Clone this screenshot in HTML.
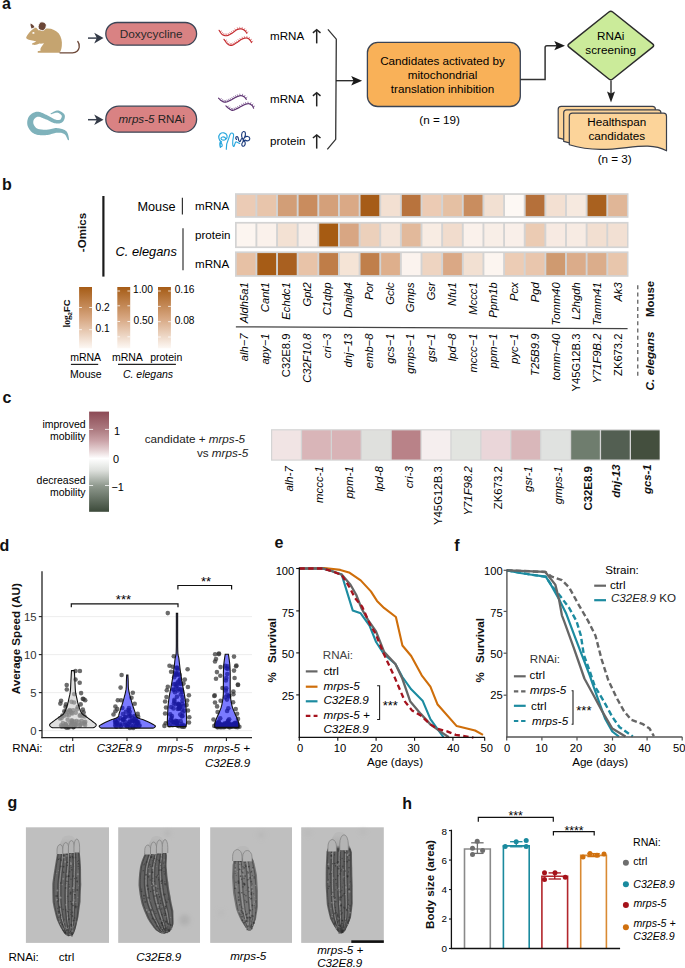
<!DOCTYPE html>
<html><head><meta charset="utf-8"><title>Figure</title>
<style>
html,body{margin:0;padding:0;background:#fff;}
svg{display:block;font-family:"Liberation Sans",sans-serif;}
</style></head>
<body>
<svg width="685" height="968" viewBox="0 0 685 968">
<rect x="0" y="0" width="685" height="968" fill="#fff"/>
<text x="1.90" y="8.80" font-size="16" font-weight="bold" fill="#111" >a</text>
<path d="M26.2,37.2 C27.5,34.5 29.5,32 31.5,30.2 C33,29 34.5,28 36,27.6 L38.8,30.6 C41,29.3 44,28.6 47,28.4 C52,28.2 56,30.3 58.8,33.6 C61.3,36.8 62.3,41.5 61.8,46 C61.5,49.5 60.6,51.6 59.4,52.8 L38.2,52.8 C37.4,52.6 37.4,51.4 38.4,51.1 L40.6,50.8 C40.2,49.5 40.4,48.2 41.3,47 L44,43.2 C42.5,43.6 41,43.8 39.5,43.6 L37,44.6 C35,45.2 32.5,45 32,44.3 C31.6,43.6 32.6,43 33.8,42.7 L36.3,41.6 C34.5,41 32.6,40.6 31,40.2 L28.8,39.7 C27.2,39.3 25.9,38.4 26.2,37.2 Z" fill="#c5a470"/>
<ellipse cx="42.2" cy="26.2" rx="3.9" ry="4.3" transform="rotate(20 42.2 26.2)" fill="#6b4636" stroke="#fff" stroke-width="0.8"/>
<path d="M30.6,23.6 C32.5,24.3 33.8,25.6 34.5,27.2 L31.6,28.6 C30.8,27 30.4,25.3 30.6,23.6 Z" fill="#6b4636"/>
<ellipse cx="33.4" cy="32.9" rx="1.1" ry="0.9" fill="#fff"/>
<path d="M60,52.8 L72.5,52.8 C76,52.6 78.6,50.5 79.2,47.3 C79.6,45 79,43 77.8,41.5" stroke="#6b4636" stroke-width="1.3" fill="none" stroke-linecap="round"/>
<path d="M50.85,114.27 L51.30,114.17 L51.89,113.98 L52.56,113.74 L53.31,113.47 L54.09,113.20 L54.89,112.96 L55.67,112.77 L56.39,112.65 L57.01,112.62 L57.49,112.69 L57.96,112.83 L58.51,113.05 L59.09,113.34 L59.67,113.69 L60.23,114.08 L60.73,114.50 L61.17,114.93 L61.50,115.35 L61.72,115.70 L61.80,115.93 L61.82,116.12 L61.81,116.44 L61.75,116.86 L61.62,117.35 L61.44,117.85 L61.21,118.35 L60.94,118.81 L60.66,119.19 L60.40,119.47 L60.18,119.64 L59.97,119.75 L59.68,119.86 L59.32,119.95 L58.90,120.01 L58.43,120.04 L57.90,120.03 L57.33,119.98 L56.73,119.90 L56.10,119.77 L55.48,119.61 L54.86,119.40 L54.18,119.09 L53.42,118.71 L52.61,118.27 L51.76,117.78 L50.87,117.26 L49.95,116.73 L49.02,116.21 L48.07,115.71 L47.14,115.27 L46.27,114.86 L45.40,114.43 L44.49,113.97 L43.56,113.51 L42.60,113.06 L41.62,112.64 L40.61,112.27 L39.57,111.97 L38.49,111.76 L37.36,111.70 L36.27,111.80 L35.23,112.04 L34.24,112.38 L33.31,112.80 L32.43,113.30 L31.61,113.86 L30.85,114.47 L30.15,115.12 L29.52,115.81 L28.95,116.55 L28.46,117.37 L28.06,118.25 L27.74,119.16 L27.49,120.09 L27.32,121.05 L27.22,122.02 L27.19,123.01 L27.26,124.00 L27.41,125.00 L27.65,125.96 L28.00,126.86 L28.42,127.74 L28.90,128.62 L29.46,129.49 L30.10,130.34 L30.81,131.17 L31.61,131.95 L32.49,132.69 L33.46,133.35 L34.52,133.91 L35.66,134.34 L36.83,134.66 L38.03,134.89 L39.24,135.05 L40.47,135.15 L41.70,135.21 L42.92,135.22 L44.12,135.20 L45.28,135.16 L46.45,135.10 L47.68,134.95 L48.92,134.71 L50.10,134.41 L51.24,134.09 L52.32,133.75 L53.36,133.43 L54.33,133.15 L55.23,132.93 L56.05,132.77 L56.82,132.70 L57.66,132.66 L58.53,132.66 L59.40,132.69 L60.24,132.75 L61.05,132.85 L61.81,132.99 L62.52,133.16 L63.16,133.38 L63.72,133.63 L64.18,133.88 L64.63,134.17 L65.09,134.64 L65.56,135.29 L66.02,136.06 L66.44,136.89 L66.83,137.73 L67.19,138.55 L67.52,139.29 L67.84,139.92 L68.13,140.37 L69.07,140.03 L69.02,139.53 L68.95,138.87 L68.84,138.07 L68.71,137.16 L68.52,136.19 L68.29,135.17 L67.99,134.15 L67.60,133.15 L67.09,132.18 L66.42,131.32 L65.62,130.66 L64.77,130.12 L63.87,129.66 L62.93,129.27 L61.95,128.95 L60.95,128.69 L59.92,128.48 L58.89,128.31 L57.85,128.19 L56.78,128.10 L55.62,128.11 L54.43,128.24 L53.27,128.43 L52.13,128.67 L51.03,128.92 L49.95,129.17 L48.92,129.39 L47.94,129.56 L47.03,129.67 L46.15,129.70 L45.17,129.70 L44.11,129.68 L43.05,129.64 L42.00,129.57 L40.97,129.47 L39.99,129.34 L39.09,129.17 L38.29,128.96 L37.61,128.73 L37.08,128.49 L36.62,128.22 L36.16,127.89 L35.72,127.50 L35.29,127.06 L34.89,126.57 L34.53,126.05 L34.20,125.52 L33.93,124.99 L33.70,124.48 L33.55,124.04 L33.42,123.65 L33.33,123.23 L33.27,122.77 L33.25,122.27 L33.27,121.76 L33.33,121.26 L33.43,120.79 L33.55,120.35 L33.69,119.97 L33.85,119.65 L34.05,119.31 L34.32,118.92 L34.66,118.52 L35.05,118.13 L35.47,117.76 L35.92,117.44 L36.37,117.16 L36.82,116.94 L37.25,116.79 L37.64,116.70 L38.06,116.67 L38.61,116.71 L39.28,116.84 L40.05,117.05 L40.88,117.33 L41.76,117.66 L42.67,118.02 L43.61,118.40 L44.55,118.78 L45.46,119.13 L46.31,119.47 L47.15,119.86 L48.04,120.30 L48.95,120.77 L49.87,121.25 L50.80,121.72 L51.73,122.17 L52.66,122.58 L53.60,122.93 L54.52,123.19 L55.38,123.37 L56.20,123.50 L57.02,123.58 L57.82,123.61 L58.61,123.59 L59.38,123.50 L60.13,123.34 L60.86,123.11 L61.56,122.79 L62.22,122.36 L62.81,121.81 L63.32,121.18 L63.76,120.48 L64.13,119.75 L64.44,118.97 L64.67,118.17 L64.83,117.36 L64.89,116.53 L64.83,115.70 L64.60,114.87 L64.19,114.14 L63.67,113.51 L63.07,112.94 L62.41,112.41 L61.69,111.93 L60.93,111.50 L60.14,111.13 L59.34,110.84 L58.53,110.62 L57.71,110.51 L56.85,110.57 L55.99,110.77 L55.15,111.06 L54.32,111.42 L53.51,111.82 L52.75,112.23 L52.05,112.63 L51.43,113.00 L50.93,113.30 L50.55,113.53Z" fill="#7fb2bb"/>
<line x1="88.00" y1="38.10" x2="98.00" y2="38.10" stroke="#3a4250" stroke-width="1.5" />
<path d="M94.2,32.80 L103.5,38.10 L94.2,43.40 L96.8,38.10 Z" fill="#333a47"/>
<line x1="88.00" y1="119.70" x2="98.00" y2="119.70" stroke="#3a4250" stroke-width="1.5" />
<path d="M94.2,114.40 L103.5,119.70 L94.2,125.00 L96.8,119.70 Z" fill="#333a47"/>
<rect x="105.8" y="22.5" width="90.8" height="22.7" rx="11.35" fill="#d98283" stroke="#3b4556" stroke-width="1.3"/>
<rect x="105.8" y="106.2" width="90.8" height="26" rx="13" fill="#d98283" stroke="#3b4556" stroke-width="1.3"/>
<text x="151.20" y="38.20" font-size="11.8" text-anchor="middle" fill="#2a2a2a" >Doxycycline</text>
<text x="151.6" y="123.2" font-size="11.6" text-anchor="middle" fill="#222"><tspan font-style="italic">mrps-5</tspan> RNAi</text>
<path d="M220.14,31.90 l1.77,-1.13 M221.33,33.56 l1.64,-1.31 M222.97,34.92 l1.06,-1.81 M224.81,35.61 l0.51,-2.04 M226.80,35.70 l-0.20,-2.09 M228.92,34.98 l-0.89,-1.90 M230.69,33.99 l-1.07,-1.81 M232.43,32.93 l-1.12,-1.78 M234.16,31.63 l-1.31,-1.64 M235.87,30.31 l-1.23,-1.70 M237.90,29.30 l-0.68,-1.99 M239.85,28.94 l-0.18,-2.09 M241.92,29.05 l0.35,-2.07 M243.87,29.91 l1.12,-1.77 M245.43,31.24 l1.58,-1.38 M246.60,32.91 l1.76,-1.14" stroke="#d9686c" stroke-width="0.75" fill="none"/>
<path d="M219.10,30.30 L219.25,30.51 L219.43,30.79 L219.64,31.12 L219.88,31.50 L220.14,31.90 L220.42,32.33 L220.71,32.75 L221.02,33.17 L221.33,33.56 L221.65,33.92 L221.98,34.24 L222.30,34.50 L222.63,34.72 L222.97,34.92 L223.32,35.10 L223.68,35.26 L224.05,35.40 L224.43,35.52 L224.81,35.61 L225.20,35.69 L225.60,35.73 L225.99,35.75 L226.40,35.74 L226.80,35.70 L227.21,35.62 L227.63,35.51 L228.05,35.36 L228.49,35.18 L228.92,34.98 L229.36,34.75 L229.80,34.51 L230.25,34.25 L230.69,33.99 L231.13,33.72 L231.57,33.46 L232.00,33.20 L232.43,32.93 L232.86,32.63 L233.30,32.31 L233.73,31.97 L234.16,31.63 L234.59,31.28 L235.02,30.94 L235.45,30.62 L235.87,30.31 L236.29,30.04 L236.70,29.80 L237.10,29.60 L237.50,29.44 L237.90,29.30 L238.30,29.19 L238.69,29.10 L239.08,29.03 L239.47,28.98 L239.85,28.94 L240.22,28.93 L240.58,28.93 L240.93,28.94 L241.27,28.96 L241.60,29.00 L241.92,29.05 L242.22,29.13 L242.52,29.22 L242.81,29.33 L243.09,29.46 L243.36,29.60 L243.62,29.75 L243.87,29.91 L244.11,30.08 L244.35,30.25 L244.58,30.42 L244.80,30.60 L245.02,30.79 L245.23,31.01 L245.43,31.24 L245.63,31.49 L245.82,31.74 L246.00,32.00 L246.17,32.25 L246.33,32.49 L246.47,32.71 L246.60,32.91 L246.71,33.07 L246.80,33.20" stroke="#c42a2e" stroke-width="1.2" fill="none" stroke-linecap="round"/>
<path d="M225.20,41.00 l1.72,-1.20 M226.52,42.77 l1.64,-1.31 M228.10,44.28 l1.30,-1.65 M229.92,45.29 l0.67,-1.99 M232.09,45.22 l-0.57,-2.02 M233.82,44.42 l-1.00,-1.85 M235.62,43.33 l-1.11,-1.79 M237.36,42.24 l-1.17,-1.74 M239.09,40.97 l-1.26,-1.68 M240.79,39.77 l-1.16,-1.75 M242.80,38.76 l-0.81,-1.94 M244.72,38.16 l-0.48,-2.04 M246.72,38.04 l0.23,-2.09 M248.59,38.78 l1.10,-1.79 M250.22,40.34 l1.68,-1.26 M251.36,42.13 l1.79,-1.09" stroke="#d9686c" stroke-width="0.75" fill="none"/>
<path d="M224.00,39.30 L224.17,39.53 L224.38,39.82 L224.62,40.18 L224.90,40.57 L225.20,41.00 L225.51,41.45 L225.84,41.90 L226.18,42.35 L226.52,42.77 L226.86,43.17 L227.19,43.51 L227.50,43.80 L227.80,44.05 L228.10,44.28 L228.40,44.50 L228.69,44.70 L228.99,44.88 L229.29,45.04 L229.60,45.18 L229.92,45.29 L230.24,45.36 L230.58,45.41 L230.93,45.42 L231.30,45.40 L231.68,45.33 L232.09,45.22 L232.50,45.07 L232.93,44.88 L233.37,44.66 L233.82,44.42 L234.27,44.16 L234.72,43.89 L235.17,43.61 L235.62,43.33 L236.07,43.06 L236.50,42.80 L236.93,42.53 L237.36,42.24 L237.80,41.94 L238.23,41.62 L238.66,41.29 L239.09,40.97 L239.52,40.65 L239.95,40.34 L240.37,40.04 L240.79,39.77 L241.20,39.52 L241.60,39.30 L242.00,39.11 L242.40,38.93 L242.80,38.76 L243.19,38.61 L243.58,38.47 L243.97,38.35 L244.35,38.25 L244.72,38.16 L245.08,38.09 L245.43,38.04 L245.77,38.01 L246.10,38.00 L246.42,38.01 L246.72,38.04 L247.01,38.10 L247.30,38.17 L247.57,38.26 L247.84,38.37 L248.10,38.49 L248.35,38.63 L248.59,38.78 L248.83,38.94 L249.07,39.12 L249.30,39.30 L249.53,39.51 L249.76,39.76 L249.99,40.04 L250.22,40.34 L250.44,40.66 L250.65,40.98 L250.85,41.30 L251.04,41.60 L251.21,41.88 L251.36,42.13 L251.49,42.34 L251.60,42.50" stroke="#c42a2e" stroke-width="1.2" fill="none" stroke-linecap="round"/>
<path d="M220.10,99.67 l1.45,-1.52 M221.77,100.97 l1.11,-1.78 M223.46,101.90 l0.84,-1.92 M225.47,102.17 l-0.19,-2.09 M227.55,101.57 l-0.74,-1.97 M229.33,100.80 l-0.87,-1.91 M231.06,99.97 l-0.97,-1.86 M232.80,98.95 l-1.09,-1.80 M234.54,97.93 l-1.02,-1.84 M236.27,97.10 l-0.87,-1.91 M238.05,96.35 l-0.77,-1.95 M240.13,95.74 l-0.39,-2.06 M242.18,95.88 l0.53,-2.03 M244.10,96.80 l1.09,-1.79 M245.61,98.36 l1.68,-1.26" stroke="#7e5b92" stroke-width="0.75" fill="none"/>
<path d="M218.60,98.20 L218.74,98.33 L218.91,98.50 L219.10,98.70 L219.33,98.92 L219.57,99.16 L219.82,99.41 L220.10,99.67 L220.37,99.93 L220.66,100.17 L220.94,100.41 L221.22,100.62 L221.50,100.80 L221.77,100.97 L222.04,101.14 L222.32,101.31 L222.59,101.47 L222.87,101.63 L223.16,101.77 L223.46,101.90 L223.76,102.01 L224.08,102.10 L224.41,102.17 L224.75,102.20 L225.10,102.20 L225.47,102.17 L225.86,102.10 L226.27,102.00 L226.69,101.88 L227.11,101.73 L227.55,101.57 L227.99,101.39 L228.44,101.20 L228.88,101.00 L229.33,100.80 L229.77,100.60 L230.20,100.40 L230.63,100.19 L231.06,99.97 L231.50,99.73 L231.93,99.47 L232.36,99.21 L232.80,98.95 L233.24,98.69 L233.67,98.43 L234.10,98.17 L234.54,97.93 L234.97,97.71 L235.40,97.50 L235.83,97.30 L236.27,97.10 L236.72,96.90 L237.16,96.71 L237.61,96.53 L238.05,96.35 L238.49,96.19 L238.91,96.04 L239.33,95.92 L239.74,95.82 L240.13,95.74 L240.50,95.70 L240.86,95.69 L241.20,95.70 L241.54,95.74 L241.86,95.80 L242.18,95.88 L242.48,95.98 L242.78,96.10 L243.06,96.22 L243.33,96.36 L243.60,96.50 L243.85,96.65 L244.10,96.80 L244.34,96.97 L244.57,97.16 L244.80,97.39 L245.02,97.62 L245.23,97.87 L245.43,98.12 L245.61,98.36 L245.78,98.60 L245.94,98.82 L246.08,99.01 L246.20,99.17 L246.30,99.30" stroke="#5f3472" stroke-width="1.2" fill="none" stroke-linecap="round"/>
<path d="M227.40,107.27 l1.40,-1.56 M229.07,108.59 l1.21,-1.71 M230.76,109.81 l1.11,-1.79 M232.77,110.28 l-0.12,-2.10 M234.81,109.67 l-0.79,-1.94 M236.59,108.84 l-0.92,-1.89 M238.45,107.92 l-0.97,-1.86 M240.45,106.78 l-1.06,-1.81 M242.45,105.65 l-0.99,-1.85 M244.31,104.81 l-0.81,-1.94 M246.09,104.14 l-0.68,-1.99 M248.13,103.70 l-0.19,-2.09 M250.21,104.18 l0.88,-1.91 M251.88,105.31 l1.33,-1.62 M253.07,106.91 l1.88,-0.93" stroke="#7e5b92" stroke-width="0.75" fill="none"/>
<path d="M225.90,105.90 L226.04,106.02 L226.21,106.18 L226.40,106.36 L226.63,106.57 L226.87,106.79 L227.12,107.03 L227.40,107.27 L227.67,107.52 L227.96,107.76 L228.24,107.99 L228.52,108.20 L228.80,108.40 L229.07,108.59 L229.34,108.80 L229.62,109.01 L229.89,109.22 L230.17,109.43 L230.46,109.62 L230.76,109.81 L231.06,109.97 L231.38,110.11 L231.71,110.21 L232.05,110.28 L232.40,110.30 L232.77,110.28 L233.15,110.22 L233.55,110.12 L233.96,110.00 L234.38,109.84 L234.81,109.67 L235.24,109.48 L235.69,109.27 L236.13,109.06 L236.59,108.84 L237.04,108.62 L237.50,108.40 L237.97,108.17 L238.45,107.92 L238.94,107.65 L239.44,107.37 L239.94,107.07 L240.45,106.78 L240.96,106.48 L241.46,106.19 L241.96,105.91 L242.45,105.65 L242.93,105.41 L243.40,105.20 L243.86,105.00 L244.31,104.81 L244.77,104.63 L245.21,104.45 L245.66,104.29 L246.09,104.14 L246.52,104.00 L246.94,103.89 L247.35,103.80 L247.75,103.74 L248.13,103.70 L248.50,103.70 L248.86,103.73 L249.21,103.80 L249.55,103.90 L249.89,104.03 L250.21,104.18 L250.53,104.34 L250.82,104.53 L251.11,104.72 L251.38,104.92 L251.64,105.12 L251.88,105.31 L252.10,105.50 L252.30,105.70 L252.49,105.92 L252.66,106.15 L252.81,106.40 L252.95,106.66 L253.07,106.91 L253.19,107.16 L253.29,107.40 L253.38,107.61 L253.46,107.81 L253.53,107.97 L253.60,108.10" stroke="#5f3472" stroke-width="1.2" fill="none" stroke-linecap="round"/>
<path d="M220.4,147.5 C219.6,145 219.4,143 220.5,141.5 M221.5,141.8 C218.5,140.5 218,136 220,134 C222,132 226,132.5 227,135.5 C227.8,138.5 225,140.5 222.5,140 C220.5,139.5 220.5,137.5 222.5,137 C224.5,136.6 226,137.8 225.5,139.2 M221.5,142 C220,143.5 219.5,146 221,146.5 C222.5,147 222.5,144.5 221.5,143.5 M226.3,149.3 C226,146 227,142 228.5,139 C229.5,136.5 229.5,134 231,133.2 C232.8,132.5 234,134 233.5,136.3 C233,138.5 232.5,141 232.7,144 C232.8,146.5 233.8,147.5 234.5,145 C235,143.5 235.2,142.5 236.2,141.8 L239.7,143.5" stroke="#2aa8de" stroke-width="1.15" fill="none" stroke-linecap="round"/>
<path d="M236.5,139.5 C235,138 236,136 237.5,136.8 C239,137.8 237.8,140.8 239.5,141.5 C241,142 240.5,139 241.8,138.5 M242.8,139 C241,137 241.2,132 243.5,131.5 C245.8,131.2 246,135 244.5,137.5 L243,140 M244.5,137.5 C246.5,135.8 249.5,136.2 249.8,138.5 C250,141 247,141.5 245,140 M243.5,140 C245.5,141.5 246,144.5 244,146 C242,147 241,144.5 242.5,142.5 C243,141.5 243.5,141 244,140.5" stroke="#1b3b7d" stroke-width="1.15" fill="none" stroke-linecap="round"/>
<text x="270.00" y="40.20" font-size="11.6" >mRNA</text>
<text x="270.00" y="103.20" font-size="11.6" >mRNA</text>
<text x="270.00" y="145.40" font-size="11.6" >protein</text>
<line x1="316.70" y1="30.20" x2="316.70" y2="43.40" stroke="#222" stroke-width="1.5" />
<path d="M312.9,32.80 L316.7,29.70 L320.5,32.80" stroke="#222" stroke-width="1.5" fill="none" stroke-linejoin="miter"/>
<line x1="316.70" y1="93.20" x2="316.70" y2="106.40" stroke="#222" stroke-width="1.5" />
<path d="M312.9,95.80 L316.7,92.70 L320.5,95.80" stroke="#222" stroke-width="1.5" fill="none" stroke-linejoin="miter"/>
<line x1="316.70" y1="135.40" x2="316.70" y2="148.60" stroke="#222" stroke-width="1.5" />
<path d="M312.9,138.00 L316.7,134.90 L320.5,138.00" stroke="#222" stroke-width="1.5" fill="none" stroke-linejoin="miter"/>
<path d="M327.9,29.4 L336.3,39.2 L335.7,139.3 L327.3,149.4" stroke="#333" stroke-width="1.3" fill="none" stroke-linejoin="miter"/>
<line x1="336.00" y1="80.70" x2="354.00" y2="80.70" stroke="#222" stroke-width="1.3" />
<path d="M351.2,76.0 L362.1,80.7 L351.2,85.4 L353.6,80.7 Z" fill="#1a1a1a"/>
<rect x="367.4" y="42.4" width="152.9" height="64.1" rx="10.3" fill="#f9b158" stroke="#3b4454" stroke-width="1.3"/>
<text x="442.50" y="65.40" font-size="11.7" text-anchor="middle" >Candidates activated by</text>
<text x="442.50" y="79.10" font-size="11.7" text-anchor="middle" >mitochondrial</text>
<text x="442.50" y="92.90" font-size="11.7" text-anchor="middle" >translation inhibition</text>
<text x="439.60" y="124.40" font-size="11.7" text-anchor="middle" >(n = 19)</text>
<path d="M520.3,79.4 L545.1,79.4 L545.1,47.5 Q545.1,45.7 546.9,45.7 L557,45.7" stroke="#333" stroke-width="1.5" fill="none"/>
<path d="M554.3,41.1 L565.0,45.7 L554.3,50.3 L556.6,45.7 Z" fill="#1a1a1a"/>
<path d="M569.0,43.9 L608.9,12.0 Q610.8,10.5 612.7,12.0 L652.6,43.9 Q654.6,45.5 652.6,47.1 L612.7,79.0 Q610.8,80.5 608.9,79.0 L569.0,47.1 Q567.0,45.5 569.0,43.9 Z" fill="#cbeb9a" stroke="#2c2c2c" stroke-width="1.5" stroke-linejoin="round"/>
<text x="610.70" y="40.30" font-size="11.7" text-anchor="middle" >RNAi</text>
<text x="610.70" y="53.90" font-size="11.7" text-anchor="middle" >screening</text>
<line x1="611.00" y1="80.50" x2="611.00" y2="94.00" stroke="#222" stroke-width="1.3" />
<path d="M607,91.4 L611,102.6 L615,91.4 L611,93.6 Z" fill="#222"/>
<path d="M561.20,106.30 L652.40,106.30 Q655.40,106.30 655.40,109.30 L655.40,143.90 C631.10,130.70 601.94,151.10 558.20,137.90 L558.20,109.30 Q558.20,106.30 561.20,106.30 Z" fill="#fcd49a" stroke="#3a3f4a" stroke-width="1.2" stroke-linejoin="round"/>
<path d="M566.70,109.80 L657.90,109.80 Q660.90,109.80 660.90,112.80 L660.90,147.40 C636.60,134.20 607.44,154.60 563.70,141.40 L563.70,112.80 Q563.70,109.80 566.70,109.80 Z" fill="#fcd49a" stroke="#3a3f4a" stroke-width="1.2" stroke-linejoin="round"/>
<path d="M572.30,113.20 L663.50,113.20 Q666.50,113.20 666.50,116.20 L666.50,150.80 C642.20,137.60 613.04,158.00 569.30,144.80 L569.30,116.20 Q569.30,113.20 572.30,113.20 Z" fill="#fcd49a" stroke="#3a3f4a" stroke-width="1.2" stroke-linejoin="round"/>
<text x="616.80" y="126.20" font-size="11.7" text-anchor="middle" >Healthspan</text>
<text x="616.80" y="140.10" font-size="11.7" text-anchor="middle" >candidates</text>
<text x="614.70" y="163.40" font-size="11.7" text-anchor="middle" >(n = 3)</text>
<text x="2.00" y="189.50" font-size="16" font-weight="bold" fill="#111" >b</text>
<text x="85.80" y="252.20" font-size="11.6" font-weight="bold" fill="#111" transform="rotate(-90 85.80 252.20)" >-Omics</text>
<line x1="103.40" y1="196.00" x2="103.40" y2="276.60" stroke="#1a1a1a" stroke-width="2.2" />
<text x="175.60" y="211.40" font-size="12.7" text-anchor="end" >Mouse</text>
<line x1="182.40" y1="197.80" x2="182.40" y2="214.60" stroke="#333" stroke-width="1.2" />
<text x="176.80" y="256.30" font-size="12.8" text-anchor="end" font-style="italic" >C. elegans</text>
<line x1="183.00" y1="228.30" x2="183.00" y2="270.30" stroke="#333" stroke-width="1.2" />
<text x="195.00" y="210.00" font-size="11.6" >mRNA</text>
<text x="195.00" y="239.20" font-size="11.6" >protein</text>
<text x="195.00" y="268.00" font-size="11.6" >mRNA</text>
<rect x="235.00" y="193.20" width="393.50" height="24.60" fill="#d3d3d3" stroke="none" stroke-width="0" rx="0" />
<rect x="236.70" y="194.90" width="18.74" height="21.20" fill="#ebcbb5" stroke="none" stroke-width="0" rx="0" />
<rect x="257.34" y="194.90" width="18.74" height="21.20" fill="#e8c5ab" stroke="none" stroke-width="0" rx="0" />
<rect x="277.98" y="194.90" width="18.74" height="21.20" fill="#d29e77" stroke="none" stroke-width="0" rx="0" />
<rect x="298.62" y="194.90" width="18.74" height="21.20" fill="#c98c5e" stroke="none" stroke-width="0" rx="0" />
<rect x="319.26" y="194.90" width="18.74" height="21.20" fill="#d4a07a" stroke="none" stroke-width="0" rx="0" />
<rect x="339.90" y="194.90" width="18.74" height="21.20" fill="#daa986" stroke="none" stroke-width="0" rx="0" />
<rect x="360.54" y="194.90" width="18.74" height="21.20" fill="#a65c18" stroke="none" stroke-width="0" rx="0" />
<rect x="381.18" y="194.90" width="18.74" height="21.20" fill="#f3e0d2" stroke="none" stroke-width="0" rx="0" />
<rect x="401.82" y="194.90" width="18.74" height="21.20" fill="#b8733d" stroke="none" stroke-width="0" rx="0" />
<rect x="422.46" y="194.90" width="18.74" height="21.20" fill="#eccbb4" stroke="none" stroke-width="0" rx="0" />
<rect x="443.10" y="194.90" width="18.74" height="21.20" fill="#e5c0a3" stroke="none" stroke-width="0" rx="0" />
<rect x="463.74" y="194.90" width="18.74" height="21.20" fill="#c98d5f" stroke="none" stroke-width="0" rx="0" />
<rect x="484.38" y="194.90" width="18.74" height="21.20" fill="#f2e0d2" stroke="none" stroke-width="0" rx="0" />
<rect x="505.02" y="194.90" width="18.74" height="21.20" fill="#fdf8f4" stroke="none" stroke-width="0" rx="0" />
<rect x="525.66" y="194.90" width="18.74" height="21.20" fill="#b5703a" stroke="none" stroke-width="0" rx="0" />
<rect x="546.30" y="194.90" width="18.74" height="21.20" fill="#f3e0d2" stroke="none" stroke-width="0" rx="0" />
<rect x="566.94" y="194.90" width="18.74" height="21.20" fill="#f6e9df" stroke="none" stroke-width="0" rx="0" />
<rect x="587.58" y="194.90" width="18.74" height="21.20" fill="#a9611f" stroke="none" stroke-width="0" rx="0" />
<rect x="608.22" y="194.90" width="18.74" height="21.20" fill="#e0b697" stroke="none" stroke-width="0" rx="0" />
<rect x="235.00" y="221.90" width="393.50" height="26.20" fill="#d3d3d3" stroke="none" stroke-width="0" rx="0" />
<rect x="236.70" y="223.60" width="18.74" height="22.80" fill="#fcf5f0" stroke="none" stroke-width="0" rx="0" />
<rect x="257.34" y="223.60" width="18.74" height="22.80" fill="#faf1eb" stroke="none" stroke-width="0" rx="0" />
<rect x="277.98" y="223.60" width="18.74" height="22.80" fill="#f3e1d3" stroke="none" stroke-width="0" rx="0" />
<rect x="298.62" y="223.60" width="18.74" height="22.80" fill="#f8eee8" stroke="none" stroke-width="0" rx="0" />
<rect x="319.26" y="223.60" width="18.74" height="22.80" fill="#a65b12" stroke="none" stroke-width="0" rx="0" />
<rect x="339.90" y="223.60" width="18.74" height="22.80" fill="#d8a683" stroke="none" stroke-width="0" rx="0" />
<rect x="360.54" y="223.60" width="18.74" height="22.80" fill="#ecd0bb" stroke="none" stroke-width="0" rx="0" />
<rect x="381.18" y="223.60" width="18.74" height="22.80" fill="#f4e5da" stroke="none" stroke-width="0" rx="0" />
<rect x="401.82" y="223.60" width="18.74" height="22.80" fill="#e2b99b" stroke="none" stroke-width="0" rx="0" />
<rect x="422.46" y="223.60" width="18.74" height="22.80" fill="#f8ece3" stroke="none" stroke-width="0" rx="0" />
<rect x="443.10" y="223.60" width="18.74" height="22.80" fill="#f1dccd" stroke="none" stroke-width="0" rx="0" />
<rect x="463.74" y="223.60" width="18.74" height="22.80" fill="#faf1eb" stroke="none" stroke-width="0" rx="0" />
<rect x="484.38" y="223.60" width="18.74" height="22.80" fill="#f8eee7" stroke="none" stroke-width="0" rx="0" />
<rect x="505.02" y="223.60" width="18.74" height="22.80" fill="#f9efe9" stroke="none" stroke-width="0" rx="0" />
<rect x="525.66" y="223.60" width="18.74" height="22.80" fill="#ebcbb3" stroke="none" stroke-width="0" rx="0" />
<rect x="546.30" y="223.60" width="18.74" height="22.80" fill="#f7eae2" stroke="none" stroke-width="0" rx="0" />
<rect x="566.94" y="223.60" width="18.74" height="22.80" fill="#f7ebe3" stroke="none" stroke-width="0" rx="0" />
<rect x="587.58" y="223.60" width="18.74" height="22.80" fill="#f2dfd1" stroke="none" stroke-width="0" rx="0" />
<rect x="608.22" y="223.60" width="18.74" height="22.80" fill="#f2e0d3" stroke="none" stroke-width="0" rx="0" />
<rect x="235.00" y="251.40" width="393.50" height="25.40" fill="#d3d3d3" stroke="none" stroke-width="0" rx="0" />
<rect x="236.70" y="253.10" width="18.74" height="22.00" fill="#e7c1a5" stroke="none" stroke-width="0" rx="0" />
<rect x="257.34" y="253.10" width="18.74" height="22.00" fill="#a65c16" stroke="none" stroke-width="0" rx="0" />
<rect x="277.98" y="253.10" width="18.74" height="22.00" fill="#a96020" stroke="none" stroke-width="0" rx="0" />
<rect x="298.62" y="253.10" width="18.74" height="22.00" fill="#e8c3a8" stroke="none" stroke-width="0" rx="0" />
<rect x="319.26" y="253.10" width="18.74" height="22.00" fill="#bf7d48" stroke="none" stroke-width="0" rx="0" />
<rect x="339.90" y="253.10" width="18.74" height="22.00" fill="#f5e4d6" stroke="none" stroke-width="0" rx="0" />
<rect x="360.54" y="253.10" width="18.74" height="22.00" fill="#c07f4b" stroke="none" stroke-width="0" rx="0" />
<rect x="381.18" y="253.10" width="18.74" height="22.00" fill="#deaf8c" stroke="none" stroke-width="0" rx="0" />
<rect x="401.82" y="253.10" width="18.74" height="22.00" fill="#fbf3ee" stroke="none" stroke-width="0" rx="0" />
<rect x="422.46" y="253.10" width="18.74" height="22.00" fill="#eed4c1" stroke="none" stroke-width="0" rx="0" />
<rect x="443.10" y="253.10" width="18.74" height="22.00" fill="#daa885" stroke="none" stroke-width="0" rx="0" />
<rect x="463.74" y="253.10" width="18.74" height="22.00" fill="#f2e0d2" stroke="none" stroke-width="0" rx="0" />
<rect x="484.38" y="253.10" width="18.74" height="22.00" fill="#fcf5f0" stroke="none" stroke-width="0" rx="0" />
<rect x="505.02" y="253.10" width="18.74" height="22.00" fill="#ecccb5" stroke="none" stroke-width="0" rx="0" />
<rect x="525.66" y="253.10" width="18.74" height="22.00" fill="#e9c6ad" stroke="none" stroke-width="0" rx="0" />
<rect x="546.30" y="253.10" width="18.74" height="22.00" fill="#cf9a70" stroke="none" stroke-width="0" rx="0" />
<rect x="566.94" y="253.10" width="18.74" height="22.00" fill="#dbac8a" stroke="none" stroke-width="0" rx="0" />
<rect x="587.58" y="253.10" width="18.74" height="22.00" fill="#dbad8b" stroke="none" stroke-width="0" rx="0" />
<rect x="608.22" y="253.10" width="18.74" height="22.00" fill="#e8c6ac" stroke="none" stroke-width="0" rx="0" />
<text x="248.40" y="282.30" font-size="11.2" text-anchor="end" font-style="italic" transform="rotate(-90 248.40 282.30)" >Aldh5a1</text>
<text x="269.15" y="282.30" font-size="11.2" text-anchor="end" font-style="italic" transform="rotate(-90 269.15 282.30)" >Cant1</text>
<text x="289.90" y="282.30" font-size="11.2" text-anchor="end" font-style="italic" transform="rotate(-90 289.90 282.30)" >Echdc1</text>
<text x="310.65" y="282.30" font-size="11.2" text-anchor="end" font-style="italic" transform="rotate(-90 310.65 282.30)" >Gpt2</text>
<text x="331.40" y="282.30" font-size="11.2" text-anchor="end" font-style="italic" transform="rotate(-90 331.40 282.30)" >C1qbp</text>
<text x="352.15" y="282.30" font-size="11.2" text-anchor="end" font-style="italic" transform="rotate(-90 352.15 282.30)" >Dnajb4</text>
<text x="372.90" y="282.30" font-size="11.2" text-anchor="end" font-style="italic" transform="rotate(-90 372.90 282.30)" >Por</text>
<text x="393.65" y="282.30" font-size="11.2" text-anchor="end" font-style="italic" transform="rotate(-90 393.65 282.30)" >Gclc</text>
<text x="414.40" y="282.30" font-size="11.2" text-anchor="end" font-style="italic" transform="rotate(-90 414.40 282.30)" >Gmps</text>
<text x="435.15" y="282.30" font-size="11.2" text-anchor="end" font-style="italic" transform="rotate(-90 435.15 282.30)" >Gsr</text>
<text x="455.90" y="282.30" font-size="11.2" text-anchor="end" font-style="italic" transform="rotate(-90 455.90 282.30)" >Nfu1</text>
<text x="476.65" y="282.30" font-size="11.2" text-anchor="end" font-style="italic" transform="rotate(-90 476.65 282.30)" >Mccc1</text>
<text x="497.40" y="282.30" font-size="11.2" text-anchor="end" font-style="italic" transform="rotate(-90 497.40 282.30)" >Ppm1b</text>
<text x="518.15" y="282.30" font-size="11.2" text-anchor="end" font-style="italic" transform="rotate(-90 518.15 282.30)" >Pcx</text>
<text x="538.90" y="282.30" font-size="11.2" text-anchor="end" font-style="italic" transform="rotate(-90 538.90 282.30)" >Pgd</text>
<text x="559.65" y="282.30" font-size="11.2" text-anchor="end" font-style="italic" transform="rotate(-90 559.65 282.30)" >Tomm40</text>
<text x="580.40" y="282.30" font-size="11.2" text-anchor="end" font-style="italic" transform="rotate(-90 580.40 282.30)" >L2hgdh</text>
<text x="601.15" y="282.30" font-size="11.2" text-anchor="end" font-style="italic" transform="rotate(-90 601.15 282.30)" >Tamm41</text>
<text x="621.90" y="282.30" font-size="11.2" text-anchor="end" font-style="italic" transform="rotate(-90 621.90 282.30)" >Ak3</text>
<text x="248.40" y="333.60" font-size="11.2" text-anchor="end" font-style="italic" transform="rotate(-90 248.40 333.60)" >alh−7</text>
<text x="269.15" y="333.60" font-size="11.2" text-anchor="end" font-style="italic" transform="rotate(-90 269.15 333.60)" >apy−1</text>
<text x="289.90" y="333.60" font-size="11.2" text-anchor="end" transform="rotate(-90 289.90 333.60)" >C32E8.9</text>
<text x="310.65" y="333.60" font-size="11.2" text-anchor="end" font-style="italic" transform="rotate(-90 310.65 333.60)" >C32F10.8</text>
<text x="331.40" y="333.60" font-size="11.2" text-anchor="end" font-style="italic" transform="rotate(-90 331.40 333.60)" >cri−3</text>
<text x="352.15" y="333.60" font-size="11.2" text-anchor="end" font-style="italic" transform="rotate(-90 352.15 333.60)" >dnj−13</text>
<text x="372.90" y="333.60" font-size="11.2" text-anchor="end" font-style="italic" transform="rotate(-90 372.90 333.60)" >emb−8</text>
<text x="393.65" y="333.60" font-size="11.2" text-anchor="end" font-style="italic" transform="rotate(-90 393.65 333.60)" >gcs−1</text>
<text x="414.40" y="333.60" font-size="11.2" text-anchor="end" font-style="italic" transform="rotate(-90 414.40 333.60)" >gmps−1</text>
<text x="435.15" y="333.60" font-size="11.2" text-anchor="end" font-style="italic" transform="rotate(-90 435.15 333.60)" >gsr−1</text>
<text x="455.90" y="333.60" font-size="11.2" text-anchor="end" font-style="italic" transform="rotate(-90 455.90 333.60)" >lpd−8</text>
<text x="476.65" y="333.60" font-size="11.2" text-anchor="end" font-style="italic" transform="rotate(-90 476.65 333.60)" >mccc−1</text>
<text x="497.40" y="333.60" font-size="11.2" text-anchor="end" font-style="italic" transform="rotate(-90 497.40 333.60)" >ppm−1</text>
<text x="518.15" y="333.60" font-size="11.2" text-anchor="end" font-style="italic" transform="rotate(-90 518.15 333.60)" >pyc−1</text>
<text x="538.90" y="333.60" font-size="11.2" text-anchor="end" font-style="italic" transform="rotate(-90 538.90 333.60)" >T25B9.9</text>
<text x="559.65" y="333.60" font-size="11.2" text-anchor="end" font-style="italic" transform="rotate(-90 559.65 333.60)" >tomm−40</text>
<text x="580.40" y="333.60" font-size="11.2" text-anchor="end" transform="rotate(-90 580.40 333.60)" >Y45G12B.3</text>
<text x="601.15" y="333.60" font-size="11.2" text-anchor="end" font-style="italic" transform="rotate(-90 601.15 333.60)" >Y71F9B.2</text>
<text x="621.90" y="333.60" font-size="11.2" text-anchor="end" transform="rotate(-90 621.90 333.60)" >ZK673.2</text>
<line x1="235.90" y1="326.80" x2="627.60" y2="328.60" stroke="#444" stroke-width="1.3" />
<line x1="637.80" y1="285.30" x2="637.80" y2="377.30" stroke="#444" stroke-width="1.1" stroke-dasharray="4,3.2"/>
<text x="654.00" y="316.90" font-size="11.4" font-weight="bold" fill="#111" transform="rotate(-90 654.00 316.90)" >Mouse</text>
<text x="654.00" y="390.40" font-size="11.8" font-weight="bold" font-style="italic" fill="#111" transform="rotate(-90 654.00 390.40)" >C. elegans</text>
<defs><linearGradient id="gb" x1="0" y1="0" x2="0" y2="1"><stop offset="0" stop-color="#a65c16"/><stop offset="0.5" stop-color="#d6a57f"/><stop offset="1" stop-color="#fdf8f4"/></linearGradient></defs>
<rect x="79.10" y="287.00" width="12.90" height="61.30" fill="url(#gb)" stroke="none" stroke-width="0" rx="0" />
<rect x="117.30" y="287.00" width="12.90" height="61.30" fill="url(#gb)" stroke="none" stroke-width="0" rx="0" />
<rect x="158.00" y="287.00" width="12.90" height="61.30" fill="url(#gb)" stroke="none" stroke-width="0" rx="0" />
<line x1="79.10" y1="307.50" x2="81.90" y2="307.50" stroke="#fff" stroke-width="0.8" />
<line x1="89.20" y1="307.50" x2="92.00" y2="307.50" stroke="#fff" stroke-width="0.8" />
<line x1="79.10" y1="329.70" x2="81.90" y2="329.70" stroke="#fff" stroke-width="0.8" />
<line x1="89.20" y1="329.70" x2="92.00" y2="329.70" stroke="#fff" stroke-width="0.8" />
<line x1="117.30" y1="291.00" x2="120.10" y2="291.00" stroke="#fff" stroke-width="0.8" />
<line x1="127.40" y1="291.00" x2="130.20" y2="291.00" stroke="#fff" stroke-width="0.8" />
<line x1="117.30" y1="305.80" x2="120.10" y2="305.80" stroke="#fff" stroke-width="0.8" />
<line x1="127.40" y1="305.80" x2="130.20" y2="305.80" stroke="#fff" stroke-width="0.8" />
<line x1="117.30" y1="321.50" x2="120.10" y2="321.50" stroke="#fff" stroke-width="0.8" />
<line x1="127.40" y1="321.50" x2="130.20" y2="321.50" stroke="#fff" stroke-width="0.8" />
<line x1="117.30" y1="336.80" x2="120.10" y2="336.80" stroke="#fff" stroke-width="0.8" />
<line x1="127.40" y1="336.80" x2="130.20" y2="336.80" stroke="#fff" stroke-width="0.8" />
<line x1="158.00" y1="291.00" x2="160.80" y2="291.00" stroke="#fff" stroke-width="0.8" />
<line x1="168.10" y1="291.00" x2="170.90" y2="291.00" stroke="#fff" stroke-width="0.8" />
<line x1="158.00" y1="306.40" x2="160.80" y2="306.40" stroke="#fff" stroke-width="0.8" />
<line x1="168.10" y1="306.40" x2="170.90" y2="306.40" stroke="#fff" stroke-width="0.8" />
<line x1="158.00" y1="321.70" x2="160.80" y2="321.70" stroke="#fff" stroke-width="0.8" />
<line x1="168.10" y1="321.70" x2="170.90" y2="321.70" stroke="#fff" stroke-width="0.8" />
<line x1="158.00" y1="337.00" x2="160.80" y2="337.00" stroke="#fff" stroke-width="0.8" />
<line x1="168.10" y1="337.00" x2="170.90" y2="337.00" stroke="#fff" stroke-width="0.8" />
<text x="95.60" y="310.50" font-size="10.2" >0.2</text>
<text x="95.60" y="331.70" font-size="10.2" >0.1</text>
<text x="133.10" y="293.00" font-size="10.2" >1.00</text>
<text x="133.50" y="324.10" font-size="10.2" >0.50</text>
<text x="174.70" y="293.00" font-size="10.2" >0.16</text>
<text x="174.70" y="324.10" font-size="10.2" >0.08</text>
<text x="69.8" y="327.4" font-size="9.4" font-weight="bold" fill="#111" transform="rotate(-90 69.8 327.4)"><tspan font-family="Liberation Serif" font-size="9.6">log</tspan><tspan font-size="5.6" dy="2.2">2</tspan><tspan dy="-2.2">FC</tspan></text>
<text x="70.20" y="360.70" font-size="10.5" >mRNA</text>
<text x="111.90" y="360.70" font-size="10.5" >mRNA</text>
<text x="150.20" y="360.70" font-size="10.5" >protein</text>
<line x1="70.90" y1="364.40" x2="98.20" y2="364.40" stroke="#222" stroke-width="1.2" />
<line x1="118.00" y1="364.40" x2="175.90" y2="364.40" stroke="#222" stroke-width="1.2" />
<text x="70.10" y="377.50" font-size="10.5" >Mouse</text>
<text x="122.90" y="377.50" font-size="10.5" font-style="italic" >C. elegans</text>
<text x="2.40" y="403.20" font-size="16" font-weight="bold" fill="#111" >c</text>
<defs><linearGradient id="gc" x1="0" y1="0" x2="0" y2="1"><stop offset="0" stop-color="#8c4a55"/><stop offset="0.18" stop-color="#ad7b81"/><stop offset="0.29" stop-color="#caa2a7"/><stop offset="0.39" stop-color="#e6d3d5"/><stop offset="0.468" stop-color="#ffffff"/><stop offset="0.59" stop-color="#dcdfdb"/><stop offset="0.74" stop-color="#8f998e"/><stop offset="1" stop-color="#3c4a3a"/></linearGradient></defs>
<rect x="89.10" y="411.60" width="19.90" height="100.20" fill="url(#gc)" stroke="none" stroke-width="0" rx="0" />
<line x1="89.10" y1="429.40" x2="93.10" y2="429.40" stroke="#fff" stroke-width="0.8" />
<line x1="105.00" y1="429.40" x2="109.00" y2="429.40" stroke="#fff" stroke-width="0.8" />
<line x1="89.10" y1="458.50" x2="93.10" y2="458.50" stroke="#fff" stroke-width="0.8" />
<line x1="105.00" y1="458.50" x2="109.00" y2="458.50" stroke="#fff" stroke-width="0.8" />
<line x1="89.10" y1="485.50" x2="93.10" y2="485.50" stroke="#fff" stroke-width="0.8" />
<line x1="105.00" y1="485.50" x2="109.00" y2="485.50" stroke="#fff" stroke-width="0.8" />
<text x="113.90" y="434.80" font-size="10.9" >1</text>
<text x="113.10" y="462.80" font-size="10.9" >0</text>
<text x="111.40" y="490.90" font-size="10.9" >−1</text>
<text x="85.60" y="427.70" font-size="10.5" text-anchor="end" >improved</text>
<text x="85.60" y="439.90" font-size="10.5" text-anchor="end" >mobility</text>
<text x="85.60" y="483.70" font-size="10.5" text-anchor="end" >decreased</text>
<text x="85.60" y="496.10" font-size="10.5" text-anchor="end" >mobility</text>
<text x="245.1" y="443.4" font-size="11.7" text-anchor="end" fill="#222">candidate + <tspan font-style="italic">mrps-5</tspan></text>
<text x="248.2" y="457.4" font-size="11.7" text-anchor="end" fill="#222">vs <tspan font-style="italic">mrps-5</tspan></text>
<rect x="271.00" y="429.20" width="388.70" height="31.50" fill="#d4d4d4" stroke="none" stroke-width="0" rx="0" />
<rect x="272.20" y="430.40" width="28.60" height="29.10" fill="#f1e4e4" stroke="none" stroke-width="0" rx="0" />
<rect x="302.10" y="430.40" width="28.60" height="29.10" fill="#d9b5b8" stroke="none" stroke-width="0" rx="0" />
<rect x="332.00" y="430.40" width="28.60" height="29.10" fill="#d8b3b6" stroke="none" stroke-width="0" rx="0" />
<rect x="361.90" y="430.40" width="28.60" height="29.10" fill="#dfe0dd" stroke="none" stroke-width="0" rx="0" />
<rect x="391.80" y="430.40" width="28.60" height="29.10" fill="#b98288" stroke="none" stroke-width="0" rx="0" />
<rect x="421.70" y="430.40" width="28.60" height="29.10" fill="#f5eeee" stroke="none" stroke-width="0" rx="0" />
<rect x="451.60" y="430.40" width="28.60" height="29.10" fill="#e2e4e0" stroke="none" stroke-width="0" rx="0" />
<rect x="481.50" y="430.40" width="28.60" height="29.10" fill="#ead6d9" stroke="none" stroke-width="0" rx="0" />
<rect x="511.40" y="430.40" width="28.60" height="29.10" fill="#d9b7ba" stroke="none" stroke-width="0" rx="0" />
<rect x="541.30" y="430.40" width="28.60" height="29.10" fill="#e0e2e0" stroke="none" stroke-width="0" rx="0" />
<rect x="571.20" y="430.40" width="28.60" height="29.10" fill="#6f7d6e" stroke="none" stroke-width="0" rx="0" />
<rect x="601.10" y="430.40" width="28.60" height="29.10" fill="#535f52" stroke="none" stroke-width="0" rx="0" />
<rect x="631.00" y="430.40" width="28.60" height="29.10" fill="#444f3e" stroke="none" stroke-width="0" rx="0" />
<text x="292.95" y="466.20" font-size="11.4" text-anchor="end" font-style="italic" transform="rotate(-90 292.95 466.20)" >alh-7</text>
<text x="322.85" y="466.20" font-size="11.4" text-anchor="end" font-style="italic" transform="rotate(-90 322.85 466.20)" >mccc-1</text>
<text x="352.75" y="466.20" font-size="11.4" text-anchor="end" font-style="italic" transform="rotate(-90 352.75 466.20)" >ppm-1</text>
<text x="382.65" y="466.20" font-size="11.4" text-anchor="end" font-style="italic" transform="rotate(-90 382.65 466.20)" >lpd-8</text>
<text x="412.55" y="466.20" font-size="11.4" text-anchor="end" font-style="italic" transform="rotate(-90 412.55 466.20)" >cri-3</text>
<text x="442.45" y="466.20" font-size="11.4" text-anchor="end" transform="rotate(-90 442.45 466.20)" >Y45G12B.3</text>
<text x="472.35" y="466.20" font-size="11.4" text-anchor="end" font-style="italic" transform="rotate(-90 472.35 466.20)" >Y71F98.2</text>
<text x="502.25" y="466.20" font-size="11.4" text-anchor="end" transform="rotate(-90 502.25 466.20)" >ZK673.2</text>
<text x="532.15" y="466.20" font-size="11.4" text-anchor="end" font-style="italic" transform="rotate(-90 532.15 466.20)" >gsr-1</text>
<text x="562.05" y="466.20" font-size="11.4" text-anchor="end" font-style="italic" transform="rotate(-90 562.05 466.20)" >gmps-1</text>
<text x="591.95" y="466.20" font-size="11.4" text-anchor="end" font-weight="bold" fill="#111" transform="rotate(-90 591.95 466.20)" >C32E8.9</text>
<text x="620.25" y="464.30" font-size="11.4" text-anchor="end" font-weight="bold" font-style="italic" fill="#111" transform="rotate(-90 620.25 464.30)" >dnj-13</text>
<text x="651.05" y="464.30" font-size="11.4" text-anchor="end" font-weight="bold" font-style="italic" fill="#111" transform="rotate(-90 651.05 464.30)" >gcs-1</text>
<text x="-0.60" y="550.50" font-size="16" font-weight="bold" fill="#111" >d</text>
<line x1="42.50" y1="730.60" x2="252.00" y2="730.60" stroke="#ebebeb" stroke-width="0.9" />
<line x1="42.50" y1="692.60" x2="252.00" y2="692.60" stroke="#ebebeb" stroke-width="0.9" />
<line x1="42.50" y1="654.60" x2="252.00" y2="654.60" stroke="#ebebeb" stroke-width="0.9" />
<line x1="42.50" y1="616.60" x2="252.00" y2="616.60" stroke="#ebebeb" stroke-width="0.9" />
<circle cx="75.50" cy="671.00" r="2.3" fill="#333" fill-opacity="0.72"/>
<circle cx="79.90" cy="671.00" r="2.3" fill="#333" fill-opacity="0.72"/>
<circle cx="75.50" cy="679.50" r="2.3" fill="#333" fill-opacity="0.72"/>
<circle cx="79.70" cy="682.70" r="2.3" fill="#333" fill-opacity="0.72"/>
<circle cx="66.70" cy="685.10" r="2.3" fill="#333" fill-opacity="0.72"/>
<circle cx="66.80" cy="689.50" r="2.3" fill="#333" fill-opacity="0.72"/>
<circle cx="81.10" cy="693.10" r="2.3" fill="#333" fill-opacity="0.72"/>
<circle cx="82.80" cy="698.70" r="2.3" fill="#333" fill-opacity="0.72"/>
<circle cx="85.20" cy="700.30" r="2.3" fill="#333" fill-opacity="0.72"/>
<circle cx="83.60" cy="699.10" r="2.3" fill="#333" fill-opacity="0.72"/>
<circle cx="61.10" cy="700.70" r="2.3" fill="#333" fill-opacity="0.72"/>
<circle cx="60.30" cy="703.60" r="2.3" fill="#333" fill-opacity="0.72"/>
<circle cx="66.00" cy="704.40" r="2.3" fill="#333" fill-opacity="0.72"/>
<circle cx="80.70" cy="704.40" r="2.3" fill="#333" fill-opacity="0.72"/>
<circle cx="65.50" cy="706.80" r="2.3" fill="#333" fill-opacity="0.72"/>
<circle cx="82.80" cy="709.60" r="2.3" fill="#333" fill-opacity="0.72"/>
<circle cx="83.60" cy="712.40" r="2.3" fill="#333" fill-opacity="0.72"/>
<circle cx="64.30" cy="711.20" r="2.3" fill="#333" fill-opacity="0.72"/>
<circle cx="62.50" cy="715.50" r="2.3" fill="#333" fill-opacity="0.72"/>
<circle cx="84.50" cy="716.50" r="2.3" fill="#333" fill-opacity="0.72"/>
<circle cx="60.00" cy="718.50" r="2.3" fill="#333" fill-opacity="0.72"/>
<circle cx="121.60" cy="675.00" r="2.3" fill="#333" fill-opacity="0.72"/>
<circle cx="120.60" cy="687.60" r="2.3" fill="#333" fill-opacity="0.72"/>
<circle cx="132.80" cy="692.70" r="2.3" fill="#333" fill-opacity="0.72"/>
<circle cx="117.80" cy="700.30" r="2.3" fill="#333" fill-opacity="0.72"/>
<circle cx="121.10" cy="700.30" r="2.3" fill="#333" fill-opacity="0.72"/>
<circle cx="131.50" cy="697.70" r="2.3" fill="#333" fill-opacity="0.72"/>
<circle cx="115.40" cy="706.60" r="2.3" fill="#333" fill-opacity="0.72"/>
<circle cx="117.30" cy="709.10" r="2.3" fill="#333" fill-opacity="0.72"/>
<circle cx="115.40" cy="711.30" r="2.3" fill="#333" fill-opacity="0.72"/>
<circle cx="134.70" cy="703.70" r="2.3" fill="#333" fill-opacity="0.72"/>
<circle cx="137.70" cy="713.90" r="2.3" fill="#333" fill-opacity="0.72"/>
<circle cx="138.20" cy="716.70" r="2.3" fill="#333" fill-opacity="0.72"/>
<circle cx="113.50" cy="714.50" r="2.3" fill="#333" fill-opacity="0.72"/>
<circle cx="167.80" cy="613.10" r="2.3" fill="#333" fill-opacity="0.72"/>
<circle cx="173.80" cy="656.30" r="2.3" fill="#333" fill-opacity="0.72"/>
<circle cx="169.50" cy="665.70" r="2.3" fill="#333" fill-opacity="0.72"/>
<circle cx="172.70" cy="666.80" r="2.3" fill="#333" fill-opacity="0.72"/>
<circle cx="171.10" cy="671.80" r="2.3" fill="#333" fill-opacity="0.72"/>
<circle cx="187.60" cy="669.20" r="2.3" fill="#333" fill-opacity="0.72"/>
<circle cx="184.80" cy="679.60" r="2.3" fill="#333" fill-opacity="0.72"/>
<circle cx="183.50" cy="683.60" r="2.3" fill="#333" fill-opacity="0.72"/>
<circle cx="187.90" cy="687.00" r="2.3" fill="#333" fill-opacity="0.72"/>
<circle cx="167.80" cy="686.70" r="2.3" fill="#333" fill-opacity="0.72"/>
<circle cx="166.80" cy="690.30" r="2.3" fill="#333" fill-opacity="0.72"/>
<circle cx="188.90" cy="695.30" r="2.3" fill="#333" fill-opacity="0.72"/>
<circle cx="165.10" cy="701.50" r="2.3" fill="#333" fill-opacity="0.72"/>
<circle cx="187.20" cy="700.60" r="2.3" fill="#333" fill-opacity="0.72"/>
<circle cx="186.60" cy="705.10" r="2.3" fill="#333" fill-opacity="0.72"/>
<circle cx="165.10" cy="713.50" r="2.3" fill="#333" fill-opacity="0.72"/>
<circle cx="189.30" cy="717.20" r="2.3" fill="#333" fill-opacity="0.72"/>
<circle cx="165.70" cy="723.20" r="2.3" fill="#333" fill-opacity="0.72"/>
<circle cx="164.40" cy="725.90" r="2.3" fill="#333" fill-opacity="0.72"/>
<circle cx="183.90" cy="726.60" r="2.3" fill="#333" fill-opacity="0.72"/>
<circle cx="166.50" cy="697.00" r="2.3" fill="#333" fill-opacity="0.72"/>
<circle cx="188.00" cy="710.50" r="2.3" fill="#333" fill-opacity="0.72"/>
<circle cx="166.00" cy="707.50" r="2.3" fill="#333" fill-opacity="0.72"/>
<circle cx="189.00" cy="722.50" r="2.3" fill="#333" fill-opacity="0.72"/>
<circle cx="218.80" cy="654.10" r="2.3" fill="#333" fill-opacity="0.72"/>
<circle cx="216.00" cy="659.00" r="2.3" fill="#333" fill-opacity="0.72"/>
<circle cx="215.00" cy="661.50" r="2.3" fill="#333" fill-opacity="0.72"/>
<circle cx="234.00" cy="656.60" r="2.3" fill="#333" fill-opacity="0.72"/>
<circle cx="236.10" cy="666.20" r="2.3" fill="#333" fill-opacity="0.72"/>
<circle cx="220.60" cy="667.10" r="2.3" fill="#333" fill-opacity="0.72"/>
<circle cx="216.90" cy="672.10" r="2.3" fill="#333" fill-opacity="0.72"/>
<circle cx="234.00" cy="670.60" r="2.3" fill="#333" fill-opacity="0.72"/>
<circle cx="220.30" cy="675.70" r="2.3" fill="#333" fill-opacity="0.72"/>
<circle cx="216.00" cy="678.70" r="2.3" fill="#333" fill-opacity="0.72"/>
<circle cx="234.60" cy="678.00" r="2.3" fill="#333" fill-opacity="0.72"/>
<circle cx="238.00" cy="685.00" r="2.3" fill="#333" fill-opacity="0.72"/>
<circle cx="222.50" cy="688.00" r="2.3" fill="#333" fill-opacity="0.72"/>
<circle cx="233.40" cy="691.50" r="2.3" fill="#333" fill-opacity="0.72"/>
<circle cx="214.30" cy="696.00" r="2.3" fill="#333" fill-opacity="0.72"/>
<circle cx="233.40" cy="694.30" r="2.3" fill="#333" fill-opacity="0.72"/>
<circle cx="215.00" cy="702.50" r="2.3" fill="#333" fill-opacity="0.72"/>
<circle cx="220.60" cy="700.80" r="2.3" fill="#333" fill-opacity="0.72"/>
<circle cx="233.10" cy="702.20" r="2.3" fill="#333" fill-opacity="0.72"/>
<circle cx="217.10" cy="706.40" r="2.3" fill="#333" fill-opacity="0.72"/>
<circle cx="235.70" cy="709.00" r="2.3" fill="#333" fill-opacity="0.72"/>
<circle cx="217.60" cy="712.00" r="2.3" fill="#333" fill-opacity="0.72"/>
<circle cx="237.10" cy="713.80" r="2.3" fill="#333" fill-opacity="0.72"/>
<circle cx="238.00" cy="718.90" r="2.3" fill="#333" fill-opacity="0.72"/>
<circle cx="214.30" cy="725.90" r="2.3" fill="#333" fill-opacity="0.72"/>
<circle cx="239.40" cy="726.80" r="2.3" fill="#333" fill-opacity="0.72"/>
<circle cx="215.10" cy="654.20" r="2.3" fill="#333" fill-opacity="0.72"/>
<circle cx="219.00" cy="653.50" r="2.3" fill="#333" fill-opacity="0.72"/>
<circle cx="214.70" cy="695.40" r="2.3" fill="#333" fill-opacity="0.72"/>
<circle cx="236.40" cy="665.50" r="2.3" fill="#333" fill-opacity="0.72"/>
<circle cx="237.90" cy="684.60" r="2.3" fill="#333" fill-opacity="0.72"/>
<circle cx="213.50" cy="719.50" r="2.3" fill="#333" fill-opacity="0.72"/>
<circle cx="82.25" cy="715.85" r="2.3" fill="#333" fill-opacity="0.72"/>
<circle cx="72.04" cy="724.21" r="2.3" fill="#333" fill-opacity="0.72"/>
<circle cx="66.79" cy="714.81" r="2.3" fill="#333" fill-opacity="0.72"/>
<circle cx="73.20" cy="727.29" r="2.3" fill="#333" fill-opacity="0.72"/>
<circle cx="63.87" cy="715.93" r="2.3" fill="#333" fill-opacity="0.72"/>
<circle cx="68.91" cy="715.17" r="2.3" fill="#333" fill-opacity="0.72"/>
<circle cx="75.78" cy="712.79" r="2.3" fill="#333" fill-opacity="0.72"/>
<circle cx="61.45" cy="718.23" r="2.3" fill="#333" fill-opacity="0.72"/>
<circle cx="74.05" cy="702.54" r="2.3" fill="#333" fill-opacity="0.72"/>
<circle cx="75.79" cy="725.09" r="2.3" fill="#333" fill-opacity="0.72"/>
<circle cx="73.61" cy="727.00" r="2.3" fill="#333" fill-opacity="0.72"/>
<circle cx="61.89" cy="726.50" r="2.3" fill="#333" fill-opacity="0.72"/>
<circle cx="61.15" cy="725.24" r="2.3" fill="#333" fill-opacity="0.72"/>
<circle cx="72.00" cy="721.10" r="2.3" fill="#333" fill-opacity="0.72"/>
<circle cx="73.15" cy="710.26" r="2.3" fill="#333" fill-opacity="0.72"/>
<circle cx="76.41" cy="721.01" r="2.3" fill="#333" fill-opacity="0.72"/>
<circle cx="72.23" cy="713.38" r="2.3" fill="#333" fill-opacity="0.72"/>
<circle cx="85.29" cy="721.89" r="2.3" fill="#333" fill-opacity="0.72"/>
<circle cx="74.19" cy="694.09" r="2.3" fill="#333" fill-opacity="0.72"/>
<circle cx="66.14" cy="725.69" r="2.3" fill="#333" fill-opacity="0.72"/>
<circle cx="67.63" cy="719.64" r="2.3" fill="#333" fill-opacity="0.72"/>
<circle cx="71.43" cy="712.71" r="2.3" fill="#333" fill-opacity="0.72"/>
<circle cx="81.56" cy="720.75" r="2.3" fill="#333" fill-opacity="0.72"/>
<circle cx="77.04" cy="709.12" r="2.3" fill="#333" fill-opacity="0.72"/>
<circle cx="65.92" cy="711.66" r="2.3" fill="#333" fill-opacity="0.72"/>
<circle cx="72.15" cy="722.51" r="2.3" fill="#333" fill-opacity="0.72"/>
<circle cx="77.79" cy="706.94" r="2.3" fill="#333" fill-opacity="0.72"/>
<circle cx="76.14" cy="724.86" r="2.3" fill="#333" fill-opacity="0.72"/>
<circle cx="79.86" cy="725.63" r="2.3" fill="#333" fill-opacity="0.72"/>
<circle cx="68.71" cy="727.42" r="2.3" fill="#333" fill-opacity="0.72"/>
<circle cx="84.50" cy="723.75" r="2.3" fill="#333" fill-opacity="0.72"/>
<circle cx="66.56" cy="727.69" r="2.3" fill="#333" fill-opacity="0.72"/>
<circle cx="62.93" cy="723.00" r="2.3" fill="#333" fill-opacity="0.72"/>
<circle cx="68.43" cy="711.53" r="2.3" fill="#333" fill-opacity="0.72"/>
<circle cx="74.38" cy="721.46" r="2.3" fill="#333" fill-opacity="0.72"/>
<circle cx="78.70" cy="721.86" r="2.3" fill="#333" fill-opacity="0.72"/>
<circle cx="63.67" cy="725.86" r="2.3" fill="#333" fill-opacity="0.72"/>
<circle cx="70.92" cy="724.89" r="2.3" fill="#333" fill-opacity="0.72"/>
<circle cx="65.72" cy="724.08" r="2.3" fill="#333" fill-opacity="0.72"/>
<circle cx="80.49" cy="724.68" r="2.3" fill="#333" fill-opacity="0.72"/>
<circle cx="71.50" cy="701.86" r="2.3" fill="#333" fill-opacity="0.72"/>
<circle cx="70.26" cy="722.85" r="2.3" fill="#333" fill-opacity="0.72"/>
<circle cx="81.76" cy="723.44" r="2.3" fill="#333" fill-opacity="0.72"/>
<circle cx="85.13" cy="725.08" r="2.3" fill="#333" fill-opacity="0.72"/>
<circle cx="65.73" cy="724.41" r="2.3" fill="#333" fill-opacity="0.72"/>
<circle cx="68.62" cy="727.06" r="2.3" fill="#333" fill-opacity="0.72"/>
<circle cx="70.17" cy="710.96" r="2.3" fill="#333" fill-opacity="0.72"/>
<circle cx="74.97" cy="724.09" r="2.3" fill="#333" fill-opacity="0.72"/>
<circle cx="66.48" cy="726.03" r="2.3" fill="#333" fill-opacity="0.72"/>
<circle cx="71.73" cy="720.28" r="2.3" fill="#333" fill-opacity="0.72"/>
<circle cx="84.38" cy="722.28" r="2.3" fill="#333" fill-opacity="0.72"/>
<circle cx="80.26" cy="715.09" r="2.3" fill="#333" fill-opacity="0.72"/>
<circle cx="64.97" cy="726.62" r="2.3" fill="#333" fill-opacity="0.72"/>
<circle cx="79.79" cy="715.70" r="2.3" fill="#333" fill-opacity="0.72"/>
<circle cx="69.71" cy="710.14" r="2.3" fill="#333" fill-opacity="0.72"/>
<circle cx="138.31" cy="722.42" r="2.3" fill="#333" fill-opacity="0.72"/>
<circle cx="122.91" cy="714.04" r="2.3" fill="#333" fill-opacity="0.72"/>
<circle cx="128.50" cy="710.00" r="2.3" fill="#333" fill-opacity="0.72"/>
<circle cx="125.34" cy="722.13" r="2.3" fill="#333" fill-opacity="0.72"/>
<circle cx="138.87" cy="725.90" r="2.3" fill="#333" fill-opacity="0.72"/>
<circle cx="120.76" cy="726.38" r="2.3" fill="#333" fill-opacity="0.72"/>
<circle cx="135.39" cy="725.96" r="2.3" fill="#333" fill-opacity="0.72"/>
<circle cx="129.71" cy="721.19" r="2.3" fill="#333" fill-opacity="0.72"/>
<circle cx="132.81" cy="726.41" r="2.3" fill="#333" fill-opacity="0.72"/>
<circle cx="116.52" cy="722.48" r="2.3" fill="#333" fill-opacity="0.72"/>
<circle cx="136.11" cy="726.36" r="2.3" fill="#333" fill-opacity="0.72"/>
<circle cx="129.17" cy="716.37" r="2.3" fill="#333" fill-opacity="0.72"/>
<circle cx="119.90" cy="724.10" r="2.3" fill="#333" fill-opacity="0.72"/>
<circle cx="122.35" cy="707.94" r="2.3" fill="#333" fill-opacity="0.72"/>
<circle cx="116.31" cy="726.75" r="2.3" fill="#333" fill-opacity="0.72"/>
<circle cx="120.40" cy="718.10" r="2.3" fill="#333" fill-opacity="0.72"/>
<circle cx="118.09" cy="719.87" r="2.3" fill="#333" fill-opacity="0.72"/>
<circle cx="123.85" cy="719.21" r="2.3" fill="#333" fill-opacity="0.72"/>
<circle cx="128.93" cy="708.13" r="2.3" fill="#333" fill-opacity="0.72"/>
<circle cx="129.74" cy="711.74" r="2.3" fill="#333" fill-opacity="0.72"/>
<circle cx="115.68" cy="723.61" r="2.3" fill="#333" fill-opacity="0.72"/>
<circle cx="115.25" cy="725.40" r="2.3" fill="#333" fill-opacity="0.72"/>
<circle cx="134.70" cy="715.96" r="2.3" fill="#333" fill-opacity="0.72"/>
<circle cx="115.33" cy="720.36" r="2.3" fill="#333" fill-opacity="0.72"/>
<circle cx="133.06" cy="721.08" r="2.3" fill="#333" fill-opacity="0.72"/>
<circle cx="122.77" cy="720.04" r="2.3" fill="#333" fill-opacity="0.72"/>
<circle cx="128.45" cy="724.33" r="2.3" fill="#333" fill-opacity="0.72"/>
<circle cx="133.23" cy="727.93" r="2.3" fill="#333" fill-opacity="0.72"/>
<circle cx="130.54" cy="715.87" r="2.3" fill="#333" fill-opacity="0.72"/>
<circle cx="134.63" cy="719.19" r="2.3" fill="#333" fill-opacity="0.72"/>
<circle cx="131.93" cy="720.63" r="2.3" fill="#333" fill-opacity="0.72"/>
<circle cx="137.32" cy="723.62" r="2.3" fill="#333" fill-opacity="0.72"/>
<circle cx="134.56" cy="721.41" r="2.3" fill="#333" fill-opacity="0.72"/>
<circle cx="136.39" cy="721.08" r="2.3" fill="#333" fill-opacity="0.72"/>
<circle cx="125.37" cy="716.48" r="2.3" fill="#333" fill-opacity="0.72"/>
<circle cx="129.37" cy="722.30" r="2.3" fill="#333" fill-opacity="0.72"/>
<circle cx="130.79" cy="725.05" r="2.3" fill="#333" fill-opacity="0.72"/>
<circle cx="139.63" cy="725.58" r="2.3" fill="#333" fill-opacity="0.72"/>
<circle cx="125.40" cy="717.22" r="2.3" fill="#333" fill-opacity="0.72"/>
<circle cx="132.02" cy="717.85" r="2.3" fill="#333" fill-opacity="0.72"/>
<circle cx="135.76" cy="719.36" r="2.3" fill="#333" fill-opacity="0.72"/>
<circle cx="116.89" cy="723.15" r="2.3" fill="#333" fill-opacity="0.72"/>
<circle cx="129.83" cy="727.94" r="2.3" fill="#333" fill-opacity="0.72"/>
<circle cx="126.82" cy="725.70" r="2.3" fill="#333" fill-opacity="0.72"/>
<circle cx="127.23" cy="726.19" r="2.3" fill="#333" fill-opacity="0.72"/>
<circle cx="128.95" cy="713.93" r="2.3" fill="#333" fill-opacity="0.72"/>
<circle cx="115.08" cy="721.79" r="2.3" fill="#333" fill-opacity="0.72"/>
<circle cx="122.33" cy="724.58" r="2.3" fill="#333" fill-opacity="0.72"/>
<circle cx="119.04" cy="725.26" r="2.3" fill="#333" fill-opacity="0.72"/>
<circle cx="137.44" cy="722.42" r="2.3" fill="#333" fill-opacity="0.72"/>
<circle cx="137.09" cy="722.66" r="2.3" fill="#333" fill-opacity="0.72"/>
<circle cx="122.97" cy="719.62" r="2.3" fill="#333" fill-opacity="0.72"/>
<circle cx="125.57" cy="724.88" r="2.3" fill="#333" fill-opacity="0.72"/>
<circle cx="134.95" cy="722.70" r="2.3" fill="#333" fill-opacity="0.72"/>
<circle cx="125.82" cy="711.81" r="2.3" fill="#333" fill-opacity="0.72"/>
<circle cx="174.46" cy="699.73" r="2.3" fill="#333" fill-opacity="0.72"/>
<circle cx="176.94" cy="723.74" r="2.3" fill="#333" fill-opacity="0.72"/>
<circle cx="179.52" cy="680.23" r="2.3" fill="#333" fill-opacity="0.72"/>
<circle cx="181.84" cy="690.33" r="2.3" fill="#333" fill-opacity="0.72"/>
<circle cx="171.48" cy="717.95" r="2.3" fill="#333" fill-opacity="0.72"/>
<circle cx="173.48" cy="708.41" r="2.3" fill="#333" fill-opacity="0.72"/>
<circle cx="175.56" cy="720.78" r="2.3" fill="#333" fill-opacity="0.72"/>
<circle cx="176.92" cy="696.71" r="2.3" fill="#333" fill-opacity="0.72"/>
<circle cx="182.58" cy="716.03" r="2.3" fill="#333" fill-opacity="0.72"/>
<circle cx="176.83" cy="667.63" r="2.3" fill="#333" fill-opacity="0.72"/>
<circle cx="169.58" cy="725.56" r="2.3" fill="#333" fill-opacity="0.72"/>
<circle cx="174.14" cy="677.22" r="2.3" fill="#333" fill-opacity="0.72"/>
<circle cx="177.76" cy="690.53" r="2.3" fill="#333" fill-opacity="0.72"/>
<circle cx="181.81" cy="716.36" r="2.3" fill="#333" fill-opacity="0.72"/>
<circle cx="176.25" cy="723.75" r="2.3" fill="#333" fill-opacity="0.72"/>
<circle cx="182.08" cy="726.56" r="2.3" fill="#333" fill-opacity="0.72"/>
<circle cx="170.98" cy="719.77" r="2.3" fill="#333" fill-opacity="0.72"/>
<circle cx="179.01" cy="726.18" r="2.3" fill="#333" fill-opacity="0.72"/>
<circle cx="179.04" cy="708.66" r="2.3" fill="#333" fill-opacity="0.72"/>
<circle cx="180.79" cy="694.57" r="2.3" fill="#333" fill-opacity="0.72"/>
<circle cx="177.74" cy="669.75" r="2.3" fill="#333" fill-opacity="0.72"/>
<circle cx="176.58" cy="721.39" r="2.3" fill="#333" fill-opacity="0.72"/>
<circle cx="168.85" cy="722.21" r="2.3" fill="#333" fill-opacity="0.72"/>
<circle cx="180.33" cy="707.07" r="2.3" fill="#333" fill-opacity="0.72"/>
<circle cx="173.21" cy="722.19" r="2.3" fill="#333" fill-opacity="0.72"/>
<circle cx="180.22" cy="714.44" r="2.3" fill="#333" fill-opacity="0.72"/>
<circle cx="178.71" cy="703.97" r="2.3" fill="#333" fill-opacity="0.72"/>
<circle cx="175.99" cy="686.82" r="2.3" fill="#333" fill-opacity="0.72"/>
<circle cx="180.43" cy="683.95" r="2.3" fill="#333" fill-opacity="0.72"/>
<circle cx="183.91" cy="725.23" r="2.3" fill="#333" fill-opacity="0.72"/>
<circle cx="173.14" cy="689.47" r="2.3" fill="#333" fill-opacity="0.72"/>
<circle cx="178.97" cy="708.23" r="2.3" fill="#333" fill-opacity="0.72"/>
<circle cx="176.36" cy="674.02" r="2.3" fill="#333" fill-opacity="0.72"/>
<circle cx="182.35" cy="700.72" r="2.3" fill="#333" fill-opacity="0.72"/>
<circle cx="180.70" cy="683.56" r="2.3" fill="#333" fill-opacity="0.72"/>
<circle cx="179.36" cy="707.60" r="2.3" fill="#333" fill-opacity="0.72"/>
<circle cx="180.71" cy="721.16" r="2.3" fill="#333" fill-opacity="0.72"/>
<circle cx="178.10" cy="681.79" r="2.3" fill="#333" fill-opacity="0.72"/>
<circle cx="173.97" cy="689.84" r="2.3" fill="#333" fill-opacity="0.72"/>
<circle cx="179.63" cy="674.89" r="2.3" fill="#333" fill-opacity="0.72"/>
<circle cx="177.13" cy="668.05" r="2.3" fill="#333" fill-opacity="0.72"/>
<circle cx="175.48" cy="684.04" r="2.3" fill="#333" fill-opacity="0.72"/>
<circle cx="178.85" cy="674.02" r="2.3" fill="#333" fill-opacity="0.72"/>
<circle cx="170.20" cy="714.29" r="2.3" fill="#333" fill-opacity="0.72"/>
<circle cx="177.79" cy="709.00" r="2.3" fill="#333" fill-opacity="0.72"/>
<circle cx="176.89" cy="685.86" r="2.3" fill="#333" fill-opacity="0.72"/>
<circle cx="181.77" cy="726.51" r="2.3" fill="#333" fill-opacity="0.72"/>
<circle cx="181.71" cy="725.81" r="2.3" fill="#333" fill-opacity="0.72"/>
<circle cx="174.25" cy="722.43" r="2.3" fill="#333" fill-opacity="0.72"/>
<circle cx="173.92" cy="684.28" r="2.3" fill="#333" fill-opacity="0.72"/>
<circle cx="177.27" cy="723.31" r="2.3" fill="#333" fill-opacity="0.72"/>
<circle cx="180.54" cy="689.38" r="2.3" fill="#333" fill-opacity="0.72"/>
<circle cx="182.08" cy="692.00" r="2.3" fill="#333" fill-opacity="0.72"/>
<circle cx="183.91" cy="705.78" r="2.3" fill="#333" fill-opacity="0.72"/>
<circle cx="172.55" cy="725.27" r="2.3" fill="#333" fill-opacity="0.72"/>
<circle cx="173.89" cy="703.56" r="2.3" fill="#333" fill-opacity="0.72"/>
<circle cx="178.42" cy="688.97" r="2.3" fill="#333" fill-opacity="0.72"/>
<circle cx="182.12" cy="703.82" r="2.3" fill="#333" fill-opacity="0.72"/>
<circle cx="174.31" cy="701.32" r="2.3" fill="#333" fill-opacity="0.72"/>
<circle cx="182.56" cy="712.49" r="2.3" fill="#333" fill-opacity="0.72"/>
<circle cx="175.41" cy="674.84" r="2.3" fill="#333" fill-opacity="0.72"/>
<circle cx="180.21" cy="679.09" r="2.3" fill="#333" fill-opacity="0.72"/>
<circle cx="178.09" cy="703.72" r="2.3" fill="#333" fill-opacity="0.72"/>
<circle cx="177.60" cy="721.32" r="2.3" fill="#333" fill-opacity="0.72"/>
<circle cx="178.60" cy="705.10" r="2.3" fill="#333" fill-opacity="0.72"/>
<circle cx="184.24" cy="726.52" r="2.3" fill="#333" fill-opacity="0.72"/>
<circle cx="175.51" cy="704.26" r="2.3" fill="#333" fill-opacity="0.72"/>
<circle cx="177.52" cy="683.21" r="2.3" fill="#333" fill-opacity="0.72"/>
<circle cx="179.94" cy="705.88" r="2.3" fill="#333" fill-opacity="0.72"/>
<circle cx="177.61" cy="725.77" r="2.3" fill="#333" fill-opacity="0.72"/>
<circle cx="184.26" cy="710.62" r="2.3" fill="#333" fill-opacity="0.72"/>
<circle cx="175.89" cy="672.85" r="2.3" fill="#333" fill-opacity="0.72"/>
<circle cx="171.21" cy="707.01" r="2.3" fill="#333" fill-opacity="0.72"/>
<circle cx="181.98" cy="709.44" r="2.3" fill="#333" fill-opacity="0.72"/>
<circle cx="176.87" cy="674.84" r="2.3" fill="#333" fill-opacity="0.72"/>
<circle cx="171.92" cy="715.94" r="2.3" fill="#333" fill-opacity="0.72"/>
<circle cx="182.63" cy="697.27" r="2.3" fill="#333" fill-opacity="0.72"/>
<circle cx="181.61" cy="723.97" r="2.3" fill="#333" fill-opacity="0.72"/>
<circle cx="172.45" cy="721.60" r="2.3" fill="#333" fill-opacity="0.72"/>
<circle cx="174.96" cy="692.18" r="2.3" fill="#333" fill-opacity="0.72"/>
<circle cx="223.68" cy="724.75" r="2.3" fill="#333" fill-opacity="0.72"/>
<circle cx="231.79" cy="726.65" r="2.3" fill="#333" fill-opacity="0.72"/>
<circle cx="218.65" cy="726.70" r="2.3" fill="#333" fill-opacity="0.72"/>
<circle cx="220.27" cy="725.54" r="2.3" fill="#333" fill-opacity="0.72"/>
<circle cx="224.12" cy="724.76" r="2.3" fill="#333" fill-opacity="0.72"/>
<circle cx="224.93" cy="727.02" r="2.3" fill="#333" fill-opacity="0.72"/>
<circle cx="220.41" cy="726.02" r="2.3" fill="#333" fill-opacity="0.72"/>
<circle cx="229.64" cy="727.27" r="2.3" fill="#333" fill-opacity="0.72"/>
<circle cx="234.39" cy="725.45" r="2.3" fill="#333" fill-opacity="0.72"/>
<circle cx="229.21" cy="725.06" r="2.3" fill="#333" fill-opacity="0.72"/>
<circle cx="232.00" cy="726.36" r="2.3" fill="#333" fill-opacity="0.72"/>
<circle cx="233.51" cy="726.04" r="2.3" fill="#333" fill-opacity="0.72"/>
<circle cx="222.80" cy="725.66" r="2.3" fill="#333" fill-opacity="0.72"/>
<circle cx="235.93" cy="726.23" r="2.3" fill="#333" fill-opacity="0.72"/>
<circle cx="235.17" cy="725.67" r="2.3" fill="#333" fill-opacity="0.72"/>
<circle cx="220.23" cy="718.23" r="2.3" fill="#333" fill-opacity="0.72"/>
<circle cx="221.61" cy="727.27" r="2.3" fill="#333" fill-opacity="0.72"/>
<circle cx="218.26" cy="723.29" r="2.3" fill="#333" fill-opacity="0.72"/>
<circle cx="233.06" cy="726.19" r="2.3" fill="#333" fill-opacity="0.72"/>
<circle cx="218.72" cy="725.14" r="2.3" fill="#333" fill-opacity="0.72"/>
<circle cx="216.38" cy="724.25" r="2.3" fill="#333" fill-opacity="0.72"/>
<circle cx="220.34" cy="725.24" r="2.3" fill="#333" fill-opacity="0.72"/>
<circle cx="236.92" cy="725.15" r="2.3" fill="#333" fill-opacity="0.72"/>
<circle cx="218.88" cy="722.22" r="2.3" fill="#333" fill-opacity="0.72"/>
<circle cx="226.86" cy="723.08" r="2.3" fill="#333" fill-opacity="0.72"/>
<circle cx="217.52" cy="726.88" r="2.3" fill="#333" fill-opacity="0.72"/>
<circle cx="218.29" cy="725.98" r="2.3" fill="#333" fill-opacity="0.72"/>
<circle cx="227.12" cy="724.28" r="2.3" fill="#333" fill-opacity="0.72"/>
<circle cx="228.28" cy="726.77" r="2.3" fill="#333" fill-opacity="0.72"/>
<circle cx="220.40" cy="726.53" r="2.3" fill="#333" fill-opacity="0.72"/>
<circle cx="234.15" cy="726.21" r="2.3" fill="#333" fill-opacity="0.72"/>
<circle cx="218.63" cy="721.49" r="2.3" fill="#333" fill-opacity="0.72"/>
<circle cx="217.34" cy="727.19" r="2.3" fill="#333" fill-opacity="0.72"/>
<circle cx="232.52" cy="724.73" r="2.3" fill="#333" fill-opacity="0.72"/>
<circle cx="223.06" cy="726.67" r="2.3" fill="#333" fill-opacity="0.72"/>
<circle cx="225.29" cy="724.43" r="2.3" fill="#333" fill-opacity="0.72"/>
<circle cx="228.98" cy="726.90" r="2.3" fill="#333" fill-opacity="0.72"/>
<circle cx="234.13" cy="723.44" r="2.3" fill="#333" fill-opacity="0.72"/>
<circle cx="219.92" cy="727.22" r="2.3" fill="#333" fill-opacity="0.72"/>
<circle cx="224.79" cy="723.38" r="2.3" fill="#333" fill-opacity="0.72"/>
<circle cx="220.21" cy="726.32" r="2.3" fill="#333" fill-opacity="0.72"/>
<circle cx="216.33" cy="725.94" r="2.3" fill="#333" fill-opacity="0.72"/>
<circle cx="235.29" cy="724.81" r="2.3" fill="#333" fill-opacity="0.72"/>
<circle cx="234.59" cy="726.23" r="2.3" fill="#333" fill-opacity="0.72"/>
<circle cx="229.57" cy="723.62" r="2.3" fill="#333" fill-opacity="0.72"/>
<circle cx="226.89" cy="724.59" r="2.3" fill="#333" fill-opacity="0.72"/>
<circle cx="237.23" cy="725.53" r="2.3" fill="#333" fill-opacity="0.72"/>
<circle cx="235.68" cy="726.87" r="2.3" fill="#333" fill-opacity="0.72"/>
<circle cx="232.08" cy="725.62" r="2.3" fill="#333" fill-opacity="0.72"/>
<circle cx="224.76" cy="726.71" r="2.3" fill="#333" fill-opacity="0.72"/>
<circle cx="235.09" cy="722.75" r="2.3" fill="#333" fill-opacity="0.72"/>
<circle cx="232.57" cy="724.58" r="2.3" fill="#333" fill-opacity="0.72"/>
<circle cx="232.53" cy="724.75" r="2.3" fill="#333" fill-opacity="0.72"/>
<circle cx="217.52" cy="724.03" r="2.3" fill="#333" fill-opacity="0.72"/>
<circle cx="223.38" cy="725.18" r="2.3" fill="#333" fill-opacity="0.72"/>
<circle cx="223.68" cy="727.18" r="2.3" fill="#333" fill-opacity="0.72"/>
<circle cx="221.01" cy="725.17" r="2.3" fill="#333" fill-opacity="0.72"/>
<circle cx="236.40" cy="724.71" r="2.3" fill="#333" fill-opacity="0.72"/>
<circle cx="230.25" cy="726.34" r="2.3" fill="#333" fill-opacity="0.72"/>
<circle cx="228.30" cy="725.47" r="2.3" fill="#333" fill-opacity="0.72"/>
<circle cx="237.60" cy="724.97" r="2.3" fill="#333" fill-opacity="0.72"/>
<circle cx="229.87" cy="727.01" r="2.3" fill="#333" fill-opacity="0.72"/>
<circle cx="237.17" cy="726.20" r="2.3" fill="#333" fill-opacity="0.72"/>
<circle cx="216.69" cy="723.26" r="2.3" fill="#333" fill-opacity="0.72"/>
<circle cx="221.54" cy="724.30" r="2.3" fill="#333" fill-opacity="0.72"/>
<circle cx="224.67" cy="724.67" r="2.3" fill="#333" fill-opacity="0.72"/>
<circle cx="224.11" cy="725.89" r="2.3" fill="#333" fill-opacity="0.72"/>
<circle cx="218.13" cy="727.01" r="2.3" fill="#333" fill-opacity="0.72"/>
<circle cx="227.82" cy="721.78" r="2.3" fill="#333" fill-opacity="0.72"/>
<circle cx="228.14" cy="720.62" r="2.3" fill="#333" fill-opacity="0.72"/>
<circle cx="237.49" cy="727.22" r="2.3" fill="#333" fill-opacity="0.72"/>
<circle cx="217.65" cy="724.43" r="2.3" fill="#333" fill-opacity="0.72"/>
<circle cx="228.90" cy="723.87" r="2.3" fill="#333" fill-opacity="0.72"/>
<circle cx="236.09" cy="726.75" r="2.3" fill="#333" fill-opacity="0.72"/>
<circle cx="219.65" cy="725.95" r="2.3" fill="#333" fill-opacity="0.72"/>
<circle cx="227.33" cy="694.79" r="2.3" fill="#333" fill-opacity="0.72"/>
<circle cx="236.17" cy="723.02" r="2.3" fill="#333" fill-opacity="0.72"/>
<circle cx="226.96" cy="699.62" r="2.3" fill="#333" fill-opacity="0.72"/>
<circle cx="226.20" cy="688.18" r="2.3" fill="#333" fill-opacity="0.72"/>
<circle cx="228.33" cy="708.34" r="2.3" fill="#333" fill-opacity="0.72"/>
<circle cx="225.81" cy="690.58" r="2.3" fill="#333" fill-opacity="0.72"/>
<circle cx="225.90" cy="680.51" r="2.3" fill="#333" fill-opacity="0.72"/>
<circle cx="221.29" cy="725.89" r="2.3" fill="#333" fill-opacity="0.72"/>
<circle cx="219.38" cy="724.04" r="2.3" fill="#333" fill-opacity="0.72"/>
<circle cx="226.32" cy="678.05" r="2.3" fill="#333" fill-opacity="0.72"/>
<circle cx="227.78" cy="668.82" r="2.3" fill="#333" fill-opacity="0.72"/>
<circle cx="237.24" cy="723.56" r="2.3" fill="#333" fill-opacity="0.72"/>
<circle cx="225.25" cy="665.79" r="2.3" fill="#333" fill-opacity="0.72"/>
<circle cx="226.52" cy="668.30" r="2.3" fill="#333" fill-opacity="0.72"/>
<circle cx="229.07" cy="695.95" r="2.3" fill="#333" fill-opacity="0.72"/>
<circle cx="227.08" cy="711.06" r="2.3" fill="#333" fill-opacity="0.72"/>
<circle cx="227.62" cy="666.25" r="2.3" fill="#333" fill-opacity="0.72"/>
<circle cx="229.17" cy="696.54" r="2.3" fill="#333" fill-opacity="0.72"/>
<circle cx="227.26" cy="674.04" r="2.3" fill="#333" fill-opacity="0.72"/>
<circle cx="229.15" cy="719.36" r="2.3" fill="#333" fill-opacity="0.72"/>
<circle cx="225.26" cy="697.36" r="2.3" fill="#333" fill-opacity="0.72"/>
<circle cx="227.40" cy="723.44" r="2.3" fill="#333" fill-opacity="0.72"/>
<path d="M74.30,670.64 L74.32,670.91 L74.34,671.24 L74.38,671.65 L74.41,672.16 L74.45,672.81 L74.50,673.60 L74.55,674.56 L74.61,675.66 L74.68,676.90 L74.74,678.23 L74.82,679.65 L74.90,681.12 L74.98,682.73 L75.06,684.50 L75.14,686.35 L75.23,688.20 L75.35,689.96 L75.50,691.54 L75.68,692.92 L75.90,694.18 L76.14,695.35 L76.39,696.46 L76.65,697.56 L76.90,698.68 L77.14,699.79 L77.36,700.85 L77.59,701.90 L77.84,702.95 L78.14,704.05 L78.50,705.22 L78.92,706.51 L79.37,707.92 L79.88,709.36 L80.43,710.78 L81.03,712.08 L81.70,713.20 L82.45,714.10 L83.28,714.83 L84.17,715.46 L85.09,716.03 L86.00,716.60 L86.90,717.22 L87.79,717.90 L88.71,718.58 L89.64,719.25 L90.54,719.92 L91.40,720.56 L92.20,721.18 L92.97,721.77 L93.74,722.34 L94.47,722.89 L95.11,723.42 L95.64,723.91 L96.00,724.37 L96.17,724.78 L96.18,725.16 L96.06,725.51 L95.87,725.83 L95.63,726.14 L95.40,726.42 L95.12,726.69 L94.76,726.95 L94.36,727.19 L93.97,727.41 L93.63,727.58 L93.40,727.71 L52.40,727.71 L52.17,727.58 L51.83,727.41 L51.44,727.19 L51.04,726.95 L50.68,726.69 L50.40,726.42 L50.17,726.14 L49.93,725.83 L49.74,725.51 L49.62,725.16 L49.63,724.78 L49.80,724.37 L50.16,723.91 L50.69,723.42 L51.33,722.89 L52.06,722.34 L52.83,721.77 L53.60,721.18 L54.40,720.56 L55.26,719.92 L56.16,719.25 L57.09,718.58 L58.01,717.90 L58.90,717.22 L59.80,716.60 L60.71,716.03 L61.63,715.46 L62.52,714.83 L63.35,714.10 L64.10,713.20 L64.77,712.08 L65.37,710.78 L65.93,709.36 L66.43,707.92 L66.88,706.51 L67.30,705.22 L67.66,704.05 L67.96,702.95 L68.21,701.90 L68.44,700.85 L68.66,699.79 L68.90,698.68 L69.15,697.56 L69.41,696.46 L69.66,695.35 L69.90,694.18 L70.12,692.92 L70.30,691.54 L70.45,689.96 L70.57,688.20 L70.66,686.35 L70.74,684.50 L70.82,682.73 L70.90,681.12 L70.98,679.65 L71.06,678.23 L71.12,676.90 L71.19,675.66 L71.25,674.56 L71.30,673.60 L71.35,672.81 L71.39,672.16 L71.43,671.65 L71.46,671.24 L71.48,670.91 L71.50,670.64Z" fill="#c4c4c4" fill-opacity="0.55" stroke="#111" stroke-width="1.1"/>
<path d="M127.90,674.97 L127.93,675.64 L127.98,676.57 L128.04,677.67 L128.10,678.86 L128.15,680.07 L128.20,681.20 L128.23,682.29 L128.24,683.41 L128.26,684.54 L128.28,685.66 L128.32,686.76 L128.40,687.81 L128.50,688.77 L128.61,689.64 L128.75,690.48 L128.92,691.36 L129.13,692.35 L129.40,693.51 L129.73,694.88 L130.13,696.40 L130.57,698.03 L131.04,699.71 L131.52,701.39 L132.00,703.01 L132.50,704.64 L133.04,706.33 L133.59,708.02 L134.14,709.64 L134.65,711.13 L135.10,712.44 L135.43,713.53 L135.64,714.45 L135.81,715.24 L136.04,715.95 L136.41,716.59 L137.00,717.22 L137.86,717.81 L138.94,718.30 L140.16,718.75 L141.44,719.17 L142.71,719.59 L143.90,720.04 L145.04,720.51 L146.20,721.00 L147.34,721.48 L148.46,721.96 L149.52,722.45 L150.50,722.92 L151.44,723.41 L152.36,723.92 L153.23,724.42 L154.00,724.90 L154.64,725.35 L155.10,725.74 L155.35,726.06 L155.41,726.34 L155.33,726.58 L155.17,726.79 L154.98,726.99 L154.80,727.18 L154.60,727.37 L154.33,727.56 L154.03,727.73 L153.73,727.88 L153.48,728.00 L153.30,728.09 L101.30,728.09 L101.12,728.00 L100.87,727.88 L100.57,727.73 L100.27,727.56 L100.00,727.37 L99.80,727.18 L99.62,726.99 L99.43,726.79 L99.27,726.58 L99.19,726.34 L99.25,726.06 L99.50,725.74 L99.96,725.35 L100.60,724.90 L101.37,724.42 L102.24,723.92 L103.16,723.41 L104.10,722.92 L105.08,722.45 L106.14,721.96 L107.26,721.48 L108.40,721.00 L109.56,720.51 L110.70,720.04 L111.89,719.59 L113.16,719.17 L114.44,718.75 L115.66,718.30 L116.74,717.81 L117.60,717.22 L118.19,716.59 L118.56,715.95 L118.79,715.24 L118.96,714.45 L119.17,713.53 L119.50,712.44 L119.95,711.13 L120.46,709.64 L121.01,708.02 L121.56,706.33 L122.10,704.64 L122.60,703.01 L123.08,701.39 L123.56,699.71 L124.03,698.03 L124.47,696.40 L124.87,694.88 L125.20,693.51 L125.47,692.35 L125.68,691.36 L125.85,690.48 L125.99,689.64 L126.10,688.77 L126.20,687.81 L126.28,686.76 L126.32,685.66 L126.34,684.54 L126.36,683.41 L126.37,682.29 L126.40,681.20 L126.45,680.07 L126.50,678.86 L126.56,677.67 L126.62,676.57 L126.67,675.64 L126.70,674.97Z" fill="#0000ff" fill-opacity="0.52" stroke="#111" stroke-width="1.1"/>
<path d="M177.65,613.33 L177.65,615.32 L177.64,618.06 L177.64,621.30 L177.64,624.83 L177.64,628.41 L177.65,631.80 L177.66,635.22 L177.65,638.91 L177.66,642.64 L177.67,646.21 L177.72,649.41 L177.80,652.02 L177.92,653.83 L178.08,654.99 L178.26,655.78 L178.46,656.47 L178.68,657.35 L178.90,658.70 L179.13,660.56 L179.37,662.71 L179.63,665.05 L179.90,667.48 L180.19,669.91 L180.50,672.23 L180.83,674.50 L181.20,676.80 L181.57,679.10 L181.96,681.35 L182.34,683.53 L182.70,685.61 L183.05,687.56 L183.41,689.42 L183.76,691.21 L184.10,692.94 L184.42,694.64 L184.70,696.32 L184.95,697.93 L185.18,699.44 L185.38,700.91 L185.57,702.42 L185.74,704.03 L185.90,705.82 L186.05,707.93 L186.20,710.32 L186.33,712.82 L186.44,715.25 L186.54,717.44 L186.60,719.20 L186.64,720.49 L186.64,721.44 L186.63,722.14 L186.60,722.70 L186.55,723.20 L186.50,723.76 L186.42,724.36 L186.31,724.93 L186.19,725.45 L186.07,725.91 L185.97,726.29 L185.90,726.57 L168.10,726.57 L168.03,726.29 L167.93,725.91 L167.81,725.45 L167.69,724.93 L167.58,724.36 L167.50,723.76 L167.45,723.20 L167.40,722.70 L167.37,722.14 L167.36,721.44 L167.36,720.49 L167.40,719.20 L167.46,717.44 L167.56,715.25 L167.67,712.82 L167.80,710.32 L167.95,707.93 L168.10,705.82 L168.26,704.03 L168.43,702.42 L168.62,700.91 L168.82,699.44 L169.05,697.93 L169.30,696.32 L169.58,694.64 L169.90,692.94 L170.24,691.21 L170.59,689.42 L170.95,687.56 L171.30,685.61 L171.66,683.53 L172.04,681.35 L172.43,679.10 L172.80,676.80 L173.17,674.50 L173.50,672.23 L173.81,669.91 L174.10,667.48 L174.37,665.05 L174.63,662.71 L174.87,660.56 L175.10,658.70 L175.32,657.35 L175.54,656.47 L175.74,655.78 L175.92,654.99 L176.08,653.83 L176.20,652.02 L176.28,649.41 L176.33,646.21 L176.34,642.64 L176.35,638.91 L176.34,635.22 L176.35,631.80 L176.36,628.41 L176.36,624.83 L176.36,621.30 L176.36,618.06 L176.35,615.32 L176.35,613.33Z" fill="#0000ff" fill-opacity="0.52" stroke="#111" stroke-width="1.1"/>
<path d="M228.40,654.30 L228.55,655.30 L228.77,656.70 L229.02,658.35 L229.28,660.13 L229.51,661.91 L229.70,663.57 L229.84,665.07 L229.94,666.51 L230.03,667.95 L230.10,669.46 L230.15,671.09 L230.20,672.92 L230.23,675.02 L230.23,677.39 L230.22,679.87 L230.20,682.36 L230.19,684.72 L230.20,686.82 L230.21,688.64 L230.20,690.26 L230.21,691.75 L230.23,693.18 L230.29,694.60 L230.40,696.10 L230.57,697.67 L230.77,699.29 L231.02,700.90 L231.29,702.48 L231.59,703.98 L231.90,705.37 L232.23,706.60 L232.57,707.71 L232.94,708.75 L233.33,709.75 L233.75,710.79 L234.20,711.90 L234.72,713.14 L235.30,714.45 L235.91,715.79 L236.51,717.10 L237.05,718.33 L237.50,719.43 L237.85,720.37 L238.13,721.21 L238.36,721.97 L238.54,722.67 L238.68,723.33 L238.80,723.99 L238.88,724.65 L238.90,725.32 L238.88,725.94 L238.85,726.51 L238.82,726.98 L238.80,727.33 L214.80,727.33 L214.78,726.98 L214.75,726.51 L214.72,725.94 L214.70,725.32 L214.72,724.65 L214.80,723.99 L214.92,723.33 L215.06,722.67 L215.24,721.97 L215.47,721.21 L215.75,720.37 L216.10,719.43 L216.55,718.33 L217.09,717.10 L217.69,715.79 L218.30,714.45 L218.88,713.14 L219.40,711.90 L219.85,710.79 L220.27,709.75 L220.66,708.75 L221.03,707.71 L221.37,706.60 L221.70,705.37 L222.01,703.98 L222.31,702.48 L222.58,700.90 L222.83,699.29 L223.03,697.67 L223.20,696.10 L223.31,694.60 L223.37,693.18 L223.39,691.75 L223.40,690.26 L223.39,688.64 L223.40,686.82 L223.41,684.72 L223.40,682.36 L223.38,679.87 L223.37,677.39 L223.37,675.02 L223.40,672.92 L223.45,671.09 L223.50,669.46 L223.57,667.95 L223.66,666.51 L223.76,665.07 L223.90,663.57 L224.09,661.91 L224.32,660.13 L224.58,658.35 L224.83,656.70 L225.05,655.30 L225.20,654.30Z" fill="#0000ff" fill-opacity="0.52" stroke="#111" stroke-width="1.1"/>
<line x1="42.00" y1="571.20" x2="42.00" y2="738.30" stroke="#222" stroke-width="1.3" />
<line x1="41.40" y1="737.70" x2="252.00" y2="737.70" stroke="#222" stroke-width="1.3" />
<line x1="38.80" y1="730.60" x2="42.00" y2="730.60" stroke="#222" stroke-width="1.1" />
<text x="36.60" y="734.80" font-size="11.3" text-anchor="end" fill="#333" >0</text>
<line x1="38.80" y1="692.60" x2="42.00" y2="692.60" stroke="#222" stroke-width="1.1" />
<text x="36.60" y="696.80" font-size="11.3" text-anchor="end" fill="#333" >5</text>
<line x1="38.80" y1="654.60" x2="42.00" y2="654.60" stroke="#222" stroke-width="1.1" />
<text x="36.60" y="658.80" font-size="11.3" text-anchor="end" fill="#333" >10</text>
<line x1="38.80" y1="616.60" x2="42.00" y2="616.60" stroke="#222" stroke-width="1.1" />
<text x="36.60" y="620.80" font-size="11.3" text-anchor="end" fill="#333" >15</text>
<line x1="72.70" y1="737.70" x2="72.70" y2="741.00" stroke="#222" stroke-width="1.1" />
<line x1="127.00" y1="737.70" x2="127.00" y2="741.00" stroke="#222" stroke-width="1.1" />
<line x1="177.00" y1="737.70" x2="177.00" y2="741.00" stroke="#222" stroke-width="1.1" />
<line x1="226.40" y1="737.70" x2="226.40" y2="741.00" stroke="#222" stroke-width="1.1" />
<text x="20.00" y="638.70" font-size="11.6" text-anchor="middle" font-weight="bold" fill="#111" transform="rotate(-90 20.00 638.70)" >Average Speed (AU)</text>
<text x="12.20" y="752.30" font-size="11.6" >RNAi:</text>
<text x="66.90" y="752.30" font-size="11.6" text-anchor="middle" >ctrl</text>
<text x="119.20" y="752.30" font-size="11.6" text-anchor="middle" font-style="italic" >C32E8.9</text>
<text x="175.30" y="752.30" font-size="11.6" text-anchor="middle" font-style="italic" >mrps-5</text>
<text x="204.00" y="752.30" font-size="11.6" font-style="italic" >mrps-5 +</text>
<text x="205.00" y="766.60" font-size="11.6" font-style="italic" >C32E8.9</text>
<path d="M71.3,607.3 L71.3,603.8 L178.0,603.8 L178.0,607.3" stroke="#111" stroke-width="1.2" fill="none"/>
<text x="123.45" y="603.90" font-size="13" text-anchor="middle" >***</text>
<path d="M177.9,589.6 L177.9,585.5 L231.6,585.5 L231.6,589.6" stroke="#111" stroke-width="1.2" fill="none"/>
<text x="206.05" y="586.40" font-size="13" text-anchor="middle" >**</text>
<text x="274.40" y="547.60" font-size="16" font-weight="bold" fill="#111" >e</text>
<polyline points="299.40,568.50 324.20,568.00 340.30,569.90 349.00,572.40 360.70,580.40 370.90,591.40 377.00,600.90 384.00,607.90 395.90,617.00 402.40,645.50 411.20,656.00 421.70,675.30 430.40,686.70 437.40,704.20 456.70,726.10 475.10,730.50 483.00,734.90" fill="none" stroke="#cf6e0a" stroke-width="2.1" stroke-linejoin="round" stroke-linecap="butt" />
<polyline points="299.40,568.50 322.70,568.50 331.50,571.00 341.70,574.60 352.70,610.40 360.70,613.30 369.50,625.70 376.10,642.00 384.00,654.30 395.40,664.00 402.40,677.00 411.20,689.30 422.60,700.70 430.40,719.10 437.40,728.80 441.50,734.50 443.50,737.20" fill="none" stroke="#1c8ba0" stroke-width="2.1" stroke-linejoin="round" stroke-linecap="butt" />
<polyline points="299.40,568.50 322.70,568.50 331.50,571.00 341.70,574.60 350.50,584.80 356.30,595.00 361.40,608.20 368.00,619.90 376.00,631.50 384.00,651.70 395.40,664.00 402.40,678.80 410.30,701.60 420.80,713.90 430.40,724.40 440.10,731.40 448.80,737.20" fill="none" stroke="#666666" stroke-width="2.3" stroke-linejoin="round" stroke-linecap="butt" />
<polyline points="299.40,568.50 322.70,568.50 331.50,571.00 341.70,575.00 349.00,586.30 354.90,598.00 362.20,606.70 370.00,624.50 375.30,633.30 384.00,654.30 394.50,677.00 405.00,701.60 412.00,710.40 420.80,715.60 430.40,724.40 437.40,728.80 447.10,731.40 455.80,734.90 473.40,737.50" fill="none" stroke="#a5121d" stroke-width="2.3" stroke-linejoin="round" stroke-linecap="butt" stroke-dasharray="5.4,3.4" />
<line x1="299.30" y1="567.50" x2="299.30" y2="738.00" stroke="#111" stroke-width="1.3" />
<line x1="298.70" y1="737.40" x2="484.90" y2="737.40" stroke="#111" stroke-width="1.3" />
<line x1="296.20" y1="568.50" x2="299.30" y2="568.50" stroke="#111" stroke-width="1.1" />
<text x="294.30" y="574.50" font-size="11.2" text-anchor="end" >100</text>
<line x1="296.20" y1="610.90" x2="299.30" y2="610.90" stroke="#111" stroke-width="1.1" />
<text x="294.30" y="616.60" font-size="11.2" text-anchor="end" >75</text>
<line x1="296.20" y1="652.90" x2="299.30" y2="652.90" stroke="#111" stroke-width="1.1" />
<text x="294.30" y="657.80" font-size="11.2" text-anchor="end" >50</text>
<line x1="296.20" y1="694.90" x2="299.30" y2="694.90" stroke="#111" stroke-width="1.1" />
<text x="294.30" y="699.60" font-size="11.2" text-anchor="end" >25</text>
<line x1="299.30" y1="737.40" x2="299.30" y2="740.80" stroke="#111" stroke-width="1.1" />
<line x1="337.80" y1="737.40" x2="337.80" y2="740.80" stroke="#111" stroke-width="1.1" />
<line x1="376.10" y1="737.40" x2="376.10" y2="740.80" stroke="#111" stroke-width="1.1" />
<line x1="414.60" y1="737.40" x2="414.60" y2="740.80" stroke="#111" stroke-width="1.1" />
<line x1="452.90" y1="737.40" x2="452.90" y2="740.80" stroke="#111" stroke-width="1.1" />
<line x1="484.70" y1="737.40" x2="484.70" y2="740.80" stroke="#111" stroke-width="1.1" />
<text x="300.00" y="752.10" font-size="11.2" text-anchor="middle" >0</text>
<text x="340.00" y="752.10" font-size="11.2" text-anchor="middle" >10</text>
<text x="376.60" y="752.10" font-size="11.2" text-anchor="middle" >20</text>
<text x="413.40" y="752.10" font-size="11.2" text-anchor="middle" >30</text>
<text x="453.30" y="752.10" font-size="11.2" text-anchor="middle" >40</text>
<text x="486.80" y="752.10" font-size="11.2" text-anchor="middle" >50</text>
<text x="395.00" y="765.70" font-size="11.6" text-anchor="middle" >Age (days)</text>
<text x="276.5" y="682.6" font-size="11.6" font-weight="bold" fill="#111" transform="rotate(-90 276.5 682.6)">%<tspan dx="9.2">Survival</tspan></text>
<text x="322.80" y="659.40" font-size="11.6" fill="#444" >RNAi:</text>
<line x1="305.80" y1="671.40" x2="317.50" y2="671.40" stroke="#666666" stroke-width="2.2" />
<text x="323.40" y="674.70" font-size="11.7" >ctrl</text>
<line x1="305.80" y1="686.70" x2="317.50" y2="686.70" stroke="#cf6e0a" stroke-width="2.2" />
<text x="323.40" y="689.60" font-size="11.7" font-style="italic" >mrps-5</text>
<line x1="305.80" y1="701.30" x2="317.50" y2="701.30" stroke="#1c8ba0" stroke-width="2.2" />
<text x="323.40" y="704.20" font-size="11.7" font-style="italic" >C32E8.9</text>
<line x1="305.80" y1="715.90" x2="317.50" y2="715.90" stroke="#a5121d" stroke-width="2.1" stroke-dasharray="4.6,3.2"/>
<text x="323.40" y="718.80" font-size="11.7" font-style="italic" >mrps-5 +</text>
<text x="323.40" y="732.70" font-size="11.7" font-style="italic" >C32E8.9</text>
<path d="M377.1,685.7 L379.6,685.7 L379.6,719.5 L377.1,719.5" stroke="#222" stroke-width="1.1" fill="none"/>
<text x="390.30" y="710.00" font-size="13" text-anchor="middle" >***</text>
<text x="454.30" y="550.60" font-size="16" font-weight="bold" fill="#111" >f</text>
<polyline points="507.00,570.30 545.50,572.00 551.70,576.60 561.90,580.20 569.20,587.50 578.00,603.60 588.20,621.10 595.50,635.70 601.50,659.00 608.20,680.00 616.70,698.00 624.00,711.10 631.30,719.90 643.00,724.20 649.60,728.60 653.90,736.20" fill="none" stroke="#666666" stroke-width="2.4" stroke-linejoin="round" stroke-linecap="butt" stroke-dasharray="5.6,3.0" />
<polyline points="507.00,570.30 530.00,574.50 545.80,576.80 553.10,587.50 560.40,596.30 569.20,608.00 576.50,621.10 580.90,635.70 583.80,654.70 589.60,670.70 594.80,686.30 603.60,700.90 612.30,716.90 619.60,727.20 632.80,736.60" fill="none" stroke="#1c8ba0" stroke-width="2.4" stroke-linejoin="round" stroke-linecap="butt" stroke-dasharray="5.6,3.0" />
<polyline points="507.00,570.30 520.00,573.00 530.00,574.50 540.00,575.80 545.80,576.60 551.70,586.10 559.00,599.20 566.30,613.80 575.00,637.20 582.30,656.10 589.60,675.10 593.00,685.00 599.20,702.30 605.00,718.40 612.30,731.50 618.90,736.60" fill="none" stroke="#1c8ba0" stroke-width="2.2" stroke-linejoin="round" stroke-linecap="butt" />
<polyline points="507.00,570.30 545.10,571.80 555.30,584.60 559.00,599.20 561.90,615.30 564.10,621.10 573.60,647.40 578.00,660.00 584.40,678.50 593.40,695.00 602.10,711.10 612.30,728.60 625.50,736.60" fill="none" stroke="#666666" stroke-width="2.3" stroke-linejoin="round" stroke-linecap="butt" />
<line x1="506.90" y1="569.30" x2="506.90" y2="737.60" stroke="#555" stroke-width="1.4" />
<line x1="506.20" y1="737.00" x2="682.30" y2="737.00" stroke="#555" stroke-width="1.4" />
<line x1="503.60" y1="570.30" x2="506.90" y2="570.30" stroke="#555" stroke-width="1.2" />
<text x="502.70" y="574.60" font-size="11.2" text-anchor="end" >100</text>
<line x1="503.60" y1="611.40" x2="506.90" y2="611.40" stroke="#555" stroke-width="1.2" />
<text x="502.70" y="616.80" font-size="11.2" text-anchor="end" >75</text>
<line x1="503.60" y1="653.20" x2="506.90" y2="653.20" stroke="#555" stroke-width="1.2" />
<text x="502.70" y="658.30" font-size="11.2" text-anchor="end" >50</text>
<line x1="503.60" y1="695.20" x2="506.90" y2="695.20" stroke="#555" stroke-width="1.2" />
<text x="502.70" y="699.20" font-size="11.2" text-anchor="end" >25</text>
<line x1="506.70" y1="737.00" x2="506.70" y2="740.50" stroke="#555" stroke-width="1.2" />
<line x1="541.90" y1="737.00" x2="541.90" y2="740.50" stroke="#555" stroke-width="1.2" />
<line x1="577.00" y1="737.00" x2="577.00" y2="740.50" stroke="#555" stroke-width="1.2" />
<line x1="612.50" y1="737.00" x2="612.50" y2="740.50" stroke="#555" stroke-width="1.2" />
<line x1="647.10" y1="737.00" x2="647.10" y2="740.50" stroke="#555" stroke-width="1.2" />
<line x1="682.20" y1="737.00" x2="682.20" y2="740.50" stroke="#555" stroke-width="1.2" />
<text x="507.00" y="751.60" font-size="11.2" text-anchor="middle" >0</text>
<text x="541.50" y="751.60" font-size="11.2" text-anchor="middle" >10</text>
<text x="575.90" y="751.60" font-size="11.2" text-anchor="middle" >20</text>
<text x="609.80" y="751.60" font-size="11.2" text-anchor="middle" >30</text>
<text x="644.50" y="751.60" font-size="11.2" text-anchor="middle" >40</text>
<text x="679.20" y="751.60" font-size="11.2" text-anchor="middle" >50</text>
<text x="600.20" y="765.60" font-size="11.6" text-anchor="middle" >Age (days)</text>
<text x="484.1" y="682.6" font-size="11.6" font-weight="bold" fill="#111" transform="rotate(-90 484.1 682.6)">%<tspan dx="9.2">Survival</tspan></text>
<text x="605.30" y="573.90" font-size="11.6" >Strain:</text>
<line x1="594.20" y1="585.70" x2="606.00" y2="585.70" stroke="#666666" stroke-width="2.2" />
<text x="610.00" y="589.10" font-size="11.6" >ctrl</text>
<line x1="594.20" y1="600.20" x2="606.00" y2="600.20" stroke="#1c8ba0" stroke-width="2.2" />
<text x="610.9" y="602.3" font-size="11.6" fill="#222"><tspan font-style="italic">C32E8.9</tspan> KO</text>
<text x="529.80" y="663.40" font-size="11.6" fill="#333" >RNAi:</text>
<line x1="513.90" y1="676.30" x2="525.70" y2="676.30" stroke="#666666" stroke-width="2.2" />
<text x="529.60" y="679.20" font-size="11.6" >ctrl</text>
<line x1="513.90" y1="691.40" x2="525.70" y2="691.40" stroke="#666666" stroke-width="2.2" stroke-dasharray="4.4,2.8"/>
<text x="530.10" y="694.00" font-size="11.6" font-style="italic" >mrps-5</text>
<line x1="513.90" y1="705.80" x2="525.70" y2="705.80" stroke="#1c8ba0" stroke-width="2.2" />
<text x="531.10" y="709.80" font-size="11.6" >ctrl</text>
<line x1="513.90" y1="721.00" x2="525.70" y2="721.00" stroke="#1c8ba0" stroke-width="2.2" stroke-dasharray="4.4,2.8"/>
<text x="532.10" y="724.90" font-size="11.6" font-style="italic" >mrps-5</text>
<path d="M571.6,690.7 L573.0,690.7 L573.0,724.2 L571.6,724.2" stroke="#222" stroke-width="1.1" fill="none"/>
<text x="583.90" y="714.60" font-size="13" text-anchor="middle" >***</text>
<text x="7.50" y="807.80" font-size="16" font-weight="bold" fill="#111" >g</text>
<defs><filter id="blr" x="-10%" y="-10%" width="120%" height="120%"><feGaussianBlur stdDeviation="0.45"/></filter><filter id="blr2" x="-50%" y="-50%" width="200%" height="200%"><feGaussianBlur stdDeviation="2.2"/></filter></defs>
<rect x="25.90" y="827.30" width="83.10" height="115.60" fill="#bfbfbf" stroke="none" stroke-width="0" rx="0" />
<rect x="118.20" y="827.30" width="81.80" height="115.60" fill="#bfbfbf" stroke="none" stroke-width="0" rx="0" />
<rect x="210.20" y="827.30" width="81.80" height="115.60" fill="#bfbfbf" stroke="none" stroke-width="0" rx="0" />
<rect x="301.20" y="827.30" width="82.60" height="115.60" fill="#bfbfbf" stroke="none" stroke-width="0" rx="0" />
<g filter="url(#blr2)" opacity="0.55"><circle cx="184.5" cy="920" r="5.5" fill="#a5a5a5"/><circle cx="167.5" cy="833.5" r="3.2" fill="#b0b0b0"/><circle cx="261" cy="835" r="4" fill="#b5b5b5"/><circle cx="221" cy="913" r="3.5" fill="#b8b8b8"/><circle cx="308" cy="833" r="3" fill="#b5b5b5"/><circle cx="363" cy="832" r="3" fill="#b5b5b5"/></g>
<g filter="url(#blr)">
<defs><linearGradient id="wg1" gradientUnits="userSpaceOnUse" x1="0" y1="838.5" x2="0" y2="853.5"><stop offset="0" stop-color="#b9b9b9"/><stop offset="0.6" stop-color="#aaaaaa"/><stop offset="0.82" stop-color="#4a4a4a"/><stop offset="1" stop-color="#656565"/></linearGradient></defs>
<path d="M62.00,839.52 L61.53,840.27 L61.06,841.23 L60.59,842.34 L60.12,843.58 L59.66,844.91 L59.19,846.31 L58.71,847.73 L58.23,849.15 L57.75,850.51 L57.25,851.80 L57.05,853.08 L56.85,854.36 L56.64,855.64 L56.43,856.93 L56.21,858.24 L55.98,859.57 L55.75,860.93 L55.52,862.34 L55.27,863.80 L55.02,865.28 L54.78,866.81 L54.52,868.41 L54.25,870.10 L53.96,871.87 L53.67,873.71 L53.38,875.59 L53.09,877.52 L52.81,879.47 L52.55,881.45 L52.31,883.41 L52.29,885.33 L52.28,887.23 L52.29,889.14 L52.30,891.05 L52.32,892.96 L52.35,894.86 L52.40,896.75 L52.45,898.62 L52.52,900.47 L52.60,902.29 L52.95,904.10 L53.31,905.90 L53.68,907.67 L54.07,909.41 L54.47,911.11 L54.87,912.78 L55.28,914.40 L55.70,915.97 L56.12,917.48 L56.54,918.96 L57.13,920.42 L57.73,921.85 L58.34,923.22 L58.95,924.53 L59.57,925.78 L60.19,926.96 L60.80,928.07 L61.40,929.10 L61.99,930.04 L62.56,930.91 L63.14,931.75 L63.71,932.54 L64.29,933.26 L64.85,933.91 L65.41,934.49 L65.96,935.00 L66.49,935.43 L67.02,935.80 L67.53,936.10 L68.03,936.34 L71.97,935.66 L72.35,935.24 L72.72,934.76 L73.08,934.23 L73.44,933.64 L73.78,933.01 L74.12,932.33 L74.45,931.60 L74.78,930.82 L75.11,929.99 L75.44,929.09 L75.75,928.08 L76.05,927.00 L76.34,925.87 L76.63,924.69 L76.92,923.47 L77.21,922.22 L77.50,920.95 L77.81,919.66 L78.13,918.36 L78.46,917.04 L78.64,915.66 L78.83,914.21 L79.02,912.72 L79.22,911.19 L79.42,909.64 L79.63,908.06 L79.86,906.48 L80.09,904.89 L80.34,903.30 L80.60,901.71 L80.62,900.09 L80.65,898.44 L80.70,896.74 L80.75,895.03 L80.82,893.29 L80.89,891.54 L80.98,889.79 L81.07,888.04 L81.18,886.29 L81.29,884.59 L81.21,882.91 L81.16,881.20 L81.13,879.43 L81.10,877.62 L81.09,875.79 L81.08,873.95 L81.07,872.11 L81.06,870.28 L81.03,868.47 L80.98,866.72 L80.89,865.07 L80.79,863.50 L80.68,861.99 L80.57,860.51 L80.44,859.08 L80.31,857.67 L80.18,856.29 L80.04,854.92 L79.90,853.57 L79.75,852.20 L79.29,850.76 L78.83,849.26 L78.36,847.76 L77.89,846.27 L77.41,844.84 L76.92,843.48 L76.44,842.23 L75.96,841.13 L75.48,840.20 L75.00,839.48 L74.78,838.45 L74.12,837.48 L73.09,836.66 L71.74,836.03 L70.17,835.63 L68.49,835.50 L66.81,835.64 L65.24,836.05 L63.90,836.69 L62.86,837.52 L62.22,838.48Z" fill="url(#wg1)"/>
<path d="M73.91,850.69 L74.12,852.10 L74.18,853.44 L74.24,854.78 L74.29,856.13 L74.34,857.49 L74.38,858.87 L74.42,860.28 L74.45,861.72 L74.47,863.21 L74.49,864.75 L74.49,866.36 L74.47,868.05 L74.42,869.81 L74.37,871.61 L74.30,873.43 L74.24,875.27 L74.17,877.12 L74.12,878.95 L74.07,880.77 L74.05,882.55 L74.04,884.30 L73.96,886.05 L73.88,887.83 L73.81,889.63 L73.74,891.42 L73.69,893.21 L73.65,894.99 L73.62,896.75 L73.60,898.48 L73.60,900.19 L73.60,901.85 L73.49,903.50 L73.40,905.14 L73.31,906.78 L73.24,908.40 L73.18,910.01 L73.13,911.59 L73.09,913.14 L73.05,914.65 L73.01,916.11 L72.98,917.52 L72.88,918.87 L72.79,920.20 L72.71,921.51 L72.64,922.80 L72.58,924.05 L72.52,925.26 L72.45,926.42 L72.39,927.52 L72.31,928.57 L72.22,929.54 L72.12,930.43 L72.01,931.25 L71.91,932.01 L71.80,932.72" stroke="#a0a0a0" stroke-width="0.9" fill="none" opacity="0.8"/>
<path d="M68.52,850.63 L68.50,852.00 L68.47,853.32 L68.44,854.64 L68.41,855.96 L68.37,857.30 L68.33,858.66 L68.27,860.04 L68.22,861.46 L68.15,862.92 L68.08,864.43 L68.00,866.00 L67.90,867.64 L67.79,869.34 L67.66,871.11 L67.52,872.91 L67.38,874.75 L67.24,876.61 L67.11,878.47 L66.99,880.34 L66.88,882.18 L66.80,884.00 L66.73,885.81 L66.68,887.63 L66.63,889.46 L66.60,891.30 L66.57,893.12 L66.55,894.94 L66.55,896.75 L66.55,898.53 L66.57,900.28 L66.60,902.00 L66.64,903.70 L66.70,905.39 L66.77,907.07 L66.85,908.74 L66.94,910.38 L67.04,911.98 L67.15,913.56 L67.26,915.09 L67.38,916.57 L67.50,918.00 L67.63,919.39 L67.77,920.75 L67.92,922.08 L68.08,923.38 L68.24,924.62 L68.41,925.82 L68.57,926.97 L68.72,928.05 L68.87,929.06 L69.00,930.00 L69.12,930.87 L69.25,931.68 L69.37,932.43 L69.48,933.12" stroke="#a0a0a0" stroke-width="0.9" fill="none" opacity="0.8"/>
<path d="M63.13,850.57 L62.88,851.90 L62.76,853.20 L62.64,854.50 L62.52,855.80 L62.40,857.11 L62.27,858.45 L62.13,859.80 L61.99,861.20 L61.83,862.63 L61.68,864.11 L61.51,865.64 L61.34,867.22 L61.16,868.88 L60.95,870.61 L60.74,872.39 L60.53,874.23 L60.31,876.10 L60.10,878.00 L59.90,879.90 L59.72,881.82 L59.56,883.70 L59.51,885.57 L59.48,887.43 L59.46,889.30 L59.45,891.17 L59.44,893.04 L59.45,894.90 L59.47,896.75 L59.50,898.57 L59.55,900.37 L59.60,902.15 L59.80,903.90 L60.00,905.65 L60.23,907.37 L60.46,909.07 L60.70,910.74 L60.96,912.38 L61.22,913.98 L61.48,915.53 L61.75,917.03 L62.02,918.48 L62.38,919.90 L62.75,921.30 L63.13,922.65 L63.52,923.95 L63.91,925.20 L64.30,926.39 L64.68,927.52 L65.06,928.57 L65.43,929.55 L65.78,930.46 L66.13,931.31 L66.48,932.11 L66.83,932.85 L67.17,933.52" stroke="#a0a0a0" stroke-width="0.9" fill="none" opacity="0.8"/>
<path d="M78.11,850.74 L78.51,852.17 L78.64,853.54 L78.76,854.89 L78.88,856.25 L79.00,857.63 L79.11,859.03 L79.21,860.46 L79.31,861.93 L79.40,863.44 L79.48,865.00 L79.55,866.64 L79.58,868.38 L79.60,870.17 L79.60,872.00 L79.59,873.84 L79.58,875.68 L79.58,877.51 L79.58,879.33 L79.60,881.10 L79.64,882.83 L79.69,884.53 L79.59,886.24 L79.49,887.99 L79.40,889.75 L79.32,891.52 L79.25,893.27 L79.19,895.02 L79.14,896.74 L79.10,898.45 L79.07,900.11 L79.06,901.74 L78.83,903.34 L78.62,904.94 L78.42,906.54 L78.23,908.14 L78.05,909.72 L77.88,911.28 L77.72,912.81 L77.56,914.30 L77.40,915.76 L77.25,917.14 L76.97,918.47 L76.71,919.78 L76.45,921.07 L76.20,922.35 L75.96,923.60 L75.72,924.81 L75.49,925.99 L75.24,927.11 L74.99,928.19 L74.73,929.19 L74.45,930.08 L74.17,930.91 L73.89,931.69 L73.61,932.42 L73.32,933.09 L73.02,933.72" stroke="#3c3c3c" stroke-width="1.2" fill="none" opacity="0.75"/>
<path d="M75.09,850.71 L75.36,852.12 L75.44,853.47 L75.52,854.81 L75.59,856.16 L75.66,857.53 L75.72,858.91 L75.77,860.33 L75.82,861.78 L75.86,863.27 L75.89,864.82 L75.92,866.44 L75.91,868.14 L75.88,869.91 L75.84,871.72 L75.79,873.54 L75.74,875.39 L75.70,877.23 L75.66,879.06 L75.63,880.86 L75.62,882.63 L75.64,884.36 L75.54,886.10 L75.46,887.88 L75.38,889.66 L75.32,891.45 L75.26,893.23 L75.21,894.99 L75.18,896.75 L75.15,898.47 L75.14,900.17 L75.14,901.82 L75.00,903.45 L74.87,905.08 L74.75,906.71 L74.65,908.33 L74.56,909.93 L74.47,911.50 L74.39,913.04 L74.32,914.55 L74.25,916.01 L74.18,917.41 L74.03,918.76 L73.89,920.08 L73.77,921.39 L73.65,922.67 L73.53,923.92 L73.42,925.13 L73.31,926.30 L73.19,927.41 L73.06,928.46 L72.93,929.44 L72.78,930.33 L72.62,931.15 L72.47,931.92 L72.31,932.64 L72.15,933.30 L71.98,933.91" stroke="#3c3c3c" stroke-width="1.0" fill="none" opacity="0.75"/>
<path d="M72.72,850.68 L72.89,852.08 L72.93,853.42 L72.97,854.75 L73.00,856.09 L73.03,857.44 L73.05,858.82 L73.07,860.22 L73.08,861.66 L73.08,863.15 L73.08,864.68 L73.06,866.28 L73.02,867.96 L72.96,869.71 L72.89,871.50 L72.81,873.32 L72.73,875.16 L72.65,877.00 L72.58,878.85 L72.51,880.67 L72.47,882.47 L72.45,884.23 L72.37,886.00 L72.29,887.79 L72.23,889.59 L72.17,891.39 L72.13,893.19 L72.09,894.98 L72.07,896.75 L72.05,898.49 L72.05,900.21 L72.06,901.89 L71.98,903.54 L71.92,905.19 L71.87,906.84 L71.84,908.47 L71.81,910.09 L71.79,911.67 L71.78,913.23 L71.77,914.74 L71.77,916.22 L71.77,917.63 L71.72,918.99 L71.69,920.33 L71.66,921.64 L71.64,922.92 L71.63,924.17 L71.61,925.38 L71.60,926.54 L71.58,927.64 L71.55,928.68 L71.51,929.64 L71.46,930.53 L71.41,931.34 L71.35,932.11 L71.29,932.81 L71.23,933.46 L71.15,934.06" stroke="#3c3c3c" stroke-width="1.2" fill="none" opacity="0.75"/>
<path d="M69.71,850.65 L69.74,852.02 L69.73,853.35 L69.72,854.67 L69.70,856.00 L69.68,857.34 L69.66,858.70 L69.63,860.09 L69.59,861.52 L69.54,862.98 L69.49,864.50 L69.43,866.08 L69.35,867.73 L69.25,869.45 L69.14,871.22 L69.01,873.03 L68.89,874.86 L68.77,876.72 L68.65,878.58 L68.55,880.43 L68.46,882.26 L68.39,884.07 L68.32,885.86 L68.26,887.68 L68.21,889.50 L68.17,891.32 L68.14,893.14 L68.11,894.95 L68.10,896.75 L68.10,898.52 L68.12,900.26 L68.14,901.97 L68.15,903.65 L68.17,905.34 L68.21,907.01 L68.26,908.66 L68.32,910.29 L68.38,911.90 L68.46,913.46 L68.54,914.99 L68.62,916.47 L68.71,917.89 L68.78,919.28 L68.87,920.63 L68.98,921.96 L69.08,923.25 L69.20,924.50 L69.31,925.70 L69.42,926.85 L69.53,927.93 L69.62,928.95 L69.71,929.90 L69.78,930.77 L69.86,931.58 L69.93,932.34 L69.99,933.03 L70.05,933.67 L70.11,934.25" stroke="#3c3c3c" stroke-width="1.0" fill="none" opacity="0.75"/>
<path d="M67.34,850.62 L67.26,851.98 L67.22,853.29 L67.17,854.61 L67.11,855.93 L67.06,857.26 L66.99,858.61 L66.92,859.99 L66.85,861.40 L66.76,862.86 L66.67,864.36 L66.57,865.92 L66.46,867.55 L66.33,869.24 L66.18,871.00 L66.03,872.80 L65.87,874.64 L65.72,876.50 L65.57,878.37 L65.43,880.24 L65.31,882.10 L65.21,883.93 L65.15,885.76 L65.10,887.59 L65.05,889.43 L65.02,891.27 L65.00,893.11 L64.99,894.93 L64.99,896.75 L65.00,898.54 L65.03,900.30 L65.06,902.03 L65.14,903.74 L65.23,905.45 L65.33,907.14 L65.45,908.81 L65.57,910.46 L65.70,912.07 L65.85,913.65 L65.99,915.18 L66.14,916.67 L66.29,918.11 L66.47,919.50 L66.67,920.87 L66.87,922.21 L67.08,923.50 L67.29,924.75 L67.50,925.95 L67.71,927.09 L67.92,928.16 L68.11,929.17 L68.29,930.10 L68.47,930.97 L68.64,931.78 L68.81,932.52 L68.97,933.21 L69.13,933.83 L69.28,934.39" stroke="#3c3c3c" stroke-width="1.2" fill="none" opacity="0.75"/>
<path d="M64.32,850.58 L64.11,851.92 L64.02,853.23 L63.92,854.53 L63.82,855.84 L63.71,857.16 L63.60,858.49 L63.48,859.86 L63.36,861.25 L63.22,862.69 L63.08,864.18 L62.94,865.72 L62.79,867.31 L62.61,868.98 L62.43,870.72 L62.23,872.51 L62.03,874.34 L61.84,876.21 L61.64,878.10 L61.46,880.00 L61.29,881.90 L61.15,883.77 L61.10,885.62 L61.06,887.47 L61.04,889.34 L61.02,891.20 L61.01,893.06 L61.01,894.91 L61.03,896.75 L61.05,898.56 L61.09,900.35 L61.14,902.11 L61.30,903.86 L61.48,905.59 L61.67,907.30 L61.87,909.00 L62.08,910.66 L62.30,912.29 L62.52,913.89 L62.75,915.43 L62.99,916.93 L63.23,918.37 L63.53,919.79 L63.85,921.18 L64.18,922.53 L64.52,923.83 L64.86,925.08 L65.20,926.27 L65.54,927.40 L65.87,928.46 L66.18,929.44 L66.49,930.36 L66.79,931.21 L67.09,932.02 L67.39,932.75 L67.68,933.43 L67.96,934.04 L68.24,934.58" stroke="#3c3c3c" stroke-width="1.0" fill="none" opacity="0.75"/>
<path d="M61.95,850.56 L61.64,851.88 L61.51,853.17 L61.37,854.47 L61.23,855.77 L61.08,857.07 L60.93,858.40 L60.78,859.75 L60.61,861.14 L60.44,862.57 L60.27,864.04 L60.08,865.56 L59.90,867.13 L59.70,868.77 L59.48,870.50 L59.25,872.28 L59.02,874.11 L58.79,875.99 L58.56,877.89 L58.34,879.81 L58.14,881.74 L57.96,883.64 L57.92,885.51 L57.90,887.39 L57.88,889.26 L57.87,891.15 L57.88,893.02 L57.89,894.89 L57.92,896.75 L57.95,898.58 L58.00,900.40 L58.06,902.18 L58.29,903.95 L58.53,905.70 L58.79,907.44 L59.05,909.15 L59.33,910.82 L59.62,912.47 L59.91,914.07 L60.21,915.63 L60.51,917.13 L60.82,918.59 L61.22,920.02 L61.64,921.42 L62.08,922.78 L62.51,924.08 L62.95,925.33 L63.39,926.52 L63.83,927.64 L64.25,928.69 L64.67,929.66 L65.07,930.56 L65.47,931.41 L65.87,932.21 L66.27,932.94 L66.66,933.60 L67.04,934.20 L67.42,934.73" stroke="#3c3c3c" stroke-width="1.2" fill="none" opacity="0.75"/>
<path d="M58.93,850.52 L58.49,851.83 L58.31,853.10 L58.12,854.39 L57.93,855.67 L57.74,856.97 L57.54,858.28 L57.34,859.62 L57.12,860.99 L56.91,862.40 L56.68,863.87 L56.45,865.36 L56.22,866.90 L55.98,868.51 L55.72,870.21 L55.45,871.99 L55.18,873.82 L54.90,875.70 L54.63,877.62 L54.37,879.57 L54.13,881.53 L53.91,883.47 L53.88,885.38 L53.87,887.27 L53.86,889.17 L53.87,891.08 L53.89,892.98 L53.92,894.87 L53.95,896.75 L54.00,898.61 L54.07,900.45 L54.14,902.26 L54.46,904.06 L54.78,905.84 L55.12,907.60 L55.48,909.33 L55.84,911.03 L56.21,912.69 L56.59,914.31 L56.97,915.87 L57.36,917.38 L57.75,918.86 L58.28,920.30 L58.83,921.73 L59.39,923.09 L59.96,924.41 L60.52,925.65 L61.09,926.84 L61.65,927.95 L62.20,928.98 L62.74,929.93 L63.27,930.81 L63.80,931.66 L64.32,932.45 L64.85,933.17 L65.36,933.82 L65.87,934.41 L66.37,934.92" stroke="#3c3c3c" stroke-width="1.0" fill="none" opacity="0.75"/>
<circle cx="63.72" cy="851.45" r="0.67" fill="#9a9a9a" opacity="0.6"/><circle cx="70.82" cy="850.73" r="0.46" fill="#9a9a9a" opacity="0.6"/><circle cx="64.11" cy="850.98" r="1.05" fill="#9a9a9a" opacity="0.6"/><circle cx="69.28" cy="852.82" r="0.69" fill="#3a3a3a" opacity="0.6"/><circle cx="63.37" cy="852.23" r="1.01" fill="#9a9a9a" opacity="0.6"/><circle cx="73.11" cy="853.01" r="0.49" fill="#2a2a2a" opacity="0.6"/><circle cx="64.61" cy="853.37" r="0.97" fill="#9a9a9a" opacity="0.6"/><circle cx="70.31" cy="854.70" r="0.68" fill="#9a9a9a" opacity="0.6"/><circle cx="66.43" cy="854.52" r="0.72" fill="#3a3a3a" opacity="0.6"/><circle cx="75.91" cy="854.79" r="0.53" fill="#3a3a3a" opacity="0.6"/><circle cx="63.67" cy="855.65" r="0.92" fill="#333" opacity="0.6"/><circle cx="66.89" cy="855.89" r="0.79" fill="#9a9a9a" opacity="0.6"/><circle cx="70.10" cy="857.32" r="0.86" fill="#2a2a2a" opacity="0.6"/><circle cx="75.54" cy="857.45" r="0.85" fill="#3a3a3a" opacity="0.6"/><circle cx="72.38" cy="856.45" r="0.78" fill="#2a2a2a" opacity="0.6"/><circle cx="72.71" cy="857.62" r="0.95" fill="#333" opacity="0.6"/><circle cx="64.00" cy="857.40" r="0.96" fill="#9a9a9a" opacity="0.6"/><circle cx="60.01" cy="858.50" r="0.70" fill="#3a3a3a" opacity="0.6"/><circle cx="58.43" cy="859.30" r="0.70" fill="#2a2a2a" opacity="0.6"/><circle cx="58.93" cy="859.58" r="0.48" fill="#333" opacity="0.6"/><circle cx="69.37" cy="860.04" r="0.62" fill="#3a3a3a" opacity="0.6"/><circle cx="78.70" cy="860.50" r="0.50" fill="#2a2a2a" opacity="0.6"/><circle cx="77.66" cy="861.50" r="0.62" fill="#333" opacity="0.6"/><circle cx="61.09" cy="860.10" r="0.97" fill="#333" opacity="0.6"/><circle cx="65.25" cy="861.67" r="0.97" fill="#9a9a9a" opacity="0.6"/><circle cx="67.38" cy="862.24" r="0.84" fill="#2a2a2a" opacity="0.6"/><circle cx="70.76" cy="862.87" r="0.75" fill="#9a9a9a" opacity="0.6"/><circle cx="71.04" cy="863.99" r="1.01" fill="#9a9a9a" opacity="0.6"/><circle cx="78.43" cy="863.70" r="0.78" fill="#2a2a2a" opacity="0.6"/><circle cx="74.35" cy="864.40" r="0.64" fill="#9a9a9a" opacity="0.6"/><circle cx="70.61" cy="865.38" r="0.49" fill="#333" opacity="0.6"/><circle cx="67.34" cy="865.45" r="0.66" fill="#333" opacity="0.6"/><circle cx="73.27" cy="864.46" r="0.49" fill="#2a2a2a" opacity="0.6"/><circle cx="78.24" cy="866.38" r="0.72" fill="#333" opacity="0.6"/><circle cx="60.87" cy="866.28" r="0.90" fill="#333" opacity="0.6"/><circle cx="63.59" cy="866.57" r="0.91" fill="#2a2a2a" opacity="0.6"/><circle cx="78.44" cy="868.66" r="0.53" fill="#3a3a3a" opacity="0.6"/><circle cx="71.34" cy="868.04" r="0.65" fill="#9a9a9a" opacity="0.6"/><circle cx="71.25" cy="867.78" r="0.81" fill="#333" opacity="0.6"/><circle cx="71.74" cy="869.68" r="0.94" fill="#3a3a3a" opacity="0.6"/><circle cx="58.29" cy="870.46" r="0.58" fill="#9a9a9a" opacity="0.6"/><circle cx="62.60" cy="870.52" r="0.47" fill="#3a3a3a" opacity="0.6"/><circle cx="63.43" cy="872.36" r="0.79" fill="#333" opacity="0.6"/><circle cx="64.00" cy="872.35" r="0.50" fill="#333" opacity="0.6"/><circle cx="69.71" cy="871.74" r="0.76" fill="#333" opacity="0.6"/><circle cx="66.71" cy="873.86" r="0.62" fill="#9a9a9a" opacity="0.6"/><circle cx="56.78" cy="873.53" r="0.57" fill="#9a9a9a" opacity="0.6"/><circle cx="77.77" cy="874.23" r="1.04" fill="#9a9a9a" opacity="0.6"/><circle cx="68.76" cy="876.23" r="0.88" fill="#2a2a2a" opacity="0.6"/><circle cx="73.12" cy="876.01" r="0.85" fill="#333" opacity="0.6"/><circle cx="68.41" cy="876.08" r="0.97" fill="#333" opacity="0.6"/><circle cx="58.26" cy="876.97" r="0.47" fill="#3a3a3a" opacity="0.6"/><circle cx="76.61" cy="877.96" r="0.80" fill="#2a2a2a" opacity="0.6"/><circle cx="66.79" cy="876.79" r="0.75" fill="#3a3a3a" opacity="0.6"/><circle cx="71.00" cy="879.26" r="0.70" fill="#2a2a2a" opacity="0.6"/><circle cx="63.32" cy="878.85" r="0.97" fill="#9a9a9a" opacity="0.6"/><circle cx="74.55" cy="878.57" r="0.58" fill="#2a2a2a" opacity="0.6"/><circle cx="67.82" cy="881.56" r="0.55" fill="#333" opacity="0.6"/><circle cx="77.17" cy="881.55" r="0.94" fill="#2a2a2a" opacity="0.6"/><circle cx="66.69" cy="881.19" r="0.69" fill="#333" opacity="0.6"/><circle cx="60.74" cy="883.11" r="0.76" fill="#2a2a2a" opacity="0.6"/><circle cx="66.22" cy="883.35" r="0.45" fill="#2a2a2a" opacity="0.6"/><circle cx="73.60" cy="882.25" r="0.48" fill="#9a9a9a" opacity="0.6"/><circle cx="78.50" cy="885.28" r="0.50" fill="#9a9a9a" opacity="0.6"/><circle cx="62.26" cy="884.47" r="0.66" fill="#9a9a9a" opacity="0.6"/><circle cx="68.94" cy="884.54" r="0.56" fill="#333" opacity="0.6"/><circle cx="64.98" cy="886.00" r="0.45" fill="#9a9a9a" opacity="0.6"/><circle cx="73.99" cy="886.66" r="0.48" fill="#9a9a9a" opacity="0.6"/><circle cx="69.30" cy="886.98" r="0.68" fill="#2a2a2a" opacity="0.6"/><circle cx="69.69" cy="888.28" r="0.67" fill="#9a9a9a" opacity="0.6"/><circle cx="73.04" cy="888.10" r="1.02" fill="#9a9a9a" opacity="0.6"/><circle cx="65.72" cy="888.00" r="0.77" fill="#2a2a2a" opacity="0.6"/><circle cx="74.03" cy="889.80" r="0.53" fill="#2a2a2a" opacity="0.6"/><circle cx="77.28" cy="890.02" r="0.99" fill="#333" opacity="0.6"/><circle cx="57.40" cy="890.50" r="1.01" fill="#9a9a9a" opacity="0.6"/><circle cx="70.67" cy="892.40" r="0.79" fill="#2a2a2a" opacity="0.6"/><circle cx="74.17" cy="892.37" r="0.73" fill="#3a3a3a" opacity="0.6"/><circle cx="73.26" cy="891.36" r="0.51" fill="#2a2a2a" opacity="0.6"/><circle cx="70.43" cy="893.69" r="0.94" fill="#333" opacity="0.6"/><circle cx="74.84" cy="893.31" r="0.96" fill="#9a9a9a" opacity="0.6"/><circle cx="74.71" cy="894.55" r="0.80" fill="#2a2a2a" opacity="0.6"/><circle cx="55.36" cy="896.10" r="0.76" fill="#3a3a3a" opacity="0.6"/><circle cx="57.06" cy="896.07" r="1.01" fill="#2a2a2a" opacity="0.6"/><circle cx="67.76" cy="896.25" r="0.56" fill="#2a2a2a" opacity="0.6"/><circle cx="60.34" cy="897.02" r="0.60" fill="#9a9a9a" opacity="0.6"/><circle cx="60.60" cy="897.65" r="1.01" fill="#9a9a9a" opacity="0.6"/><circle cx="77.76" cy="897.31" r="0.59" fill="#9a9a9a" opacity="0.6"/><circle cx="74.79" cy="899.98" r="0.70" fill="#9a9a9a" opacity="0.6"/><circle cx="58.31" cy="899.13" r="0.98" fill="#3a3a3a" opacity="0.6"/><circle cx="56.87" cy="899.65" r="1.00" fill="#9a9a9a" opacity="0.6"/><circle cx="68.64" cy="901.57" r="0.53" fill="#3a3a3a" opacity="0.6"/><circle cx="58.13" cy="901.05" r="1.01" fill="#333" opacity="0.6"/><circle cx="70.66" cy="901.56" r="0.81" fill="#333" opacity="0.6"/><circle cx="75.87" cy="902.46" r="0.61" fill="#9a9a9a" opacity="0.6"/><circle cx="59.47" cy="902.85" r="0.59" fill="#9a9a9a" opacity="0.6"/><circle cx="73.13" cy="902.22" r="1.04" fill="#9a9a9a" opacity="0.6"/><circle cx="71.34" cy="904.01" r="0.80" fill="#2a2a2a" opacity="0.6"/><circle cx="66.21" cy="904.78" r="0.96" fill="#9a9a9a" opacity="0.6"/><circle cx="73.24" cy="905.02" r="0.48" fill="#3a3a3a" opacity="0.6"/><circle cx="75.61" cy="906.36" r="0.92" fill="#2a2a2a" opacity="0.6"/><circle cx="77.15" cy="906.67" r="0.60" fill="#3a3a3a" opacity="0.6"/><circle cx="72.98" cy="905.60" r="0.82" fill="#2a2a2a" opacity="0.6"/><circle cx="75.67" cy="907.46" r="0.97" fill="#333" opacity="0.6"/><circle cx="59.72" cy="907.21" r="0.93" fill="#2a2a2a" opacity="0.6"/><circle cx="57.70" cy="908.32" r="0.63" fill="#333" opacity="0.6"/><circle cx="65.82" cy="909.84" r="0.65" fill="#2a2a2a" opacity="0.6"/><circle cx="63.26" cy="909.39" r="0.74" fill="#3a3a3a" opacity="0.6"/><circle cx="69.99" cy="909.85" r="0.74" fill="#3a3a3a" opacity="0.6"/><circle cx="67.89" cy="910.55" r="0.61" fill="#9a9a9a" opacity="0.6"/><circle cx="58.71" cy="911.71" r="1.00" fill="#2a2a2a" opacity="0.6"/><circle cx="67.53" cy="911.43" r="0.86" fill="#333" opacity="0.6"/><circle cx="72.38" cy="912.43" r="0.86" fill="#333" opacity="0.6"/><circle cx="58.90" cy="913.40" r="0.65" fill="#2a2a2a" opacity="0.6"/><circle cx="70.51" cy="912.75" r="0.49" fill="#333" opacity="0.6"/><circle cx="70.76" cy="914.41" r="0.56" fill="#3a3a3a" opacity="0.6"/><circle cx="60.66" cy="914.89" r="0.84" fill="#2a2a2a" opacity="0.6"/><circle cx="59.23" cy="914.40" r="1.00" fill="#9a9a9a" opacity="0.6"/><circle cx="68.35" cy="916.06" r="0.72" fill="#333" opacity="0.6"/><circle cx="72.83" cy="916.15" r="0.51" fill="#3a3a3a" opacity="0.6"/><circle cx="72.28" cy="915.90" r="0.89" fill="#333" opacity="0.6"/><circle cx="59.69" cy="916.98" r="0.48" fill="#3a3a3a" opacity="0.6"/><circle cx="58.58" cy="917.33" r="0.60" fill="#333" opacity="0.6"/><circle cx="74.59" cy="917.99" r="0.72" fill="#2a2a2a" opacity="0.6"/><circle cx="64.75" cy="919.27" r="0.52" fill="#333" opacity="0.6"/><circle cx="69.19" cy="919.02" r="0.79" fill="#2a2a2a" opacity="0.6"/><circle cx="61.61" cy="918.28" r="0.70" fill="#9a9a9a" opacity="0.6"/><circle cx="73.29" cy="920.51" r="0.81" fill="#3a3a3a" opacity="0.6"/><circle cx="74.08" cy="920.59" r="0.78" fill="#3a3a3a" opacity="0.6"/><circle cx="68.85" cy="919.69" r="0.60" fill="#333" opacity="0.6"/><circle cx="59.70" cy="921.96" r="0.98" fill="#9a9a9a" opacity="0.6"/><circle cx="64.61" cy="922.11" r="0.64" fill="#9a9a9a" opacity="0.6"/><circle cx="75.96" cy="921.78" r="0.63" fill="#9a9a9a" opacity="0.6"/><circle cx="60.21" cy="922.37" r="0.83" fill="#2a2a2a" opacity="0.6"/><circle cx="72.36" cy="923.08" r="0.75" fill="#9a9a9a" opacity="0.6"/><circle cx="62.98" cy="923.26" r="0.58" fill="#9a9a9a" opacity="0.6"/><circle cx="62.01" cy="923.80" r="0.84" fill="#3a3a3a" opacity="0.6"/><circle cx="62.38" cy="924.56" r="0.82" fill="#2a2a2a" opacity="0.6"/><circle cx="60.66" cy="924.30" r="0.75" fill="#9a9a9a" opacity="0.6"/><circle cx="68.82" cy="926.02" r="0.64" fill="#333" opacity="0.6"/><circle cx="71.14" cy="924.83" r="0.96" fill="#2a2a2a" opacity="0.6"/><circle cx="71.46" cy="925.73" r="0.66" fill="#3a3a3a" opacity="0.6"/><circle cx="74.50" cy="927.12" r="0.71" fill="#3a3a3a" opacity="0.6"/><circle cx="68.20" cy="925.99" r="0.48" fill="#2a2a2a" opacity="0.6"/><circle cx="73.28" cy="926.88" r="0.68" fill="#9a9a9a" opacity="0.6"/><circle cx="71.23" cy="927.77" r="0.70" fill="#9a9a9a" opacity="0.6"/><circle cx="65.96" cy="927.66" r="0.90" fill="#9a9a9a" opacity="0.6"/><circle cx="67.75" cy="927.65" r="0.47" fill="#333" opacity="0.6"/><circle cx="67.05" cy="928.60" r="0.77" fill="#9a9a9a" opacity="0.6"/><circle cx="65.25" cy="928.05" r="0.58" fill="#333" opacity="0.6"/><circle cx="64.24" cy="928.74" r="0.57" fill="#3a3a3a" opacity="0.6"/><circle cx="63.22" cy="929.94" r="0.75" fill="#2a2a2a" opacity="0.6"/><circle cx="64.61" cy="929.97" r="0.72" fill="#3a3a3a" opacity="0.6"/><circle cx="63.67" cy="929.09" r="0.72" fill="#9a9a9a" opacity="0.6"/><circle cx="63.84" cy="931.07" r="0.59" fill="#2a2a2a" opacity="0.6"/><circle cx="67.86" cy="930.04" r="1.03" fill="#3a3a3a" opacity="0.6"/><circle cx="66.14" cy="930.58" r="0.56" fill="#333" opacity="0.6"/><circle cx="70.38" cy="931.39" r="0.52" fill="#2a2a2a" opacity="0.6"/><circle cx="72.29" cy="931.31" r="1.04" fill="#9a9a9a" opacity="0.6"/><circle cx="72.10" cy="932.31" r="0.74" fill="#333" opacity="0.6"/><circle cx="64.77" cy="932.19" r="1.05" fill="#333" opacity="0.6"/><circle cx="65.38" cy="932.70" r="1.03" fill="#2a2a2a" opacity="0.6"/><circle cx="65.49" cy="932.70" r="0.46" fill="#2a2a2a" opacity="0.6"/><circle cx="69.21" cy="932.71" r="0.76" fill="#333" opacity="0.6"/><circle cx="66.75" cy="933.89" r="0.74" fill="#9a9a9a" opacity="0.6"/><circle cx="73.02" cy="933.84" r="0.47" fill="#333" opacity="0.6"/><circle cx="71.49" cy="934.07" r="0.69" fill="#333" opacity="0.6"/><circle cx="66.96" cy="933.74" r="0.75" fill="#333" opacity="0.6"/><circle cx="69.78" cy="934.29" r="0.69" fill="#9a9a9a" opacity="0.6"/><circle cx="72.02" cy="934.58" r="1.00" fill="#333" opacity="0.6"/><circle cx="71.77" cy="934.41" r="0.72" fill="#9a9a9a" opacity="0.6"/><circle cx="68.48" cy="934.98" r="0.75" fill="#9a9a9a" opacity="0.6"/><circle cx="72.60" cy="934.38" r="0.55" fill="#2a2a2a" opacity="0.6"/><circle cx="71.78" cy="934.46" r="0.87" fill="#2a2a2a" opacity="0.6"/><circle cx="68.53" cy="935.22" r="0.93" fill="#2a2a2a" opacity="0.6"/><circle cx="71.94" cy="936.14" r="0.72" fill="#333" opacity="0.6"/><circle cx="72.62" cy="934.83" r="0.57" fill="#2a2a2a" opacity="0.6"/><circle cx="68.87" cy="935.30" r="0.72" fill="#3a3a3a" opacity="0.6"/>
<path d="M57.00,854.00 L57.00,850.20 A3.00,5.70 0 0 1 63.00,850.20 L63.00,854.00" fill="#b4b4b4" stroke="#7e7e7e" stroke-width="0.7"/>
<path d="M62.80,853.50 L62.80,849.10 A3.00,6.60 0 0 1 68.80,849.10 L68.80,853.50" fill="#b4b4b4" stroke="#7e7e7e" stroke-width="0.7"/>
<path d="M68.40,853.00 L68.40,848.00 A3.00,7.50 0 0 1 74.40,848.00 L74.40,853.00" fill="#b4b4b4" stroke="#7e7e7e" stroke-width="0.7"/>
<path d="M74.00,852.50 L74.00,847.10 A2.80,8.10 0 0 1 79.60,847.10 L79.60,852.50" fill="#b4b4b4" stroke="#7e7e7e" stroke-width="0.7"/>
<defs><linearGradient id="wg2" gradientUnits="userSpaceOnUse" x1="0" y1="838.5" x2="0" y2="854.5"><stop offset="0" stop-color="#b9b9b9"/><stop offset="0.6" stop-color="#aaaaaa"/><stop offset="0.82" stop-color="#4a4a4a"/><stop offset="1" stop-color="#636363"/></linearGradient></defs>
<path d="M151.01,839.62 L150.46,840.45 L149.90,841.53 L149.33,842.77 L148.76,844.15 L148.17,845.62 L147.58,847.13 L146.97,848.65 L146.35,850.11 L145.72,851.46 L145.09,852.60 L144.69,853.61 L144.26,854.64 L143.78,855.75 L143.26,856.96 L142.72,858.28 L142.15,859.73 L141.58,861.30 L141.03,863.02 L140.51,864.88 L140.05,866.80 L139.77,868.63 L139.52,870.41 L139.29,872.22 L139.10,874.04 L138.94,875.88 L138.80,877.72 L138.69,879.58 L138.62,881.44 L138.57,883.31 L138.55,885.17 L138.71,887.03 L138.90,888.90 L139.13,890.75 L139.38,892.59 L139.65,894.42 L139.96,896.23 L140.28,898.03 L140.62,899.81 L140.99,901.57 L141.38,903.35 L141.97,905.16 L142.60,906.97 L143.24,908.72 L143.90,910.41 L144.56,912.03 L145.22,913.59 L145.86,915.08 L146.48,916.49 L147.07,917.81 L147.64,919.10 L148.46,920.36 L149.29,921.64 L150.13,922.88 L150.95,924.09 L151.76,925.25 L152.56,926.35 L153.33,927.38 L154.08,928.34 L154.80,929.22 L155.49,930.01 L156.39,930.67 L157.28,931.27 L158.15,931.82 L158.99,932.30 L159.82,932.73 L160.63,933.09 L161.41,933.40 L162.18,933.64 L162.93,933.82 L163.65,933.95 L169.35,932.05 L169.85,931.52 L170.34,930.92 L170.81,930.26 L171.25,929.55 L171.68,928.77 L172.09,927.94 L172.47,927.04 L172.84,926.09 L173.19,925.07 L173.51,923.99 L173.56,922.89 L173.59,921.72 L173.59,920.49 L173.58,919.20 L173.55,917.88 L173.51,916.52 L173.47,915.14 L173.43,913.74 L173.40,912.34 L173.36,910.90 L173.05,909.44 L172.72,907.93 L172.39,906.43 L172.06,904.94 L171.75,903.47 L171.46,902.03 L171.19,900.62 L170.96,899.25 L170.78,897.94 L170.62,896.65 L170.33,895.32 L170.04,893.92 L169.77,892.52 L169.52,891.11 L169.28,889.71 L169.07,888.31 L168.88,886.92 L168.71,885.54 L168.57,884.17 L168.45,882.83 L168.21,881.47 L167.98,880.09 L167.78,878.69 L167.60,877.28 L167.44,875.88 L167.30,874.47 L167.18,873.09 L167.08,871.73 L167.01,870.41 L166.95,869.20 L166.80,868.15 L166.70,867.12 L166.65,866.00 L166.63,864.79 L166.66,863.47 L166.72,862.05 L166.79,860.53 L166.86,858.90 L166.91,857.17 L166.91,855.40 L166.61,853.61 L166.27,851.84 L165.92,850.07 L165.54,848.32 L165.14,846.63 L164.73,845.04 L164.31,843.57 L163.88,842.28 L163.44,841.21 L162.99,840.38 L162.85,839.33 L162.31,838.33 L161.41,837.45 L160.21,836.73 L158.79,836.24 L157.25,836.01 L155.69,836.05 L154.22,836.35 L152.94,836.91 L151.94,837.68 L151.28,838.60Z" fill="url(#wg2)"/>
<path d="M161.29,851.41 L161.39,853.08 L161.46,854.70 L161.35,856.28 L161.21,857.83 L161.03,859.33 L160.85,860.78 L160.67,862.17 L160.51,863.52 L160.38,864.83 L160.28,866.10 L160.23,867.34 L160.22,868.60 L160.20,869.96 L160.19,871.40 L160.21,872.87 L160.25,874.37 L160.31,875.88 L160.40,877.39 L160.51,878.91 L160.64,880.43 L160.80,881.93 L160.98,883.41 L161.11,884.89 L161.26,886.38 L161.44,887.87 L161.65,889.38 L161.88,890.89 L162.13,892.39 L162.40,893.90 L162.69,895.39 L162.99,896.88 L163.31,898.32 L163.57,899.75 L163.87,901.18 L164.21,902.64 L164.57,904.12 L164.95,905.61 L165.35,907.10 L165.76,908.59 L166.16,910.07 L166.56,911.53 L166.93,912.95 L167.17,914.34 L167.40,915.71 L167.64,917.07 L167.87,918.41 L168.10,919.72 L168.32,920.99 L168.53,922.21 L168.71,923.38 L168.87,924.47 L169.00,925.49 L168.99,926.47 L168.95,927.38 L168.89,928.24 L168.81,929.03" stroke="#a0a0a0" stroke-width="0.9" fill="none" opacity="0.8"/>
<path d="M156.17,852.54 L156.00,854.00 L155.80,855.39 L155.56,856.77 L155.28,858.14 L154.99,859.50 L154.69,860.88 L154.39,862.26 L154.11,863.65 L153.86,865.07 L153.66,866.52 L153.50,868.00 L153.39,869.52 L153.30,871.07 L153.24,872.65 L153.20,874.26 L153.19,875.88 L153.20,877.50 L153.24,879.14 L153.30,880.77 L153.39,882.39 L153.50,884.00 L153.64,885.60 L153.81,887.22 L154.00,888.83 L154.22,890.45 L154.47,892.06 L154.74,893.67 L155.02,895.27 L155.33,896.86 L155.66,898.44 L156.00,900.00 L156.37,901.55 L156.78,903.11 L157.22,904.67 L157.68,906.22 L158.16,907.75 L158.64,909.26 L159.12,910.75 L159.60,912.21 L160.06,913.63 L160.50,915.00 L160.93,916.35 L161.36,917.69 L161.80,919.01 L162.23,920.30 L162.66,921.56 L163.07,922.78 L163.46,923.94 L163.84,925.03 L164.18,926.06 L164.50,927.00 L164.79,927.87 L165.06,928.68 L165.31,929.43 L165.54,930.12" stroke="#a0a0a0" stroke-width="0.9" fill="none" opacity="0.8"/>
<path d="M150.94,852.00 L150.54,853.30 L150.25,854.50 L149.91,855.70 L149.53,856.94 L149.12,858.23 L148.70,859.58 L148.27,860.99 L147.85,862.48 L147.45,864.05 L147.08,865.70 L146.78,867.40 L146.58,869.08 L146.41,870.74 L146.27,872.43 L146.15,874.15 L146.06,875.88 L146.00,877.61 L145.97,879.36 L145.96,881.11 L145.98,882.85 L146.02,884.59 L146.17,886.32 L146.36,888.06 L146.56,889.79 L146.80,891.52 L147.06,893.24 L147.35,894.95 L147.65,896.65 L147.98,898.34 L148.32,900.00 L148.69,901.68 L149.17,903.36 L149.69,905.04 L150.23,906.69 L150.79,908.31 L151.36,909.89 L151.93,911.43 L152.49,912.91 L153.04,914.35 L153.57,915.72 L154.07,917.05 L154.69,918.35 L155.33,919.66 L155.96,920.95 L156.59,922.20 L157.21,923.40 L157.81,924.56 L158.40,925.66 L158.96,926.69 L159.49,927.64 L160.00,928.51 L160.59,929.27 L161.17,929.98 L161.73,930.62 L162.27,931.21" stroke="#a0a0a0" stroke-width="0.9" fill="none" opacity="0.8"/>
<path d="M165.18,851.75 L165.46,853.50 L165.71,855.24 L165.69,856.98 L165.61,858.67 L165.52,860.26 L165.43,861.77 L165.34,863.18 L165.29,864.51 L165.27,865.74 L165.29,866.90 L165.36,867.97 L165.47,869.07 L165.51,870.31 L165.57,871.66 L165.65,873.04 L165.75,874.45 L165.87,875.88 L166.01,877.31 L166.18,878.74 L166.37,880.17 L166.58,881.57 L166.81,882.96 L166.93,884.33 L167.07,885.72 L167.24,887.13 L167.44,888.54 L167.65,889.97 L167.89,891.40 L168.15,892.82 L168.42,894.25 L168.71,895.66 L169.01,897.02 L169.19,898.34 L169.40,899.68 L169.66,901.06 L169.94,902.49 L170.25,903.94 L170.58,905.41 L170.93,906.90 L171.28,908.40 L171.62,909.90 L171.95,911.35 L172.03,912.78 L172.11,914.17 L172.19,915.56 L172.27,916.94 L172.35,918.28 L172.42,919.60 L172.48,920.87 L172.52,922.08 L172.53,923.24 L172.52,924.32 L172.26,925.38 L171.98,926.37 L171.68,927.31 L171.37,928.18 L171.03,928.99 L170.67,929.74" stroke="#3c3c3c" stroke-width="1.2" fill="none" opacity="0.75"/>
<path d="M162.39,851.50 L162.54,853.19 L162.66,854.85 L162.58,856.48 L162.45,858.07 L162.30,859.59 L162.14,861.06 L161.99,862.46 L161.86,863.80 L161.76,865.09 L161.69,866.32 L161.68,867.52 L161.70,868.73 L161.70,870.06 L161.71,871.47 L161.74,872.92 L161.80,874.39 L161.88,875.88 L161.98,877.37 L162.11,878.87 L162.26,880.36 L162.43,881.83 L162.62,883.28 L162.75,884.73 L162.90,886.19 L163.08,887.66 L163.28,889.14 L163.51,890.63 L163.75,892.11 L164.02,893.59 L164.30,895.07 L164.61,896.53 L164.92,897.96 L165.16,899.35 L165.43,900.76 L165.74,902.20 L166.08,903.66 L166.45,905.14 L166.83,906.63 L167.21,908.11 L167.60,909.60 L167.99,911.07 L168.35,912.50 L168.54,913.90 L168.73,915.28 L168.92,916.65 L169.11,918.00 L169.30,919.32 L169.48,920.60 L169.64,921.83 L169.79,923.01 L169.91,924.13 L170.00,925.16 L169.91,926.16 L169.81,927.10 L169.68,927.97 L169.53,928.79 L169.37,929.54 L169.18,930.24" stroke="#3c3c3c" stroke-width="1.0" fill="none" opacity="0.75"/>
<path d="M160.20,851.31 L160.24,852.96 L160.26,854.55 L160.13,856.09 L159.96,857.60 L159.77,859.07 L159.56,860.50 L159.36,861.89 L159.17,863.24 L159.00,864.57 L158.87,865.87 L158.78,867.16 L158.74,868.47 L158.70,869.86 L158.68,871.33 L158.68,872.82 L158.70,874.34 L158.75,875.88 L158.82,877.42 L158.91,878.96 L159.03,880.50 L159.17,882.03 L159.33,883.54 L159.46,885.05 L159.62,886.56 L159.81,888.08 L160.01,889.61 L160.25,891.14 L160.50,892.67 L160.77,894.20 L161.07,895.72 L161.38,897.22 L161.70,898.69 L161.99,900.15 L162.31,901.61 L162.67,903.09 L163.05,904.58 L163.46,906.08 L163.87,907.58 L164.30,909.07 L164.72,910.54 L165.13,911.99 L165.52,913.40 L165.79,914.79 L166.07,916.15 L166.35,917.50 L166.63,918.83 L166.90,920.13 L167.17,921.38 L167.41,922.59 L167.64,923.74 L167.84,924.82 L168.01,925.82 L168.06,926.78 L168.09,927.67 L168.10,928.50 L168.09,929.27 L168.06,929.98 L168.01,930.63" stroke="#3c3c3c" stroke-width="1.2" fill="none" opacity="0.75"/>
<path d="M157.41,851.07 L157.31,852.66 L157.20,854.15 L157.02,855.59 L156.80,857.00 L156.55,858.40 L156.28,859.78 L156.00,861.16 L155.74,862.53 L155.49,863.91 L155.28,865.30 L155.10,866.70 L154.98,868.13 L154.89,869.62 L154.82,871.14 L154.77,872.70 L154.75,874.28 L154.75,875.88 L154.78,877.48 L154.84,879.09 L154.92,880.69 L155.02,882.29 L155.14,883.87 L155.28,885.45 L155.45,887.03 L155.64,888.62 L155.86,890.21 L156.10,891.80 L156.36,893.39 L156.65,894.97 L156.95,896.54 L157.27,898.10 L157.61,899.63 L157.96,901.16 L158.34,902.69 L158.76,904.22 L159.20,905.76 L159.65,907.28 L160.12,908.79 L160.58,910.28 L161.04,911.74 L161.49,913.17 L161.91,914.55 L162.30,915.91 L162.69,917.25 L163.08,918.58 L163.47,919.89 L163.85,921.16 L164.22,922.38 L164.58,923.56 L164.91,924.67 L165.22,925.71 L165.49,926.67 L165.71,927.56 L165.92,928.39 L166.10,929.17 L166.26,929.88 L166.40,930.53 L166.52,931.13" stroke="#3c3c3c" stroke-width="1.0" fill="none" opacity="0.75"/>
<path d="M155.22,850.88 L155.02,852.42 L154.80,853.85 L154.58,855.20 L154.31,856.53 L154.02,857.87 L153.70,859.22 L153.37,860.59 L153.05,861.98 L152.74,863.39 L152.45,864.85 L152.21,866.34 L152.02,867.87 L151.89,869.42 L151.78,871.00 L151.70,872.60 L151.65,874.23 L151.62,875.88 L151.62,877.53 L151.64,879.19 L151.68,880.84 L151.76,882.49 L151.86,884.13 L152.00,885.76 L152.17,887.40 L152.37,889.04 L152.59,890.68 L152.84,892.32 L153.11,893.95 L153.40,895.58 L153.71,897.19 L154.04,898.78 L154.39,900.37 L154.79,901.95 L155.22,903.54 L155.68,905.11 L156.16,906.68 L156.66,908.22 L157.16,909.74 L157.66,911.23 L158.16,912.68 L158.63,914.09 L159.09,915.45 L159.56,916.79 L160.04,918.12 L160.52,919.44 L160.99,920.72 L161.46,921.97 L161.91,923.17 L162.35,924.31 L162.76,925.40 L163.15,926.40 L163.51,927.33 L163.87,928.18 L164.20,928.97 L164.52,929.69 L164.82,930.36 L165.10,930.97 L165.36,931.51" stroke="#3c3c3c" stroke-width="1.2" fill="none" opacity="0.75"/>
<path d="M152.43,850.64 L152.09,852.12 L151.74,853.45 L151.47,854.70 L151.15,855.94 L150.79,857.21 L150.41,858.51 L150.02,859.86 L149.62,861.27 L149.23,862.74 L148.86,864.27 L148.53,865.88 L148.26,867.53 L148.08,869.17 L147.92,870.81 L147.80,872.48 L147.70,874.17 L147.63,875.88 L147.58,877.59 L147.57,879.31 L147.57,881.03 L147.61,882.75 L147.67,884.46 L147.82,886.16 L147.99,887.87 L148.20,889.58 L148.43,891.28 L148.69,892.98 L148.97,894.67 L149.27,896.35 L149.60,898.01 L149.94,899.66 L150.30,901.31 L150.75,902.96 L151.25,904.62 L151.77,906.25 L152.31,907.85 L152.86,909.42 L153.41,910.95 L153.95,912.44 L154.48,913.88 L154.99,915.26 L155.48,916.60 L156.07,917.91 L156.66,919.23 L157.25,920.52 L157.83,921.78 L158.41,923.00 L158.97,924.17 L159.51,925.28 L160.03,926.32 L160.52,927.29 L160.99,928.18 L161.52,928.96 L162.03,929.69 L162.52,930.36 L162.99,930.97 L163.44,931.52 L163.87,932.01" stroke="#3c3c3c" stroke-width="1.0" fill="none" opacity="0.75"/>
<path d="M150.23,850.45 L149.79,851.88 L149.34,853.15 L149.02,854.30 L148.66,855.47 L148.26,856.68 L147.83,857.95 L147.38,859.29 L146.92,860.71 L146.47,862.22 L146.03,863.82 L145.63,865.52 L145.30,867.27 L145.08,868.98 L144.89,870.67 L144.73,872.39 L144.60,874.12 L144.50,875.88 L144.42,877.64 L144.37,879.41 L144.34,881.18 L144.35,882.95 L144.38,884.72 L144.53,886.48 L144.72,888.24 L144.93,890.00 L145.17,891.75 L145.43,893.50 L145.72,895.23 L146.03,896.95 L146.36,898.66 L146.71,900.35 L147.08,902.04 L147.58,903.76 L148.13,905.47 L148.69,907.14 L149.28,908.77 L149.87,910.36 L150.45,911.90 L151.03,913.39 L151.60,914.82 L152.14,916.18 L152.65,917.50 L153.32,918.79 L154.00,920.10 L154.68,921.37 L155.35,922.61 L156.01,923.81 L156.66,924.95 L157.28,926.04 L157.89,927.05 L158.46,927.99 L159.00,928.84 L159.67,929.58 L160.31,930.26 L160.94,930.89 L161.55,931.45 L162.13,931.96 L162.70,932.40" stroke="#3c3c3c" stroke-width="1.2" fill="none" opacity="0.75"/>
<path d="M146.87,851.58 L146.29,852.76 L145.91,853.81 L145.50,854.87 L145.04,856.01 L144.55,857.24 L144.03,858.57 L143.50,860.00 L142.96,861.56 L142.44,863.25 L141.95,865.06 L141.53,866.93 L141.26,868.73 L141.03,870.48 L140.83,872.26 L140.65,874.06 L140.50,875.88 L140.39,877.70 L140.29,879.53 L140.23,881.37 L140.20,883.21 L140.19,885.04 L140.35,886.88 L140.54,888.71 L140.76,890.54 L141.01,892.35 L141.28,894.16 L141.58,895.95 L141.90,897.72 L142.24,899.48 L142.60,901.22 L142.99,902.98 L143.55,904.77 L144.16,906.55 L144.78,908.27 L145.42,909.95 L146.06,911.56 L146.70,913.11 L147.32,914.60 L147.92,916.02 L148.50,917.35 L149.05,918.65 L149.83,919.92 L150.62,921.20 L151.41,922.46 L152.19,923.67 L152.96,924.84 L153.71,925.95 L154.45,927.00 L155.16,927.98 L155.83,928.87 L156.48,929.68 L157.32,930.36 L158.14,930.99 L158.94,931.55 L159.71,932.06 L160.47,932.51 L161.21,932.90" stroke="#3c3c3c" stroke-width="1.0" fill="none" opacity="0.75"/>
<circle cx="158.36" cy="853.65" r="0.93" fill="#2a2a2a" opacity="0.6"/><circle cx="162.24" cy="853.70" r="0.60" fill="#2a2a2a" opacity="0.6"/><circle cx="163.32" cy="852.71" r="0.73" fill="#3a3a3a" opacity="0.6"/><circle cx="153.77" cy="854.15" r="0.60" fill="#3a3a3a" opacity="0.6"/><circle cx="154.28" cy="854.27" r="0.97" fill="#9a9a9a" opacity="0.6"/><circle cx="149.63" cy="855.20" r="0.53" fill="#9a9a9a" opacity="0.6"/><circle cx="148.66" cy="855.39" r="0.97" fill="#3a3a3a" opacity="0.6"/><circle cx="161.03" cy="856.83" r="0.55" fill="#3a3a3a" opacity="0.6"/><circle cx="151.77" cy="856.83" r="0.77" fill="#3a3a3a" opacity="0.6"/><circle cx="149.33" cy="858.22" r="0.57" fill="#9a9a9a" opacity="0.6"/><circle cx="151.62" cy="857.31" r="0.55" fill="#3a3a3a" opacity="0.6"/><circle cx="150.94" cy="857.27" r="0.94" fill="#2a2a2a" opacity="0.6"/><circle cx="157.20" cy="859.20" r="0.49" fill="#333" opacity="0.6"/><circle cx="161.64" cy="858.86" r="0.64" fill="#9a9a9a" opacity="0.6"/><circle cx="154.73" cy="858.40" r="0.60" fill="#2a2a2a" opacity="0.6"/><circle cx="164.15" cy="860.04" r="0.69" fill="#9a9a9a" opacity="0.6"/><circle cx="152.26" cy="860.37" r="0.46" fill="#2a2a2a" opacity="0.6"/><circle cx="159.23" cy="860.44" r="1.02" fill="#2a2a2a" opacity="0.6"/><circle cx="160.01" cy="862.27" r="1.02" fill="#333" opacity="0.6"/><circle cx="154.95" cy="862.21" r="0.60" fill="#9a9a9a" opacity="0.6"/><circle cx="146.53" cy="862.00" r="0.93" fill="#333" opacity="0.6"/><circle cx="144.55" cy="863.67" r="0.50" fill="#333" opacity="0.6"/><circle cx="154.67" cy="862.80" r="0.54" fill="#333" opacity="0.6"/><circle cx="163.41" cy="863.07" r="0.64" fill="#333" opacity="0.6"/><circle cx="149.91" cy="864.85" r="0.83" fill="#333" opacity="0.6"/><circle cx="164.88" cy="863.90" r="0.48" fill="#9a9a9a" opacity="0.6"/><circle cx="143.97" cy="864.76" r="0.66" fill="#333" opacity="0.6"/><circle cx="152.88" cy="865.70" r="0.48" fill="#2a2a2a" opacity="0.6"/><circle cx="160.53" cy="865.57" r="0.57" fill="#3a3a3a" opacity="0.6"/><circle cx="156.75" cy="866.25" r="0.51" fill="#9a9a9a" opacity="0.6"/><circle cx="150.79" cy="866.61" r="0.70" fill="#3a3a3a" opacity="0.6"/><circle cx="152.60" cy="868.02" r="0.96" fill="#9a9a9a" opacity="0.6"/><circle cx="164.02" cy="867.55" r="0.64" fill="#333" opacity="0.6"/><circle cx="148.70" cy="868.61" r="0.54" fill="#9a9a9a" opacity="0.6"/><circle cx="160.89" cy="868.80" r="0.56" fill="#9a9a9a" opacity="0.6"/><circle cx="161.94" cy="868.27" r="0.75" fill="#333" opacity="0.6"/><circle cx="143.25" cy="870.71" r="0.66" fill="#2a2a2a" opacity="0.6"/><circle cx="159.41" cy="870.06" r="0.87" fill="#333" opacity="0.6"/><circle cx="161.17" cy="869.92" r="1.04" fill="#333" opacity="0.6"/><circle cx="164.02" cy="871.58" r="0.56" fill="#2a2a2a" opacity="0.6"/><circle cx="152.70" cy="872.23" r="0.65" fill="#333" opacity="0.6"/><circle cx="152.43" cy="872.30" r="0.84" fill="#333" opacity="0.6"/><circle cx="149.63" cy="873.62" r="0.89" fill="#9a9a9a" opacity="0.6"/><circle cx="149.68" cy="873.92" r="0.97" fill="#9a9a9a" opacity="0.6"/><circle cx="164.53" cy="874.09" r="0.76" fill="#3a3a3a" opacity="0.6"/><circle cx="145.98" cy="874.80" r="0.96" fill="#333" opacity="0.6"/><circle cx="157.79" cy="875.34" r="0.89" fill="#3a3a3a" opacity="0.6"/><circle cx="156.00" cy="875.66" r="0.76" fill="#9a9a9a" opacity="0.6"/><circle cx="148.41" cy="876.70" r="0.97" fill="#333" opacity="0.6"/><circle cx="158.53" cy="875.92" r="0.55" fill="#9a9a9a" opacity="0.6"/><circle cx="156.19" cy="876.15" r="0.91" fill="#3a3a3a" opacity="0.6"/><circle cx="156.40" cy="877.57" r="0.73" fill="#3a3a3a" opacity="0.6"/><circle cx="145.02" cy="878.84" r="0.52" fill="#3a3a3a" opacity="0.6"/><circle cx="152.78" cy="878.33" r="0.70" fill="#333" opacity="0.6"/><circle cx="150.28" cy="880.05" r="0.80" fill="#3a3a3a" opacity="0.6"/><circle cx="158.63" cy="879.70" r="0.66" fill="#333" opacity="0.6"/><circle cx="162.04" cy="880.44" r="0.86" fill="#333" opacity="0.6"/><circle cx="164.90" cy="881.59" r="0.63" fill="#333" opacity="0.6"/><circle cx="154.43" cy="881.28" r="0.80" fill="#333" opacity="0.6"/><circle cx="161.26" cy="881.40" r="0.94" fill="#333" opacity="0.6"/><circle cx="152.57" cy="882.63" r="0.68" fill="#9a9a9a" opacity="0.6"/><circle cx="164.93" cy="883.84" r="0.82" fill="#333" opacity="0.6"/><circle cx="161.50" cy="883.38" r="0.68" fill="#333" opacity="0.6"/><circle cx="155.18" cy="884.92" r="0.53" fill="#9a9a9a" opacity="0.6"/><circle cx="151.69" cy="885.47" r="0.75" fill="#9a9a9a" opacity="0.6"/><circle cx="165.55" cy="884.57" r="1.03" fill="#3a3a3a" opacity="0.6"/><circle cx="156.08" cy="885.99" r="1.04" fill="#9a9a9a" opacity="0.6"/><circle cx="147.29" cy="885.63" r="1.02" fill="#333" opacity="0.6"/><circle cx="153.43" cy="886.03" r="0.74" fill="#2a2a2a" opacity="0.6"/><circle cx="157.89" cy="888.66" r="0.60" fill="#2a2a2a" opacity="0.6"/><circle cx="160.99" cy="888.46" r="0.46" fill="#333" opacity="0.6"/><circle cx="147.27" cy="887.93" r="0.47" fill="#9a9a9a" opacity="0.6"/><circle cx="148.08" cy="889.06" r="1.04" fill="#333" opacity="0.6"/><circle cx="153.81" cy="890.32" r="0.76" fill="#2a2a2a" opacity="0.6"/><circle cx="141.67" cy="889.02" r="0.62" fill="#333" opacity="0.6"/><circle cx="157.12" cy="891.54" r="0.47" fill="#333" opacity="0.6"/><circle cx="150.68" cy="891.57" r="0.80" fill="#2a2a2a" opacity="0.6"/><circle cx="141.55" cy="891.28" r="0.86" fill="#2a2a2a" opacity="0.6"/><circle cx="164.36" cy="892.88" r="0.46" fill="#9a9a9a" opacity="0.6"/><circle cx="156.89" cy="893.10" r="1.02" fill="#9a9a9a" opacity="0.6"/><circle cx="163.62" cy="893.32" r="0.74" fill="#3a3a3a" opacity="0.6"/><circle cx="164.91" cy="894.37" r="0.90" fill="#333" opacity="0.6"/><circle cx="163.31" cy="894.71" r="0.71" fill="#333" opacity="0.6"/><circle cx="158.52" cy="894.38" r="0.64" fill="#3a3a3a" opacity="0.6"/><circle cx="154.47" cy="896.10" r="0.75" fill="#333" opacity="0.6"/><circle cx="155.99" cy="895.91" r="0.77" fill="#2a2a2a" opacity="0.6"/><circle cx="144.02" cy="895.62" r="0.94" fill="#2a2a2a" opacity="0.6"/><circle cx="159.50" cy="896.90" r="0.88" fill="#2a2a2a" opacity="0.6"/><circle cx="168.04" cy="897.92" r="0.48" fill="#2a2a2a" opacity="0.6"/><circle cx="148.17" cy="897.83" r="1.02" fill="#3a3a3a" opacity="0.6"/><circle cx="168.26" cy="899.50" r="0.71" fill="#3a3a3a" opacity="0.6"/><circle cx="158.48" cy="899.06" r="0.55" fill="#3a3a3a" opacity="0.6"/><circle cx="144.02" cy="898.60" r="0.68" fill="#2a2a2a" opacity="0.6"/><circle cx="150.39" cy="900.86" r="0.52" fill="#9a9a9a" opacity="0.6"/><circle cx="165.65" cy="900.20" r="0.71" fill="#333" opacity="0.6"/><circle cx="160.73" cy="900.73" r="0.66" fill="#333" opacity="0.6"/><circle cx="166.84" cy="901.76" r="0.63" fill="#333" opacity="0.6"/><circle cx="166.73" cy="902.39" r="0.82" fill="#333" opacity="0.6"/><circle cx="145.34" cy="901.91" r="0.95" fill="#333" opacity="0.6"/><circle cx="157.20" cy="903.31" r="0.59" fill="#333" opacity="0.6"/><circle cx="155.61" cy="903.70" r="0.53" fill="#2a2a2a" opacity="0.6"/><circle cx="160.65" cy="903.24" r="0.85" fill="#2a2a2a" opacity="0.6"/><circle cx="166.21" cy="905.43" r="0.72" fill="#9a9a9a" opacity="0.6"/><circle cx="166.54" cy="905.39" r="0.64" fill="#2a2a2a" opacity="0.6"/><circle cx="158.26" cy="905.24" r="0.96" fill="#9a9a9a" opacity="0.6"/><circle cx="162.11" cy="906.55" r="0.52" fill="#9a9a9a" opacity="0.6"/><circle cx="165.53" cy="906.43" r="0.82" fill="#333" opacity="0.6"/><circle cx="165.90" cy="906.65" r="1.01" fill="#333" opacity="0.6"/><circle cx="165.33" cy="908.32" r="0.88" fill="#333" opacity="0.6"/><circle cx="161.74" cy="908.96" r="0.71" fill="#333" opacity="0.6"/><circle cx="158.58" cy="908.64" r="0.79" fill="#3a3a3a" opacity="0.6"/><circle cx="156.14" cy="909.41" r="0.47" fill="#3a3a3a" opacity="0.6"/><circle cx="151.34" cy="910.00" r="1.01" fill="#333" opacity="0.6"/><circle cx="146.67" cy="909.97" r="0.98" fill="#9a9a9a" opacity="0.6"/><circle cx="154.93" cy="911.44" r="0.56" fill="#3a3a3a" opacity="0.6"/><circle cx="148.95" cy="912.06" r="0.97" fill="#9a9a9a" opacity="0.6"/><circle cx="150.87" cy="911.13" r="0.62" fill="#3a3a3a" opacity="0.6"/><circle cx="165.47" cy="913.22" r="0.47" fill="#2a2a2a" opacity="0.6"/><circle cx="155.95" cy="913.34" r="0.64" fill="#2a2a2a" opacity="0.6"/><circle cx="164.00" cy="913.22" r="0.73" fill="#3a3a3a" opacity="0.6"/><circle cx="151.19" cy="914.63" r="0.62" fill="#3a3a3a" opacity="0.6"/><circle cx="165.38" cy="913.87" r="0.57" fill="#2a2a2a" opacity="0.6"/><circle cx="161.80" cy="914.61" r="0.82" fill="#333" opacity="0.6"/><circle cx="164.64" cy="915.28" r="0.67" fill="#2a2a2a" opacity="0.6"/><circle cx="165.83" cy="916.08" r="0.55" fill="#3a3a3a" opacity="0.6"/><circle cx="153.06" cy="915.31" r="0.48" fill="#9a9a9a" opacity="0.6"/><circle cx="165.97" cy="916.75" r="0.73" fill="#9a9a9a" opacity="0.6"/><circle cx="167.15" cy="916.96" r="0.48" fill="#333" opacity="0.6"/><circle cx="170.72" cy="917.42" r="0.59" fill="#9a9a9a" opacity="0.6"/><circle cx="152.55" cy="918.39" r="0.86" fill="#2a2a2a" opacity="0.6"/><circle cx="161.31" cy="918.86" r="0.48" fill="#9a9a9a" opacity="0.6"/><circle cx="160.20" cy="918.65" r="0.98" fill="#3a3a3a" opacity="0.6"/><circle cx="155.10" cy="919.77" r="0.69" fill="#3a3a3a" opacity="0.6"/><circle cx="153.11" cy="919.48" r="0.51" fill="#3a3a3a" opacity="0.6"/><circle cx="163.85" cy="920.29" r="0.58" fill="#2a2a2a" opacity="0.6"/><circle cx="161.04" cy="920.84" r="0.70" fill="#9a9a9a" opacity="0.6"/><circle cx="162.68" cy="920.50" r="0.46" fill="#333" opacity="0.6"/><circle cx="166.05" cy="921.64" r="1.05" fill="#2a2a2a" opacity="0.6"/><circle cx="155.59" cy="922.29" r="0.92" fill="#333" opacity="0.6"/><circle cx="168.90" cy="922.03" r="0.53" fill="#2a2a2a" opacity="0.6"/><circle cx="162.10" cy="922.61" r="0.93" fill="#3a3a3a" opacity="0.6"/><circle cx="158.84" cy="923.51" r="0.60" fill="#3a3a3a" opacity="0.6"/><circle cx="168.66" cy="924.10" r="0.98" fill="#2a2a2a" opacity="0.6"/><circle cx="161.57" cy="923.25" r="0.90" fill="#2a2a2a" opacity="0.6"/><circle cx="170.67" cy="924.92" r="0.91" fill="#2a2a2a" opacity="0.6"/><circle cx="162.41" cy="925.16" r="0.84" fill="#2a2a2a" opacity="0.6"/><circle cx="167.61" cy="924.99" r="0.61" fill="#9a9a9a" opacity="0.6"/><circle cx="164.92" cy="925.51" r="0.63" fill="#3a3a3a" opacity="0.6"/><circle cx="159.68" cy="926.05" r="0.62" fill="#2a2a2a" opacity="0.6"/><circle cx="164.58" cy="926.14" r="0.47" fill="#2a2a2a" opacity="0.6"/><circle cx="156.62" cy="926.25" r="0.66" fill="#333" opacity="0.6"/><circle cx="171.74" cy="926.97" r="0.59" fill="#9a9a9a" opacity="0.6"/><circle cx="157.88" cy="926.36" r="0.66" fill="#3a3a3a" opacity="0.6"/><circle cx="165.86" cy="928.24" r="0.89" fill="#2a2a2a" opacity="0.6"/><circle cx="160.76" cy="927.91" r="0.83" fill="#3a3a3a" opacity="0.6"/><circle cx="163.63" cy="928.41" r="0.93" fill="#2a2a2a" opacity="0.6"/><circle cx="162.28" cy="928.54" r="0.59" fill="#9a9a9a" opacity="0.6"/><circle cx="159.85" cy="927.94" r="0.85" fill="#3a3a3a" opacity="0.6"/><circle cx="165.28" cy="929.32" r="0.81" fill="#2a2a2a" opacity="0.6"/><circle cx="159.86" cy="929.96" r="0.86" fill="#3a3a3a" opacity="0.6"/><circle cx="171.72" cy="928.73" r="0.80" fill="#9a9a9a" opacity="0.6"/><circle cx="167.92" cy="929.21" r="0.73" fill="#3a3a3a" opacity="0.6"/><circle cx="162.45" cy="929.73" r="0.79" fill="#333" opacity="0.6"/><circle cx="168.71" cy="930.61" r="0.67" fill="#3a3a3a" opacity="0.6"/><circle cx="169.34" cy="930.42" r="1.00" fill="#2a2a2a" opacity="0.6"/><circle cx="166.93" cy="930.72" r="0.54" fill="#3a3a3a" opacity="0.6"/><circle cx="165.42" cy="930.18" r="0.55" fill="#2a2a2a" opacity="0.6"/><circle cx="168.51" cy="930.54" r="1.00" fill="#333" opacity="0.6"/><circle cx="165.51" cy="931.46" r="0.77" fill="#2a2a2a" opacity="0.6"/><circle cx="168.94" cy="931.31" r="0.46" fill="#3a3a3a" opacity="0.6"/><circle cx="169.08" cy="930.78" r="0.86" fill="#333" opacity="0.6"/><circle cx="166.07" cy="932.07" r="0.78" fill="#9a9a9a" opacity="0.6"/><circle cx="165.46" cy="932.50" r="0.80" fill="#2a2a2a" opacity="0.6"/><circle cx="166.29" cy="932.52" r="0.67" fill="#2a2a2a" opacity="0.6"/><circle cx="167.62" cy="932.61" r="0.62" fill="#2a2a2a" opacity="0.6"/><circle cx="162.13" cy="932.99" r="0.82" fill="#9a9a9a" opacity="0.6"/><circle cx="164.48" cy="933.22" r="0.61" fill="#3a3a3a" opacity="0.6"/>
<path d="M144.70,854.50 L144.70,850.70 A3.10,5.70 0 0 1 150.90,850.70 L150.90,854.50" fill="#b4b4b4" stroke="#7e7e7e" stroke-width="0.7"/>
<path d="M150.50,854.00 L150.50,849.20 A3.10,7.20 0 0 1 156.70,849.20 L156.70,854.00" fill="#b4b4b4" stroke="#7e7e7e" stroke-width="0.7"/>
<path d="M156.40,853.50 L156.40,848.10 A3.10,8.10 0 0 1 162.60,848.10 L162.60,853.50" fill="#b4b4b4" stroke="#7e7e7e" stroke-width="0.7"/>
<path d="M162.20,853.00 L162.20,847.60 A2.80,8.10 0 0 1 167.80,847.60 L167.80,853.00" fill="#b4b4b4" stroke="#7e7e7e" stroke-width="0.7"/>
<defs><linearGradient id="wg3" gradientUnits="userSpaceOnUse" x1="0" y1="849.5" x2="0" y2="862.5"><stop offset="0" stop-color="#b9b9b9"/><stop offset="0.6" stop-color="#aaaaaa"/><stop offset="0.82" stop-color="#4a4a4a"/><stop offset="1" stop-color="#787878"/></linearGradient></defs>
<path d="M236.02,850.46 L235.63,851.33 L235.25,852.45 L234.90,853.78 L234.55,855.27 L234.21,856.86 L233.88,858.52 L233.54,860.20 L233.21,861.84 L232.87,863.40 L232.53,864.85 L232.49,866.17 L232.44,867.42 L232.39,868.62 L232.35,869.78 L232.30,870.91 L232.24,872.04 L232.19,873.18 L232.14,874.36 L232.09,875.59 L232.03,876.88 L232.12,878.25 L232.22,879.70 L232.31,881.23 L232.40,882.82 L232.49,884.46 L232.59,886.14 L232.69,887.84 L232.79,889.55 L232.91,891.27 L233.04,892.96 L233.32,894.63 L233.61,896.31 L233.91,897.99 L234.21,899.68 L234.52,901.36 L234.83,903.01 L235.14,904.63 L235.45,906.20 L235.76,907.72 L236.06,909.19 L236.57,910.59 L237.08,911.92 L237.60,913.19 L238.11,914.39 L238.61,915.54 L239.11,916.64 L239.61,917.71 L240.10,918.75 L240.57,919.78 L241.04,920.81 L241.81,921.88 L242.58,923.03 L243.34,924.23 L244.10,925.44 L244.86,926.62 L245.61,927.75 L246.35,928.79 L247.08,929.71 L247.80,930.49 L248.50,931.09 L250.50,930.91 L251.09,930.21 L251.66,929.33 L252.23,928.29 L252.78,927.13 L253.33,925.88 L253.86,924.56 L254.39,923.21 L254.92,921.85 L255.44,920.50 L255.96,919.19 L256.17,917.94 L256.37,916.71 L256.56,915.49 L256.76,914.29 L256.95,913.08 L257.14,911.88 L257.33,910.66 L257.53,909.42 L257.73,908.15 L257.94,906.81 L257.94,905.40 L257.93,903.91 L257.93,902.36 L257.92,900.77 L257.92,899.14 L257.91,897.50 L257.92,895.86 L257.92,894.22 L257.94,892.61 L257.96,891.04 L257.85,889.50 L257.74,887.92 L257.64,886.31 L257.54,884.68 L257.45,883.04 L257.36,881.40 L257.26,879.78 L257.17,878.19 L257.07,876.62 L256.97,875.12 L256.71,873.71 L256.46,872.39 L256.21,871.15 L255.96,869.97 L255.70,868.84 L255.45,867.73 L255.21,866.62 L254.96,865.51 L254.71,864.36 L254.47,863.15 L253.92,861.83 L253.36,860.37 L252.79,858.82 L252.23,857.22 L251.67,855.64 L251.11,854.11 L250.56,852.69 L250.02,851.42 L249.49,850.35 L248.98,849.54 L248.69,848.52 L247.97,847.61 L246.89,846.85 L245.50,846.32 L243.91,846.03 L242.22,846.01 L240.55,846.26 L239.01,846.77 L237.72,847.50 L236.74,848.40 L236.16,849.41Z" fill="url(#wg3)"/>
<path d="M246.64,860.86 L246.90,862.36 L247.16,863.72 L247.30,864.96 L247.45,866.15 L247.60,867.29 L247.75,868.41 L247.90,869.53 L248.05,870.66 L248.20,871.83 L248.35,873.05 L248.50,874.33 L248.66,875.71 L248.76,877.17 L248.85,878.69 L248.94,880.26 L249.04,881.88 L249.13,883.51 L249.22,885.16 L249.32,886.82 L249.43,888.46 L249.54,890.09 L249.65,891.68 L249.73,893.28 L249.82,894.92 L249.91,896.57 L250.01,898.23 L250.12,899.88 L250.22,901.51 L250.33,903.12 L250.44,904.67 L250.54,906.18 L250.65,907.60 L250.68,908.96 L250.72,910.25 L250.76,911.50 L250.80,912.72 L250.84,913.90 L250.88,915.07 L250.91,916.23 L250.94,917.39 L250.97,918.55 L250.99,919.73 L250.90,920.96 L250.81,922.24 L250.71,923.55 L250.61,924.85" stroke="#a8a8a8" stroke-width="0.9" fill="none" opacity="0.8"/>
<path d="M239.93,861.35 L239.89,862.88 L239.84,864.28 L239.90,865.56 L239.95,866.78 L240.00,867.95 L240.05,869.09 L240.10,870.22 L240.15,871.35 L240.20,872.51 L240.25,873.70 L240.30,874.96 L240.34,876.29 L240.44,877.71 L240.53,879.20 L240.62,880.75 L240.72,882.35 L240.81,883.99 L240.90,885.65 L241.00,887.33 L241.11,889.01 L241.22,890.68 L241.35,892.32 L241.53,893.95 L241.72,895.61 L241.91,897.28 L242.11,898.96 L242.32,900.62 L242.53,902.26 L242.74,903.87 L242.94,905.44 L243.15,906.95 L243.35,908.40 L243.63,909.77 L243.90,911.09 L244.18,912.35 L244.45,913.56 L244.73,914.72 L245.00,915.86 L245.26,916.97 L245.52,918.07 L245.77,919.17 L246.01,920.27 L246.35,921.42 L246.69,922.64 L247.03,923.89 L247.36,925.15" stroke="#a8a8a8" stroke-width="0.9" fill="none" opacity="0.8"/>
<path d="M251.38,858.92 L251.88,860.48 L252.37,861.95 L252.86,863.28 L253.08,864.49 L253.31,865.65 L253.53,866.77 L253.76,867.88 L253.99,868.99 L254.22,870.13 L254.45,871.30 L254.68,872.54 L254.91,873.85 L255.14,875.25 L255.24,876.74 L255.34,878.30 L255.43,879.89 L255.53,881.51 L255.62,883.14 L255.71,884.78 L255.81,886.42 L255.91,888.04 L256.02,889.63 L256.13,891.18 L256.13,892.76 L256.14,894.38 L256.16,896.02 L256.18,897.66 L256.20,899.31 L256.23,900.93 L256.26,902.52 L256.28,904.08 L256.31,905.57 L256.33,906.99 L256.18,908.33 L256.03,909.60 L255.89,910.85 L255.75,912.06 L255.60,913.26 L255.46,914.46 L255.32,915.65 L255.17,916.86 L255.02,918.07 L254.86,919.31 L254.44,920.60 L254.01,921.93 L253.58,923.29 L253.15,924.63 L252.71,925.94 L252.26,927.18" stroke="#4a4a4a" stroke-width="1.2" fill="none" opacity="0.75"/>
<path d="M247.79,859.17 L248.12,860.75 L248.45,862.24 L248.76,863.59 L248.93,864.83 L249.10,866.01 L249.28,867.14 L249.45,868.26 L249.62,869.38 L249.79,870.51 L249.96,871.68 L250.14,872.90 L250.31,874.20 L250.48,875.58 L250.59,877.05 L250.68,878.58 L250.77,880.16 L250.87,881.77 L250.96,883.41 L251.05,885.06 L251.15,886.71 L251.26,888.34 L251.36,889.96 L251.48,891.54 L251.54,893.13 L251.60,894.76 L251.67,896.41 L251.75,898.07 L251.83,899.72 L251.92,901.35 L252.00,902.95 L252.09,904.50 L252.17,906.01 L252.25,907.43 L252.23,908.78 L252.22,910.07 L252.20,911.32 L252.19,912.53 L252.18,913.72 L252.17,914.90 L252.16,916.07 L252.14,917.24 L252.11,918.42 L252.08,919.61 L251.90,920.86 L251.71,922.15 L251.52,923.48 L251.33,924.79 L251.13,926.07 L250.92,927.29" stroke="#4a4a4a" stroke-width="1.0" fill="none" opacity="0.75"/>
<path d="M244.97,859.38 L245.16,860.97 L245.36,862.47 L245.55,863.84 L245.67,865.09 L245.80,866.29 L245.93,867.43 L246.06,868.56 L246.18,869.68 L246.31,870.82 L246.44,871.98 L246.57,873.19 L246.70,874.47 L246.83,875.84 L246.93,877.29 L247.02,878.80 L247.11,880.37 L247.21,881.98 L247.30,883.62 L247.39,885.27 L247.49,886.93 L247.60,888.58 L247.71,890.22 L247.83,891.82 L247.93,893.43 L248.04,895.07 L248.15,896.73 L248.28,898.39 L248.40,900.04 L248.53,901.68 L248.66,903.28 L248.79,904.84 L248.92,906.35 L249.04,907.78 L249.13,909.14 L249.22,910.44 L249.31,911.69 L249.40,912.90 L249.49,914.08 L249.58,915.24 L249.67,916.39 L249.75,917.54 L249.83,918.69 L249.89,919.85 L249.90,921.06 L249.90,922.33 L249.90,923.62 L249.90,924.92 L249.88,926.18 L249.87,927.38" stroke="#4a4a4a" stroke-width="1.2" fill="none" opacity="0.75"/>
<path d="M241.37,859.63 L241.40,861.24 L241.43,862.76 L241.45,864.16 L241.53,865.43 L241.60,866.64 L241.67,867.81 L241.74,868.94 L241.82,870.07 L241.89,871.20 L241.96,872.36 L242.03,873.56 L242.10,874.82 L242.17,876.16 L242.27,877.59 L242.36,879.09 L242.45,880.64 L242.55,882.24 L242.64,883.88 L242.73,885.54 L242.83,887.22 L242.94,888.89 L243.05,890.55 L243.17,892.18 L243.33,893.81 L243.50,895.46 L243.67,897.13 L243.85,898.80 L244.04,900.46 L244.22,902.10 L244.41,903.71 L244.59,905.27 L244.78,906.78 L244.96,908.22 L245.18,909.59 L245.40,910.91 L245.62,912.16 L245.85,913.37 L246.07,914.54 L246.29,915.68 L246.50,916.81 L246.71,917.92 L246.92,919.03 L247.11,920.15 L247.35,921.32 L247.60,922.55 L247.84,923.82 L248.07,925.08 L248.30,926.32 L248.53,927.50" stroke="#4a4a4a" stroke-width="1.0" fill="none" opacity="0.75"/>
<path d="M238.55,859.84 L238.45,861.46 L238.35,862.99 L238.24,864.41 L238.27,865.70 L238.30,866.92 L238.32,868.10 L238.35,869.24 L238.38,870.37 L238.41,871.50 L238.44,872.66 L238.46,873.85 L238.49,875.10 L238.52,876.42 L238.61,877.83 L238.70,879.31 L238.79,880.85 L238.89,882.45 L238.98,884.09 L239.07,885.76 L239.17,887.44 L239.28,889.13 L239.39,890.81 L239.52,892.46 L239.72,894.10 L239.93,895.76 L240.15,897.44 L240.38,899.11 L240.60,900.78 L240.83,902.43 L241.07,904.04 L241.30,905.61 L241.52,907.12 L241.75,908.57 L242.07,909.95 L242.40,911.27 L242.73,912.53 L243.06,913.74 L243.38,914.90 L243.70,916.03 L244.02,917.13 L244.33,918.22 L244.63,919.30 L244.92,920.39 L245.35,921.52 L245.79,922.73 L246.22,923.96 L246.64,925.21 L247.06,926.43 L247.47,927.59" stroke="#4a4a4a" stroke-width="1.2" fill="none" opacity="0.75"/>
<path d="M234.95,860.10 L234.69,861.73 L234.42,863.29 L234.14,864.72 L234.12,866.03 L234.09,867.28 L234.07,868.47 L234.04,869.63 L234.01,870.76 L233.98,871.89 L233.95,873.03 L233.92,874.21 L233.89,875.45 L233.86,876.75 L233.95,878.13 L234.04,879.59 L234.14,881.12 L234.23,882.72 L234.32,884.36 L234.42,886.03 L234.52,887.73 L234.62,889.43 L234.74,891.14 L234.87,892.82 L235.13,894.48 L235.40,896.15 L235.67,897.84 L235.95,899.52 L236.24,901.19 L236.52,902.85 L236.81,904.46 L237.10,906.04 L237.38,907.55 L237.67,909.01 L238.12,910.41 L238.58,911.74 L239.04,913.01 L239.50,914.21 L239.96,915.36 L240.41,916.47 L240.85,917.55 L241.29,918.60 L241.72,919.64 L242.14,920.69 L242.81,921.78 L243.48,922.95 L244.15,924.15 L244.82,925.37 L245.48,926.56 L246.14,927.70" stroke="#4a4a4a" stroke-width="1.0" fill="none" opacity="0.75"/>
<circle cx="240.26" cy="861.33" r="0.84" fill="#2a2a2a" opacity="0.6"/><circle cx="248.80" cy="861.25" r="0.80" fill="#3a3a3a" opacity="0.6"/><circle cx="235.34" cy="861.75" r="0.49" fill="#2a2a2a" opacity="0.6"/><circle cx="244.31" cy="862.71" r="0.79" fill="#3a3a3a" opacity="0.6"/><circle cx="245.74" cy="863.49" r="0.49" fill="#9a9a9a" opacity="0.6"/><circle cx="235.32" cy="862.95" r="0.78" fill="#3a3a3a" opacity="0.6"/><circle cx="239.57" cy="864.22" r="0.52" fill="#333" opacity="0.6"/><circle cx="244.63" cy="865.02" r="0.51" fill="#3a3a3a" opacity="0.6"/><circle cx="241.11" cy="864.82" r="0.49" fill="#2a2a2a" opacity="0.6"/><circle cx="245.86" cy="866.01" r="0.77" fill="#333" opacity="0.6"/><circle cx="242.95" cy="866.65" r="0.67" fill="#3a3a3a" opacity="0.6"/><circle cx="249.18" cy="866.31" r="0.60" fill="#333" opacity="0.6"/><circle cx="244.18" cy="867.78" r="0.89" fill="#333" opacity="0.6"/><circle cx="245.79" cy="866.57" r="0.76" fill="#3a3a3a" opacity="0.6"/><circle cx="248.64" cy="866.69" r="0.74" fill="#2a2a2a" opacity="0.6"/><circle cx="252.79" cy="867.74" r="0.78" fill="#333" opacity="0.6"/><circle cx="240.69" cy="868.15" r="0.75" fill="#9a9a9a" opacity="0.6"/><circle cx="235.41" cy="867.76" r="0.61" fill="#2a2a2a" opacity="0.6"/><circle cx="235.24" cy="869.80" r="0.84" fill="#9a9a9a" opacity="0.6"/><circle cx="239.65" cy="869.33" r="0.85" fill="#2a2a2a" opacity="0.6"/><circle cx="252.59" cy="869.29" r="0.82" fill="#9a9a9a" opacity="0.6"/><circle cx="235.19" cy="871.03" r="0.53" fill="#3a3a3a" opacity="0.6"/><circle cx="241.96" cy="871.25" r="0.75" fill="#3a3a3a" opacity="0.6"/><circle cx="242.99" cy="870.70" r="0.98" fill="#9a9a9a" opacity="0.6"/><circle cx="251.46" cy="871.43" r="0.70" fill="#333" opacity="0.6"/><circle cx="247.80" cy="871.58" r="0.59" fill="#2a2a2a" opacity="0.6"/><circle cx="237.55" cy="871.36" r="0.59" fill="#9a9a9a" opacity="0.6"/><circle cx="250.98" cy="872.44" r="0.62" fill="#3a3a3a" opacity="0.6"/><circle cx="242.54" cy="872.72" r="0.79" fill="#3a3a3a" opacity="0.6"/><circle cx="248.10" cy="872.94" r="0.82" fill="#2a2a2a" opacity="0.6"/><circle cx="243.40" cy="874.68" r="1.02" fill="#9a9a9a" opacity="0.6"/><circle cx="242.19" cy="873.97" r="0.74" fill="#9a9a9a" opacity="0.6"/><circle cx="235.22" cy="873.48" r="0.58" fill="#3a3a3a" opacity="0.6"/><circle cx="236.21" cy="875.55" r="0.51" fill="#3a3a3a" opacity="0.6"/><circle cx="245.17" cy="876.07" r="0.82" fill="#2a2a2a" opacity="0.6"/><circle cx="252.26" cy="875.57" r="0.54" fill="#333" opacity="0.6"/><circle cx="254.18" cy="876.90" r="0.73" fill="#2a2a2a" opacity="0.6"/><circle cx="251.91" cy="877.49" r="0.73" fill="#9a9a9a" opacity="0.6"/><circle cx="240.50" cy="876.22" r="0.90" fill="#333" opacity="0.6"/><circle cx="244.14" cy="878.48" r="0.76" fill="#3a3a3a" opacity="0.6"/><circle cx="254.18" cy="878.23" r="0.54" fill="#2a2a2a" opacity="0.6"/><circle cx="250.08" cy="877.89" r="0.84" fill="#2a2a2a" opacity="0.6"/><circle cx="248.86" cy="879.34" r="0.67" fill="#3a3a3a" opacity="0.6"/><circle cx="241.63" cy="879.28" r="0.77" fill="#333" opacity="0.6"/><circle cx="247.59" cy="879.86" r="0.92" fill="#3a3a3a" opacity="0.6"/><circle cx="251.29" cy="881.73" r="0.89" fill="#3a3a3a" opacity="0.6"/><circle cx="238.41" cy="881.25" r="0.89" fill="#2a2a2a" opacity="0.6"/><circle cx="250.95" cy="881.21" r="0.57" fill="#333" opacity="0.6"/><circle cx="243.75" cy="883.52" r="1.04" fill="#333" opacity="0.6"/><circle cx="235.96" cy="882.27" r="0.73" fill="#333" opacity="0.6"/><circle cx="238.59" cy="883.05" r="0.99" fill="#2a2a2a" opacity="0.6"/><circle cx="244.53" cy="884.73" r="0.93" fill="#2a2a2a" opacity="0.6"/><circle cx="252.08" cy="883.93" r="0.68" fill="#3a3a3a" opacity="0.6"/><circle cx="244.50" cy="884.02" r="0.92" fill="#333" opacity="0.6"/><circle cx="236.28" cy="886.83" r="0.88" fill="#9a9a9a" opacity="0.6"/><circle cx="242.97" cy="886.83" r="0.88" fill="#3a3a3a" opacity="0.6"/><circle cx="255.54" cy="885.45" r="0.80" fill="#9a9a9a" opacity="0.6"/><circle cx="251.68" cy="887.29" r="0.95" fill="#9a9a9a" opacity="0.6"/><circle cx="248.51" cy="887.60" r="0.78" fill="#3a3a3a" opacity="0.6"/><circle cx="234.99" cy="888.27" r="0.89" fill="#2a2a2a" opacity="0.6"/><circle cx="245.83" cy="890.14" r="0.71" fill="#3a3a3a" opacity="0.6"/><circle cx="252.20" cy="889.05" r="0.60" fill="#333" opacity="0.6"/><circle cx="245.29" cy="889.88" r="0.65" fill="#9a9a9a" opacity="0.6"/><circle cx="252.48" cy="890.47" r="0.89" fill="#9a9a9a" opacity="0.6"/><circle cx="248.83" cy="891.60" r="0.76" fill="#3a3a3a" opacity="0.6"/><circle cx="246.06" cy="891.17" r="0.46" fill="#9a9a9a" opacity="0.6"/><circle cx="251.38" cy="892.91" r="0.92" fill="#3a3a3a" opacity="0.6"/><circle cx="238.54" cy="892.71" r="0.89" fill="#2a2a2a" opacity="0.6"/><circle cx="241.80" cy="892.78" r="0.78" fill="#2a2a2a" opacity="0.6"/><circle cx="253.68" cy="893.70" r="0.56" fill="#2a2a2a" opacity="0.6"/><circle cx="251.35" cy="894.38" r="0.79" fill="#2a2a2a" opacity="0.6"/><circle cx="244.44" cy="894.54" r="0.75" fill="#3a3a3a" opacity="0.6"/><circle cx="249.77" cy="895.94" r="0.77" fill="#9a9a9a" opacity="0.6"/><circle cx="245.93" cy="895.64" r="0.76" fill="#333" opacity="0.6"/><circle cx="254.54" cy="896.60" r="0.57" fill="#9a9a9a" opacity="0.6"/><circle cx="238.48" cy="897.11" r="0.72" fill="#2a2a2a" opacity="0.6"/><circle cx="249.42" cy="897.57" r="0.58" fill="#333" opacity="0.6"/><circle cx="251.73" cy="898.27" r="0.54" fill="#333" opacity="0.6"/><circle cx="238.84" cy="899.92" r="1.03" fill="#3a3a3a" opacity="0.6"/><circle cx="251.05" cy="898.73" r="0.98" fill="#3a3a3a" opacity="0.6"/><circle cx="255.97" cy="899.84" r="0.55" fill="#9a9a9a" opacity="0.6"/><circle cx="256.09" cy="900.86" r="0.70" fill="#333" opacity="0.6"/><circle cx="242.59" cy="901.33" r="0.46" fill="#9a9a9a" opacity="0.6"/><circle cx="245.03" cy="900.28" r="0.65" fill="#333" opacity="0.6"/><circle cx="246.62" cy="901.98" r="1.04" fill="#3a3a3a" opacity="0.6"/><circle cx="255.68" cy="902.05" r="0.61" fill="#2a2a2a" opacity="0.6"/><circle cx="254.38" cy="902.16" r="0.90" fill="#9a9a9a" opacity="0.6"/><circle cx="253.34" cy="904.51" r="1.02" fill="#9a9a9a" opacity="0.6"/><circle cx="239.71" cy="904.87" r="0.79" fill="#333" opacity="0.6"/><circle cx="238.54" cy="903.58" r="0.86" fill="#9a9a9a" opacity="0.6"/><circle cx="254.29" cy="905.46" r="0.46" fill="#2a2a2a" opacity="0.6"/><circle cx="252.49" cy="905.18" r="0.96" fill="#2a2a2a" opacity="0.6"/><circle cx="242.17" cy="905.24" r="0.46" fill="#9a9a9a" opacity="0.6"/><circle cx="254.94" cy="906.96" r="0.53" fill="#3a3a3a" opacity="0.6"/><circle cx="255.15" cy="908.02" r="0.61" fill="#3a3a3a" opacity="0.6"/><circle cx="241.19" cy="907.03" r="0.63" fill="#3a3a3a" opacity="0.6"/><circle cx="243.07" cy="908.75" r="0.56" fill="#333" opacity="0.6"/><circle cx="252.68" cy="909.49" r="0.47" fill="#2a2a2a" opacity="0.6"/><circle cx="251.36" cy="908.83" r="0.56" fill="#9a9a9a" opacity="0.6"/><circle cx="242.55" cy="910.04" r="0.84" fill="#9a9a9a" opacity="0.6"/><circle cx="249.99" cy="910.19" r="0.98" fill="#333" opacity="0.6"/><circle cx="250.55" cy="910.84" r="0.66" fill="#3a3a3a" opacity="0.6"/><circle cx="245.64" cy="911.19" r="0.48" fill="#3a3a3a" opacity="0.6"/><circle cx="238.80" cy="911.61" r="0.98" fill="#9a9a9a" opacity="0.6"/><circle cx="241.41" cy="910.80" r="0.95" fill="#333" opacity="0.6"/><circle cx="249.14" cy="912.96" r="0.48" fill="#3a3a3a" opacity="0.6"/><circle cx="241.67" cy="912.59" r="0.61" fill="#333" opacity="0.6"/><circle cx="255.46" cy="912.75" r="0.60" fill="#333" opacity="0.6"/><circle cx="243.02" cy="913.41" r="0.65" fill="#2a2a2a" opacity="0.6"/><circle cx="247.21" cy="913.89" r="0.57" fill="#2a2a2a" opacity="0.6"/><circle cx="240.95" cy="914.36" r="0.54" fill="#2a2a2a" opacity="0.6"/><circle cx="246.11" cy="914.76" r="0.83" fill="#2a2a2a" opacity="0.6"/><circle cx="249.13" cy="915.11" r="0.90" fill="#9a9a9a" opacity="0.6"/><circle cx="251.94" cy="915.39" r="0.75" fill="#333" opacity="0.6"/><circle cx="251.33" cy="916.43" r="0.48" fill="#9a9a9a" opacity="0.6"/><circle cx="251.47" cy="916.68" r="0.53" fill="#2a2a2a" opacity="0.6"/><circle cx="252.87" cy="916.34" r="0.99" fill="#3a3a3a" opacity="0.6"/><circle cx="242.06" cy="916.66" r="0.83" fill="#2a2a2a" opacity="0.6"/><circle cx="246.29" cy="917.28" r="0.48" fill="#2a2a2a" opacity="0.6"/><circle cx="249.92" cy="917.62" r="0.74" fill="#2a2a2a" opacity="0.6"/><circle cx="247.63" cy="917.83" r="1.01" fill="#2a2a2a" opacity="0.6"/><circle cx="250.45" cy="917.83" r="0.89" fill="#333" opacity="0.6"/><circle cx="252.54" cy="919.00" r="0.59" fill="#3a3a3a" opacity="0.6"/><circle cx="244.78" cy="919.83" r="0.73" fill="#9a9a9a" opacity="0.6"/><circle cx="242.72" cy="920.22" r="0.62" fill="#2a2a2a" opacity="0.6"/><circle cx="249.93" cy="919.82" r="0.50" fill="#3a3a3a" opacity="0.6"/><circle cx="246.36" cy="920.98" r="0.87" fill="#3a3a3a" opacity="0.6"/><circle cx="242.28" cy="920.09" r="0.61" fill="#2a2a2a" opacity="0.6"/><circle cx="250.95" cy="921.01" r="0.62" fill="#333" opacity="0.6"/><circle cx="248.21" cy="921.89" r="0.52" fill="#3a3a3a" opacity="0.6"/><circle cx="246.43" cy="921.32" r="0.73" fill="#333" opacity="0.6"/><circle cx="248.15" cy="922.42" r="1.03" fill="#9a9a9a" opacity="0.6"/><circle cx="253.95" cy="923.02" r="1.00" fill="#3a3a3a" opacity="0.6"/><circle cx="244.26" cy="922.58" r="0.90" fill="#333" opacity="0.6"/><circle cx="253.52" cy="922.64" r="0.94" fill="#333" opacity="0.6"/><circle cx="252.52" cy="924.78" r="0.59" fill="#9a9a9a" opacity="0.6"/><circle cx="247.87" cy="923.96" r="1.02" fill="#9a9a9a" opacity="0.6"/><circle cx="247.98" cy="924.81" r="0.70" fill="#9a9a9a" opacity="0.6"/><circle cx="247.45" cy="926.26" r="0.45" fill="#333" opacity="0.6"/><circle cx="251.81" cy="925.18" r="1.01" fill="#2a2a2a" opacity="0.6"/><circle cx="252.33" cy="925.43" r="0.67" fill="#9a9a9a" opacity="0.6"/><circle cx="248.30" cy="927.55" r="0.50" fill="#9a9a9a" opacity="0.6"/><circle cx="250.94" cy="927.53" r="0.62" fill="#2a2a2a" opacity="0.6"/><circle cx="251.51" cy="926.68" r="1.01" fill="#3a3a3a" opacity="0.6"/><circle cx="252.08" cy="928.09" r="0.64" fill="#333" opacity="0.6"/><circle cx="250.94" cy="928.08" r="0.47" fill="#9a9a9a" opacity="0.6"/><circle cx="251.73" cy="928.85" r="0.78" fill="#2a2a2a" opacity="0.6"/><circle cx="247.03" cy="929.64" r="0.72" fill="#3a3a3a" opacity="0.6"/><circle cx="250.01" cy="928.97" r="0.48" fill="#3a3a3a" opacity="0.6"/><circle cx="247.64" cy="929.16" r="0.62" fill="#333" opacity="0.6"/>
<path d="M232.60,861.00 L232.60,856.40 A4.70,6.90 0 0 1 242.00,856.40 L242.00,861.00" fill="#b4b4b4" stroke="#7e7e7e" stroke-width="0.7"/>
<path d="M242.60,861.50 L242.60,857.10 A4.70,6.60 0 0 1 252.00,857.10 L252.00,861.50" fill="#b4b4b4" stroke="#7e7e7e" stroke-width="0.7"/>
<defs><linearGradient id="wg4" gradientUnits="userSpaceOnUse" x1="0" y1="835.0" x2="0" y2="852.0"><stop offset="0" stop-color="#b9b9b9"/><stop offset="0.6" stop-color="#aaaaaa"/><stop offset="0.82" stop-color="#4a4a4a"/><stop offset="1" stop-color="#646464"/></linearGradient></defs>
<path d="M333.50,835.88 L332.81,836.82 L332.11,838.03 L331.41,839.47 L330.70,841.08 L329.99,842.82 L329.28,844.64 L328.57,846.50 L327.86,848.34 L327.15,850.12 L326.45,851.79 L326.38,853.38 L326.30,854.95 L326.22,856.52 L326.15,858.09 L326.07,859.68 L326.00,861.29 L325.93,862.92 L325.86,864.57 L325.80,866.27 L325.75,867.99 L325.73,869.75 L325.71,871.53 L325.69,873.34 L325.68,875.17 L325.68,877.02 L325.67,878.88 L325.67,880.74 L325.68,882.60 L325.69,884.46 L325.70,886.30 L325.80,888.16 L325.90,890.04 L326.00,891.93 L326.11,893.82 L326.23,895.71 L326.34,897.56 L326.46,899.39 L326.58,901.16 L326.69,902.88 L326.81,904.54 L327.13,906.14 L327.45,907.70 L327.77,909.22 L328.10,910.69 L328.42,912.12 L328.75,913.49 L329.07,914.82 L329.39,916.10 L329.70,917.34 L330.01,918.53 L330.57,919.68 L331.13,920.80 L331.68,921.89 L332.23,922.95 L332.78,923.96 L333.33,924.92 L333.88,925.84 L334.42,926.71 L334.97,927.53 L335.51,928.29 L335.95,929.01 L336.39,929.67 L336.82,930.28 L337.26,930.84 L337.69,931.34 L338.12,931.80 L338.54,932.20 L338.97,932.55 L339.39,932.84 L339.80,933.09 L342.80,932.91 L343.18,932.61 L343.56,932.25 L343.93,931.85 L344.30,931.40 L344.67,930.91 L345.04,930.36 L345.41,929.77 L345.77,929.13 L346.13,928.44 L346.49,927.71 L346.95,926.91 L347.41,926.05 L347.86,925.14 L348.31,924.18 L348.77,923.17 L349.21,922.11 L349.66,921.01 L350.10,919.87 L350.55,918.69 L350.99,917.47 L351.17,916.22 L351.36,914.94 L351.54,913.62 L351.71,912.27 L351.89,910.88 L352.07,909.47 L352.24,908.02 L352.42,906.54 L352.60,905.02 L352.79,903.46 L352.77,901.84 L352.76,900.15 L352.74,898.40 L352.73,896.61 L352.71,894.79 L352.70,892.96 L352.69,891.12 L352.69,889.29 L352.69,887.48 L352.70,885.70 L352.63,883.92 L352.58,882.13 L352.52,880.33 L352.47,878.53 L352.42,876.73 L352.38,874.94 L352.34,873.16 L352.31,871.41 L352.28,869.69 L352.25,868.01 L352.20,866.37 L352.16,864.77 L352.13,863.19 L352.10,861.63 L352.07,860.07 L352.04,858.52 L352.02,856.96 L352.00,855.39 L351.97,853.80 L351.95,852.21 L351.30,850.53 L350.66,848.75 L350.02,846.89 L349.38,845.02 L348.74,843.18 L348.10,841.42 L347.45,839.78 L346.81,838.32 L346.16,837.08 L345.50,836.12 L345.31,835.08 L344.73,834.10 L343.80,833.25 L342.57,832.59 L341.13,832.17 L339.58,832.00 L338.02,832.11 L336.57,832.48 L335.31,833.09 L334.34,833.90 L333.73,834.85Z" fill="url(#wg4)"/>
<path d="M344.96,848.65 L345.26,850.43 L345.57,852.10 L345.57,853.70 L345.57,855.28 L345.57,856.85 L345.57,858.41 L345.57,859.97 L345.57,861.54 L345.58,863.12 L345.59,864.72 L345.60,866.34 L345.62,868.00 L345.64,869.70 L345.66,871.44 L345.68,873.21 L345.71,875.00 L345.74,876.80 L345.77,878.62 L345.81,880.43 L345.85,882.25 L345.90,884.06 L345.95,885.85 L345.97,887.65 L345.99,889.48 L346.02,891.32 L346.05,893.18 L346.09,895.02 L346.13,896.85 L346.17,898.65 L346.21,900.40 L346.25,902.10 L346.29,903.73 L346.24,905.30 L346.18,906.83 L346.13,908.32 L346.07,909.77 L346.02,911.19 L345.97,912.57 L345.92,913.92 L345.86,915.23 L345.81,916.50 L345.74,917.74 L345.55,918.94 L345.36,920.10 L345.17,921.23 L344.97,922.32 L344.77,923.37 L344.57,924.37 L344.37,925.32 L344.16,926.22 L343.95,927.06 L343.75,927.85 L343.59,928.58 L343.42,929.27 L343.26,929.90 L343.10,930.48" stroke="#a0a0a0" stroke-width="0.9" fill="none" opacity="0.8"/>
<path d="M339.23,850.33 L339.20,852.00 L339.17,853.59 L339.15,855.17 L339.12,856.74 L339.09,858.30 L339.07,859.88 L339.05,861.46 L339.03,863.05 L339.01,864.67 L339.00,866.32 L339.00,868.00 L339.00,869.72 L339.01,871.47 L339.02,873.25 L339.03,875.06 L339.05,876.88 L339.07,878.70 L339.10,880.54 L339.13,882.37 L339.16,884.19 L339.20,886.00 L339.24,887.82 L339.29,889.66 L339.35,891.53 L339.41,893.39 L339.47,895.25 L339.53,897.09 L339.60,898.89 L339.67,900.66 L339.73,902.36 L339.80,904.00 L339.87,905.58 L339.94,907.12 L340.01,908.62 L340.08,910.08 L340.16,911.50 L340.23,912.88 L340.30,914.22 L340.37,915.52 L340.44,916.78 L340.50,918.00 L340.56,919.18 L340.62,920.34 L340.67,921.45 L340.72,922.53 L340.78,923.56 L340.82,924.55 L340.87,925.49 L340.92,926.38 L340.96,927.22 L341.00,928.00 L341.04,928.73 L341.08,929.40 L341.11,930.02 L341.15,930.60" stroke="#a0a0a0" stroke-width="0.9" fill="none" opacity="0.8"/>
<path d="M333.19,850.23 L332.83,851.90 L332.78,853.48 L332.72,855.06 L332.67,856.63 L332.62,858.20 L332.57,859.78 L332.52,861.37 L332.48,862.98 L332.44,864.62 L332.40,866.29 L332.38,868.00 L332.36,869.73 L332.36,871.50 L332.36,873.30 L332.36,875.11 L332.36,876.95 L332.37,878.79 L332.39,880.64 L332.40,882.49 L332.43,884.32 L332.45,886.15 L332.52,887.99 L332.60,889.85 L332.68,891.73 L332.76,893.61 L332.85,895.48 L332.94,897.33 L333.03,899.14 L333.12,900.91 L333.21,902.62 L333.31,904.27 L333.50,905.86 L333.69,907.41 L333.89,908.92 L334.09,910.39 L334.29,911.81 L334.49,913.19 L334.68,914.52 L334.88,915.81 L335.07,917.06 L335.26,918.26 L335.57,919.43 L335.87,920.57 L336.18,921.67 L336.48,922.74 L336.78,923.76 L337.08,924.74 L337.38,925.67 L337.67,926.55 L337.96,927.38 L338.25,928.15 L338.49,928.87 L338.73,929.53 L338.97,930.15 L339.20,930.72" stroke="#a0a0a0" stroke-width="0.9" fill="none" opacity="0.8"/>
<path d="M349.40,848.72 L349.97,850.51 L350.55,852.18 L350.56,853.78 L350.58,855.36 L350.60,856.93 L350.62,858.49 L350.64,860.05 L350.66,861.61 L350.69,863.17 L350.72,864.76 L350.75,866.36 L350.79,868.00 L350.82,869.69 L350.84,871.42 L350.88,873.17 L350.91,874.95 L350.95,876.74 L351.00,878.55 L351.04,880.35 L351.10,882.16 L351.15,883.95 L351.21,885.73 L351.21,887.51 L351.21,889.33 L351.22,891.16 L351.24,893.01 L351.25,894.84 L351.27,896.66 L351.30,898.46 L351.32,900.21 L351.34,901.90 L351.36,903.52 L351.20,905.08 L351.05,906.60 L350.90,908.08 L350.75,909.53 L350.60,910.95 L350.45,912.33 L350.30,913.68 L350.15,915.00 L349.99,916.28 L349.83,917.53 L349.45,918.74 L349.06,919.92 L348.67,921.06 L348.28,922.16 L347.89,923.21 L347.49,924.22 L347.09,925.18 L346.69,926.09 L346.29,926.94 L345.89,927.74 L345.57,928.47 L345.25,929.16 L344.93,929.80 L344.61,930.39 L344.29,930.93 L343.96,931.43" stroke="#3c3c3c" stroke-width="1.2" fill="none" opacity="0.75"/>
<path d="M346.21,848.67 L346.59,850.45 L346.98,852.13 L346.98,853.72 L346.98,855.30 L346.99,856.87 L346.99,858.43 L347.00,859.99 L347.01,861.56 L347.02,863.14 L347.03,864.73 L347.06,866.35 L347.08,868.00 L347.10,869.70 L347.12,871.44 L347.15,873.20 L347.18,874.98 L347.21,876.79 L347.25,878.60 L347.29,880.41 L347.33,882.22 L347.38,884.03 L347.43,885.82 L347.45,887.61 L347.46,889.43 L347.49,891.28 L347.52,893.13 L347.55,894.97 L347.58,896.80 L347.62,898.59 L347.65,900.35 L347.69,902.05 L347.72,903.67 L347.64,905.24 L347.55,906.76 L347.47,908.25 L347.39,909.71 L347.31,911.12 L347.23,912.51 L347.15,913.85 L347.07,915.16 L346.99,916.44 L346.90,917.68 L346.65,918.88 L346.40,920.05 L346.15,921.18 L345.90,922.27 L345.65,923.32 L345.39,924.32 L345.14,925.28 L344.88,926.18 L344.61,927.03 L344.35,927.82 L344.15,928.55 L343.94,929.24 L343.73,929.87 L343.52,930.46 L343.31,930.99 L343.10,931.48" stroke="#3c3c3c" stroke-width="1.0" fill="none" opacity="0.75"/>
<path d="M343.70,848.62 L343.94,850.41 L344.17,852.08 L344.17,853.67 L344.16,855.25 L344.15,856.82 L344.14,858.39 L344.14,859.95 L344.14,861.52 L344.14,863.11 L344.14,864.71 L344.15,866.34 L344.17,868.00 L344.18,869.71 L344.19,871.45 L344.21,873.22 L344.24,875.01 L344.27,876.82 L344.30,878.64 L344.33,880.46 L344.37,882.28 L344.42,884.09 L344.46,885.88 L344.49,887.69 L344.52,889.52 L344.55,891.37 L344.59,893.22 L344.63,895.07 L344.68,896.90 L344.72,898.70 L344.77,900.46 L344.82,902.16 L344.87,903.79 L344.83,905.36 L344.81,906.89 L344.78,908.39 L344.76,909.84 L344.73,911.26 L344.71,912.64 L344.68,913.99 L344.66,915.29 L344.62,916.56 L344.59,917.79 L344.45,918.99 L344.32,920.15 L344.18,921.28 L344.03,922.36 L343.89,923.41 L343.75,924.41 L343.60,925.36 L343.45,926.25 L343.30,927.10 L343.14,927.89 L343.03,928.61 L342.91,929.29 L342.79,929.93 L342.67,930.51 L342.54,931.04 L342.42,931.52" stroke="#3c3c3c" stroke-width="1.2" fill="none" opacity="0.75"/>
<path d="M340.51,848.57 L340.56,850.35 L340.60,852.02 L340.58,853.61 L340.56,855.19 L340.54,856.76 L340.52,858.33 L340.50,859.90 L340.48,861.47 L340.47,863.07 L340.46,864.68 L340.46,866.32 L340.46,868.00 L340.46,869.72 L340.47,871.47 L340.48,873.24 L340.50,875.04 L340.52,876.86 L340.55,878.68 L340.57,880.51 L340.61,882.34 L340.64,884.16 L340.68,885.97 L340.72,887.78 L340.77,889.62 L340.82,891.48 L340.87,893.34 L340.93,895.20 L340.98,897.04 L341.05,898.84 L341.11,900.60 L341.17,902.31 L341.23,903.94 L341.27,905.52 L341.31,907.06 L341.35,908.55 L341.40,910.01 L341.45,911.43 L341.49,912.81 L341.54,914.15 L341.58,915.46 L341.62,916.72 L341.65,917.94 L341.66,919.13 L341.66,920.28 L341.66,921.40 L341.66,922.48 L341.65,923.52 L341.65,924.51 L341.64,925.45 L341.63,926.35 L341.62,927.19 L341.60,927.97 L341.60,928.69 L341.59,929.37 L341.59,930.00 L341.58,930.57 L341.57,931.10 L341.55,931.58" stroke="#3c3c3c" stroke-width="1.0" fill="none" opacity="0.75"/>
<path d="M338.00,848.52 L337.90,850.31 L337.80,851.98 L337.77,853.57 L337.73,855.14 L337.70,856.71 L337.67,858.28 L337.64,859.85 L337.61,861.44 L337.59,863.04 L337.57,864.66 L337.55,866.31 L337.54,868.00 L337.54,869.72 L337.55,871.48 L337.55,873.26 L337.56,875.07 L337.58,876.89 L337.60,878.72 L337.62,880.56 L337.65,882.39 L337.68,884.22 L337.72,886.03 L337.76,887.86 L337.82,889.71 L337.88,891.57 L337.94,893.44 L338.01,895.30 L338.08,897.14 L338.15,898.95 L338.23,900.71 L338.30,902.42 L338.37,904.06 L338.47,905.64 L338.56,907.18 L338.66,908.69 L338.76,910.15 L338.87,911.57 L338.97,912.95 L339.07,914.29 L339.16,915.58 L339.26,916.84 L339.35,918.06 L339.46,919.24 L339.57,920.39 L339.68,921.50 L339.79,922.57 L339.90,923.61 L340.00,924.59 L340.10,925.53 L340.20,926.42 L340.30,927.25 L340.40,928.03 L340.48,928.76 L340.56,929.43 L340.64,930.05 L340.72,930.63 L340.80,931.15 L340.87,931.62" stroke="#3c3c3c" stroke-width="1.2" fill="none" opacity="0.75"/>
<path d="M334.81,848.46 L334.52,850.25 L334.23,851.92 L334.18,853.51 L334.14,855.08 L334.09,856.65 L334.04,858.22 L334.00,859.80 L333.96,861.39 L333.92,863.00 L333.88,864.63 L333.86,866.30 L333.83,868.00 L333.82,869.73 L333.82,871.50 L333.82,873.29 L333.83,875.10 L333.83,876.93 L333.85,878.77 L333.86,880.62 L333.88,882.46 L333.91,884.30 L333.94,886.12 L334.00,887.95 L334.07,889.81 L334.14,891.68 L334.22,893.56 L334.30,895.43 L334.39,897.27 L334.48,899.09 L334.56,900.85 L334.65,902.56 L334.73,904.21 L334.90,905.80 L335.07,907.35 L335.24,908.85 L335.41,910.32 L335.58,911.74 L335.75,913.12 L335.92,914.45 L336.09,915.75 L336.25,917.00 L336.41,918.21 L336.66,919.38 L336.92,920.52 L337.17,921.62 L337.41,922.69 L337.66,923.72 L337.90,924.70 L338.14,925.63 L338.38,926.51 L338.62,927.34 L338.86,928.11 L339.05,928.84 L339.25,929.51 L339.44,930.12 L339.63,930.69 L339.82,931.21 L340.00,931.68" stroke="#3c3c3c" stroke-width="1.0" fill="none" opacity="0.75"/>
<path d="M332.31,848.42 L331.86,850.20 L331.42,851.87 L331.37,853.46 L331.31,855.03 L331.25,856.60 L331.20,858.17 L331.14,859.76 L331.09,861.35 L331.04,862.97 L330.99,864.61 L330.95,866.29 L330.92,868.00 L330.90,869.74 L330.90,871.51 L330.89,873.31 L330.89,875.13 L330.89,876.96 L330.90,878.81 L330.91,880.66 L330.92,882.51 L330.94,884.35 L330.97,886.18 L331.04,888.03 L331.12,889.89 L331.21,891.77 L331.30,893.66 L331.39,895.53 L331.49,897.38 L331.58,899.19 L331.68,900.96 L331.78,902.68 L331.88,904.33 L332.10,905.92 L332.32,907.48 L332.55,908.99 L332.77,910.45 L333.00,911.88 L333.22,913.25 L333.45,914.59 L333.67,915.88 L333.89,917.12 L334.10,918.32 L334.47,919.49 L334.83,920.62 L335.19,921.72 L335.55,922.78 L335.90,923.80 L336.25,924.78 L336.61,925.71 L336.96,926.59 L337.30,927.41 L337.65,928.18 L337.93,928.90 L338.22,929.56 L338.50,930.18 L338.77,930.74 L339.05,931.26 L339.32,931.72" stroke="#3c3c3c" stroke-width="1.2" fill="none" opacity="0.75"/>
<path d="M329.11,848.36 L328.48,850.15 L327.85,851.82 L327.78,853.40 L327.71,854.97 L327.64,856.54 L327.57,858.12 L327.50,859.70 L327.43,861.31 L327.37,862.93 L327.31,864.59 L327.26,866.27 L327.21,868.00 L327.19,869.75 L327.17,871.53 L327.16,873.33 L327.15,875.16 L327.15,877.01 L327.15,878.86 L327.15,880.72 L327.16,882.58 L327.17,884.43 L327.19,886.27 L327.28,888.12 L327.37,890.00 L327.47,891.89 L327.58,893.78 L327.68,895.66 L327.79,897.51 L327.90,899.33 L328.02,901.11 L328.13,902.82 L328.24,904.48 L328.53,906.08 L328.82,907.64 L329.12,909.16 L329.42,910.63 L329.71,912.05 L330.01,913.43 L330.30,914.76 L330.60,916.04 L330.88,917.28 L331.17,918.47 L331.67,919.63 L332.17,920.75 L332.67,921.85 L333.17,922.90 L333.66,923.91 L334.16,924.88 L334.65,925.81 L335.14,926.68 L335.63,927.50 L336.11,928.26 L336.51,928.98 L336.90,929.64 L337.29,930.25 L337.68,930.81 L338.07,931.32 L338.46,931.77" stroke="#3c3c3c" stroke-width="1.0" fill="none" opacity="0.75"/>
<circle cx="338.47" cy="850.89" r="0.53" fill="#2a2a2a" opacity="0.6"/><circle cx="335.91" cy="851.02" r="0.81" fill="#333" opacity="0.6"/><circle cx="340.34" cy="851.25" r="0.47" fill="#9a9a9a" opacity="0.6"/><circle cx="332.03" cy="853.42" r="1.02" fill="#9a9a9a" opacity="0.6"/><circle cx="331.77" cy="852.36" r="0.52" fill="#2a2a2a" opacity="0.6"/><circle cx="345.14" cy="852.58" r="0.90" fill="#2a2a2a" opacity="0.6"/><circle cx="348.29" cy="853.90" r="0.58" fill="#9a9a9a" opacity="0.6"/><circle cx="347.65" cy="854.75" r="1.00" fill="#9a9a9a" opacity="0.6"/><circle cx="334.41" cy="854.81" r="0.57" fill="#2a2a2a" opacity="0.6"/><circle cx="347.43" cy="855.25" r="0.68" fill="#9a9a9a" opacity="0.6"/><circle cx="331.26" cy="855.52" r="0.89" fill="#2a2a2a" opacity="0.6"/><circle cx="349.28" cy="855.17" r="0.91" fill="#3a3a3a" opacity="0.6"/><circle cx="347.79" cy="857.04" r="0.45" fill="#2a2a2a" opacity="0.6"/><circle cx="331.08" cy="858.11" r="0.75" fill="#9a9a9a" opacity="0.6"/><circle cx="339.94" cy="857.03" r="0.49" fill="#3a3a3a" opacity="0.6"/><circle cx="342.15" cy="858.44" r="0.80" fill="#3a3a3a" opacity="0.6"/><circle cx="348.77" cy="859.38" r="0.47" fill="#333" opacity="0.6"/><circle cx="340.31" cy="859.21" r="0.54" fill="#333" opacity="0.6"/><circle cx="344.30" cy="860.74" r="0.47" fill="#9a9a9a" opacity="0.6"/><circle cx="349.03" cy="860.23" r="0.82" fill="#2a2a2a" opacity="0.6"/><circle cx="344.28" cy="861.14" r="0.76" fill="#2a2a2a" opacity="0.6"/><circle cx="347.20" cy="861.62" r="0.98" fill="#333" opacity="0.6"/><circle cx="337.97" cy="862.06" r="1.04" fill="#2a2a2a" opacity="0.6"/><circle cx="336.36" cy="862.37" r="0.45" fill="#2a2a2a" opacity="0.6"/><circle cx="332.65" cy="863.72" r="0.64" fill="#2a2a2a" opacity="0.6"/><circle cx="334.73" cy="863.48" r="0.76" fill="#2a2a2a" opacity="0.6"/><circle cx="328.46" cy="864.22" r="0.93" fill="#9a9a9a" opacity="0.6"/><circle cx="335.57" cy="865.84" r="0.79" fill="#2a2a2a" opacity="0.6"/><circle cx="337.34" cy="865.02" r="1.03" fill="#9a9a9a" opacity="0.6"/><circle cx="339.23" cy="866.11" r="0.79" fill="#3a3a3a" opacity="0.6"/><circle cx="342.76" cy="866.58" r="0.96" fill="#333" opacity="0.6"/><circle cx="328.44" cy="867.73" r="0.94" fill="#333" opacity="0.6"/><circle cx="349.02" cy="867.80" r="0.81" fill="#2a2a2a" opacity="0.6"/><circle cx="328.84" cy="868.68" r="0.92" fill="#333" opacity="0.6"/><circle cx="341.51" cy="869.45" r="0.66" fill="#3a3a3a" opacity="0.6"/><circle cx="338.57" cy="868.42" r="1.03" fill="#333" opacity="0.6"/><circle cx="343.42" cy="869.82" r="0.72" fill="#9a9a9a" opacity="0.6"/><circle cx="340.99" cy="870.92" r="0.85" fill="#333" opacity="0.6"/><circle cx="345.13" cy="871.04" r="0.75" fill="#2a2a2a" opacity="0.6"/><circle cx="348.58" cy="871.89" r="0.53" fill="#2a2a2a" opacity="0.6"/><circle cx="331.37" cy="872.66" r="0.97" fill="#3a3a3a" opacity="0.6"/><circle cx="331.68" cy="872.16" r="0.79" fill="#9a9a9a" opacity="0.6"/><circle cx="329.58" cy="874.08" r="0.81" fill="#333" opacity="0.6"/><circle cx="339.82" cy="874.66" r="0.47" fill="#9a9a9a" opacity="0.6"/><circle cx="340.02" cy="874.04" r="0.77" fill="#2a2a2a" opacity="0.6"/><circle cx="347.60" cy="875.92" r="1.02" fill="#2a2a2a" opacity="0.6"/><circle cx="344.14" cy="876.14" r="0.51" fill="#9a9a9a" opacity="0.6"/><circle cx="337.98" cy="875.79" r="0.83" fill="#2a2a2a" opacity="0.6"/><circle cx="343.12" cy="876.92" r="0.60" fill="#9a9a9a" opacity="0.6"/><circle cx="332.94" cy="878.11" r="0.89" fill="#9a9a9a" opacity="0.6"/><circle cx="347.60" cy="876.93" r="0.81" fill="#2a2a2a" opacity="0.6"/><circle cx="343.13" cy="879.31" r="0.49" fill="#3a3a3a" opacity="0.6"/><circle cx="328.46" cy="879.83" r="0.50" fill="#2a2a2a" opacity="0.6"/><circle cx="335.76" cy="879.41" r="0.77" fill="#2a2a2a" opacity="0.6"/><circle cx="343.74" cy="880.65" r="0.50" fill="#333" opacity="0.6"/><circle cx="327.88" cy="881.97" r="0.80" fill="#9a9a9a" opacity="0.6"/><circle cx="350.20" cy="881.79" r="0.51" fill="#333" opacity="0.6"/><circle cx="343.04" cy="883.05" r="0.53" fill="#3a3a3a" opacity="0.6"/><circle cx="330.18" cy="882.45" r="0.49" fill="#2a2a2a" opacity="0.6"/><circle cx="336.21" cy="883.48" r="0.73" fill="#3a3a3a" opacity="0.6"/><circle cx="336.17" cy="885.14" r="0.59" fill="#333" opacity="0.6"/><circle cx="345.19" cy="885.22" r="0.46" fill="#333" opacity="0.6"/><circle cx="349.33" cy="884.22" r="0.51" fill="#9a9a9a" opacity="0.6"/><circle cx="329.05" cy="886.38" r="0.96" fill="#3a3a3a" opacity="0.6"/><circle cx="342.39" cy="887.02" r="0.53" fill="#2a2a2a" opacity="0.6"/><circle cx="346.09" cy="887.46" r="0.92" fill="#9a9a9a" opacity="0.6"/><circle cx="349.09" cy="889.13" r="1.00" fill="#2a2a2a" opacity="0.6"/><circle cx="328.48" cy="888.48" r="0.70" fill="#333" opacity="0.6"/><circle cx="339.05" cy="888.34" r="0.95" fill="#9a9a9a" opacity="0.6"/><circle cx="337.70" cy="889.78" r="0.63" fill="#9a9a9a" opacity="0.6"/><circle cx="341.81" cy="890.52" r="0.71" fill="#3a3a3a" opacity="0.6"/><circle cx="335.41" cy="889.75" r="0.51" fill="#333" opacity="0.6"/><circle cx="340.34" cy="891.81" r="0.88" fill="#3a3a3a" opacity="0.6"/><circle cx="349.42" cy="891.65" r="1.03" fill="#9a9a9a" opacity="0.6"/><circle cx="332.79" cy="892.34" r="0.65" fill="#2a2a2a" opacity="0.6"/><circle cx="343.24" cy="894.02" r="0.59" fill="#333" opacity="0.6"/><circle cx="345.37" cy="894.59" r="0.75" fill="#9a9a9a" opacity="0.6"/><circle cx="344.31" cy="893.82" r="0.77" fill="#2a2a2a" opacity="0.6"/><circle cx="333.25" cy="896.72" r="0.64" fill="#2a2a2a" opacity="0.6"/><circle cx="331.56" cy="895.49" r="0.51" fill="#9a9a9a" opacity="0.6"/><circle cx="342.83" cy="895.84" r="0.98" fill="#3a3a3a" opacity="0.6"/><circle cx="339.73" cy="897.62" r="1.02" fill="#3a3a3a" opacity="0.6"/><circle cx="335.50" cy="897.67" r="0.56" fill="#3a3a3a" opacity="0.6"/><circle cx="341.12" cy="897.10" r="0.86" fill="#2a2a2a" opacity="0.6"/><circle cx="334.65" cy="899.68" r="0.90" fill="#9a9a9a" opacity="0.6"/><circle cx="348.73" cy="900.03" r="0.61" fill="#3a3a3a" opacity="0.6"/><circle cx="339.98" cy="899.61" r="1.05" fill="#3a3a3a" opacity="0.6"/><circle cx="335.90" cy="901.78" r="0.66" fill="#2a2a2a" opacity="0.6"/><circle cx="340.68" cy="902.05" r="0.47" fill="#3a3a3a" opacity="0.6"/><circle cx="340.51" cy="902.08" r="0.91" fill="#9a9a9a" opacity="0.6"/><circle cx="331.63" cy="902.68" r="0.78" fill="#9a9a9a" opacity="0.6"/><circle cx="333.45" cy="902.67" r="0.86" fill="#9a9a9a" opacity="0.6"/><circle cx="328.86" cy="903.19" r="0.48" fill="#333" opacity="0.6"/><circle cx="339.72" cy="904.09" r="0.93" fill="#9a9a9a" opacity="0.6"/><circle cx="348.35" cy="904.66" r="0.89" fill="#3a3a3a" opacity="0.6"/><circle cx="341.04" cy="905.38" r="1.03" fill="#2a2a2a" opacity="0.6"/><circle cx="348.34" cy="905.97" r="0.60" fill="#9a9a9a" opacity="0.6"/><circle cx="350.03" cy="905.86" r="0.77" fill="#333" opacity="0.6"/><circle cx="343.56" cy="907.04" r="0.55" fill="#2a2a2a" opacity="0.6"/><circle cx="344.54" cy="908.00" r="1.03" fill="#333" opacity="0.6"/><circle cx="335.34" cy="907.31" r="0.63" fill="#2a2a2a" opacity="0.6"/><circle cx="330.93" cy="908.35" r="0.60" fill="#9a9a9a" opacity="0.6"/><circle cx="349.68" cy="908.68" r="0.55" fill="#3a3a3a" opacity="0.6"/><circle cx="347.99" cy="909.69" r="0.83" fill="#9a9a9a" opacity="0.6"/><circle cx="347.19" cy="909.80" r="1.00" fill="#3a3a3a" opacity="0.6"/><circle cx="346.84" cy="910.13" r="1.05" fill="#3a3a3a" opacity="0.6"/><circle cx="335.71" cy="910.80" r="0.56" fill="#2a2a2a" opacity="0.6"/><circle cx="340.33" cy="910.83" r="0.61" fill="#333" opacity="0.6"/><circle cx="342.41" cy="912.92" r="0.66" fill="#2a2a2a" opacity="0.6"/><circle cx="350.11" cy="912.61" r="0.84" fill="#9a9a9a" opacity="0.6"/><circle cx="336.39" cy="912.78" r="0.57" fill="#2a2a2a" opacity="0.6"/><circle cx="334.33" cy="913.96" r="0.60" fill="#333" opacity="0.6"/><circle cx="334.86" cy="913.15" r="0.83" fill="#333" opacity="0.6"/><circle cx="337.69" cy="913.84" r="0.64" fill="#3a3a3a" opacity="0.6"/><circle cx="341.31" cy="914.26" r="0.90" fill="#3a3a3a" opacity="0.6"/><circle cx="332.44" cy="914.54" r="0.61" fill="#9a9a9a" opacity="0.6"/><circle cx="337.59" cy="915.06" r="0.87" fill="#2a2a2a" opacity="0.6"/><circle cx="332.78" cy="916.13" r="0.71" fill="#3a3a3a" opacity="0.6"/><circle cx="332.13" cy="916.38" r="0.75" fill="#9a9a9a" opacity="0.6"/><circle cx="337.83" cy="916.51" r="0.99" fill="#333" opacity="0.6"/><circle cx="344.51" cy="917.55" r="0.70" fill="#3a3a3a" opacity="0.6"/><circle cx="349.10" cy="917.25" r="0.72" fill="#333" opacity="0.6"/><circle cx="339.27" cy="918.25" r="0.70" fill="#2a2a2a" opacity="0.6"/><circle cx="332.59" cy="918.54" r="0.89" fill="#3a3a3a" opacity="0.6"/><circle cx="338.94" cy="918.55" r="0.67" fill="#9a9a9a" opacity="0.6"/><circle cx="340.65" cy="919.09" r="0.49" fill="#2a2a2a" opacity="0.6"/><circle cx="345.64" cy="920.15" r="0.70" fill="#2a2a2a" opacity="0.6"/><circle cx="337.31" cy="919.30" r="0.61" fill="#3a3a3a" opacity="0.6"/><circle cx="348.61" cy="920.62" r="1.04" fill="#3a3a3a" opacity="0.6"/><circle cx="342.36" cy="920.70" r="0.88" fill="#2a2a2a" opacity="0.6"/><circle cx="342.11" cy="920.34" r="0.71" fill="#2a2a2a" opacity="0.6"/><circle cx="338.69" cy="920.75" r="1.03" fill="#3a3a3a" opacity="0.6"/><circle cx="347.89" cy="921.56" r="0.76" fill="#333" opacity="0.6"/><circle cx="335.22" cy="922.57" r="0.98" fill="#3a3a3a" opacity="0.6"/><circle cx="337.69" cy="921.88" r="0.89" fill="#333" opacity="0.6"/><circle cx="347.65" cy="923.29" r="0.97" fill="#2a2a2a" opacity="0.6"/><circle cx="342.03" cy="923.48" r="0.74" fill="#2a2a2a" opacity="0.6"/><circle cx="334.68" cy="923.66" r="0.95" fill="#333" opacity="0.6"/><circle cx="334.98" cy="924.28" r="0.80" fill="#3a3a3a" opacity="0.6"/><circle cx="347.47" cy="924.30" r="0.70" fill="#9a9a9a" opacity="0.6"/><circle cx="346.75" cy="924.43" r="0.46" fill="#333" opacity="0.6"/><circle cx="340.03" cy="925.43" r="0.97" fill="#333" opacity="0.6"/><circle cx="344.20" cy="924.81" r="0.45" fill="#333" opacity="0.6"/><circle cx="340.96" cy="925.22" r="0.76" fill="#333" opacity="0.6"/><circle cx="338.78" cy="925.76" r="0.87" fill="#333" opacity="0.6"/><circle cx="343.20" cy="925.97" r="0.74" fill="#333" opacity="0.6"/><circle cx="345.99" cy="925.92" r="0.51" fill="#333" opacity="0.6"/><circle cx="338.71" cy="926.47" r="0.69" fill="#9a9a9a" opacity="0.6"/><circle cx="336.16" cy="927.00" r="0.72" fill="#9a9a9a" opacity="0.6"/><circle cx="340.39" cy="926.45" r="0.58" fill="#2a2a2a" opacity="0.6"/><circle cx="341.71" cy="927.34" r="0.91" fill="#333" opacity="0.6"/><circle cx="335.95" cy="928.55" r="0.92" fill="#9a9a9a" opacity="0.6"/><circle cx="343.34" cy="927.46" r="0.50" fill="#2a2a2a" opacity="0.6"/><circle cx="337.45" cy="929.28" r="0.55" fill="#333" opacity="0.6"/><circle cx="338.76" cy="928.30" r="0.87" fill="#3a3a3a" opacity="0.6"/><circle cx="340.93" cy="928.81" r="0.69" fill="#333" opacity="0.6"/><circle cx="340.75" cy="929.33" r="0.50" fill="#333" opacity="0.6"/><circle cx="345.27" cy="929.82" r="0.56" fill="#2a2a2a" opacity="0.6"/><circle cx="341.96" cy="929.30" r="0.72" fill="#2a2a2a" opacity="0.6"/><circle cx="341.88" cy="930.61" r="0.68" fill="#333" opacity="0.6"/><circle cx="338.16" cy="929.90" r="0.94" fill="#333" opacity="0.6"/><circle cx="341.45" cy="930.34" r="0.51" fill="#2a2a2a" opacity="0.6"/><circle cx="340.11" cy="930.72" r="0.67" fill="#3a3a3a" opacity="0.6"/><circle cx="342.42" cy="930.84" r="0.84" fill="#2a2a2a" opacity="0.6"/><circle cx="342.04" cy="930.41" r="0.80" fill="#3a3a3a" opacity="0.6"/><circle cx="340.27" cy="931.04" r="0.57" fill="#3a3a3a" opacity="0.6"/><circle cx="340.52" cy="931.86" r="0.47" fill="#3a3a3a" opacity="0.6"/><circle cx="343.17" cy="930.63" r="0.87" fill="#2a2a2a" opacity="0.6"/><circle cx="341.94" cy="931.73" r="0.70" fill="#333" opacity="0.6"/><circle cx="341.71" cy="931.84" r="0.70" fill="#333" opacity="0.6"/><circle cx="338.85" cy="931.88" r="0.54" fill="#333" opacity="0.6"/><circle cx="338.62" cy="933.00" r="0.51" fill="#333" opacity="0.6"/><circle cx="341.99" cy="931.60" r="0.92" fill="#3a3a3a" opacity="0.6"/><circle cx="341.33" cy="932.87" r="1.02" fill="#333" opacity="0.6"/><circle cx="339.86" cy="933.04" r="0.85" fill="#3a3a3a" opacity="0.6"/><circle cx="342.84" cy="932.31" r="0.91" fill="#2a2a2a" opacity="0.6"/><circle cx="342.27" cy="932.06" r="0.97" fill="#2a2a2a" opacity="0.6"/>
<path d="M327.95,851.50 L327.95,846.70 A4.25,7.20 0 0 1 336.45,846.70 L336.45,851.50" fill="#b4b4b4" stroke="#7e7e7e" stroke-width="0.7"/>
<path d="M339.75,850.30 L339.75,844.10 A4.25,9.30 0 0 1 348.25,844.10 L348.25,850.30" fill="#b4b4b4" stroke="#7e7e7e" stroke-width="0.7"/>
</g>
<rect x="351.30" y="940.30" width="32.50" height="2.60" fill="#111" stroke="none" stroke-width="0" rx="0" />
<text x="8.50" y="961.00" font-size="11.6" >RNAi:</text>
<text x="58.80" y="961.00" font-size="11.6" >ctrl</text>
<text x="136.20" y="961.00" font-size="11.6" font-style="italic" >C32E8.9</text>
<text x="230.20" y="960.20" font-size="11.6" font-style="italic" >mrps-5</text>
<text x="317.20" y="953.70" font-size="11.6" font-style="italic" >mrps-5 +</text>
<text x="317.20" y="966.80" font-size="11.6" font-style="italic" >C32E8.9</text>
<text x="402.20" y="808.80" font-size="16" font-weight="bold" fill="#111" >h</text>
<path d="M464.50,948.50 L464.50,849.00 L490.30,849.00 L490.30,948.50" stroke="#8a8a8a" stroke-width="1.6" fill="#fff"/>
<line x1="477.40" y1="842.80" x2="477.40" y2="853.40" stroke="#6e6e6e" stroke-width="1.3" />
<line x1="471.20" y1="842.80" x2="483.60" y2="842.80" stroke="#6e6e6e" stroke-width="1.3" />
<line x1="471.20" y1="853.40" x2="483.60" y2="853.40" stroke="#6e6e6e" stroke-width="1.3" />
<circle cx="477.2" cy="841.2" r="2.5" fill="#6e6e6e"/>
<circle cx="472.5" cy="848.2" r="2.5" fill="#6e6e6e"/>
<circle cx="482.6" cy="850.6" r="2.5" fill="#6e6e6e"/>
<circle cx="472.5" cy="854.5" r="2.5" fill="#6e6e6e"/>
<path d="M503.40,948.50 L503.40,845.90 L529.20,845.90 L529.20,948.50" stroke="#1a8a9e" stroke-width="1.6" fill="#fff"/>
<line x1="516.30" y1="841.70" x2="516.30" y2="846.80" stroke="#1a8a9e" stroke-width="1.3" />
<line x1="510.10" y1="841.70" x2="522.50" y2="841.70" stroke="#1a8a9e" stroke-width="1.3" />
<line x1="510.10" y1="846.80" x2="522.50" y2="846.80" stroke="#1a8a9e" stroke-width="1.3" />
<circle cx="505.2" cy="846.4" r="2.5" fill="#1a8a9e"/>
<circle cx="516.2" cy="841.7" r="2.5" fill="#1a8a9e"/>
<circle cx="526.2" cy="840.5" r="2.5" fill="#1a8a9e"/>
<circle cx="526.2" cy="846.4" r="2.5" fill="#1a8a9e"/>
<path d="M541.90,948.50 L541.90,876.30 L567.60,876.30 L567.60,948.50" stroke="#b2262c" stroke-width="1.6" fill="#fff"/>
<line x1="554.75" y1="872.90" x2="554.75" y2="879.00" stroke="#a5121a" stroke-width="1.3" />
<line x1="548.55" y1="872.90" x2="560.95" y2="872.90" stroke="#a5121a" stroke-width="1.3" />
<line x1="548.55" y1="879.00" x2="560.95" y2="879.00" stroke="#a5121a" stroke-width="1.3" />
<circle cx="544.5" cy="872.7" r="2.5" fill="#a5121a"/>
<circle cx="555" cy="872.7" r="2.5" fill="#a5121a"/>
<circle cx="565.3" cy="877.2" r="2.5" fill="#a5121a"/>
<circle cx="544.5" cy="879.5" r="2.5" fill="#a5121a"/>
<path d="M580.70,948.50 L580.70,855.40 L606.40,855.40 L606.40,948.50" stroke="#d98a33" stroke-width="1.6" fill="#fff"/>
<line x1="593.55" y1="853.60" x2="593.55" y2="856.60" stroke="#d0700e" stroke-width="1.3" />
<line x1="587.35" y1="853.60" x2="599.75" y2="853.60" stroke="#d0700e" stroke-width="1.3" />
<line x1="587.35" y1="856.60" x2="599.75" y2="856.60" stroke="#d0700e" stroke-width="1.3" />
<circle cx="583" cy="856.9" r="2.5" fill="#d0700e"/>
<circle cx="590" cy="853.4" r="2.5" fill="#d0700e"/>
<circle cx="597" cy="855.2" r="2.5" fill="#d0700e"/>
<circle cx="604" cy="854.1" r="2.5" fill="#d0700e"/>
<line x1="451.40" y1="829.70" x2="451.40" y2="949.10" stroke="#111" stroke-width="1.3" />
<line x1="450.80" y1="948.50" x2="620.10" y2="948.50" stroke="#111" stroke-width="1.3" />
<line x1="449.00" y1="948.50" x2="451.40" y2="948.50" stroke="#111" stroke-width="1.1" />
<line x1="449.00" y1="919.02" x2="451.40" y2="919.02" stroke="#111" stroke-width="1.1" />
<line x1="449.00" y1="889.54" x2="451.40" y2="889.54" stroke="#111" stroke-width="1.1" />
<line x1="449.00" y1="860.06" x2="451.40" y2="860.06" stroke="#111" stroke-width="1.1" />
<line x1="449.00" y1="830.58" x2="451.40" y2="830.58" stroke="#111" stroke-width="1.1" />
<text x="447.00" y="951.60" font-size="9.9" text-anchor="end" >0</text>
<text x="447.00" y="922.40" font-size="9.9" text-anchor="end" >2</text>
<text x="447.00" y="893.00" font-size="9.9" text-anchor="end" >4</text>
<text x="447.00" y="863.80" font-size="9.9" text-anchor="end" >6</text>
<text x="447.00" y="834.90" font-size="9.9" text-anchor="end" >8</text>
<text x="434.40" y="884.50" font-size="11.6" text-anchor="middle" font-weight="bold" fill="#111" transform="rotate(-90 434.40 884.50)" >Body size (area)</text>
<path d="M478.3,821.7 L478.3,817.4 L553.3,817.4 L553.3,821.7" stroke="#111" stroke-width="1.2" fill="none"/>
<text x="515.65" y="819.90" font-size="12.3" text-anchor="middle" >***</text>
<path d="M553.4,835.4 L553.4,831.6 L594.2,831.6 L594.2,835.4" stroke="#111" stroke-width="1.2" fill="none"/>
<text x="574.00" y="834.60" font-size="12.3" text-anchor="middle" >****</text>
<text x="633.00" y="845.50" font-size="10.6" >RNAi:</text>
<circle cx="625.9" cy="862.8" r="3.0" fill="#6e6e6e"/>
<circle cx="625.9" cy="884.3" r="3.0" fill="#1a8a9e"/>
<circle cx="625.9" cy="905.0" r="3.0" fill="#a5121a"/>
<circle cx="625.9" cy="927.3" r="3.0" fill="#d0700e"/>
<text x="633.30" y="864.70" font-size="10.6" >ctrl</text>
<text x="633.30" y="887.60" font-size="10.6" font-style="italic" >C32E8.9</text>
<text x="633.50" y="907.40" font-size="10.6" font-style="italic" >mrps-5</text>
<text x="633.50" y="927.30" font-size="10.6" font-style="italic" >mrps-5 +</text>
<text x="633.30" y="940.00" font-size="10.6" font-style="italic" >C32E8.9</text>
</svg>
</body></html>
